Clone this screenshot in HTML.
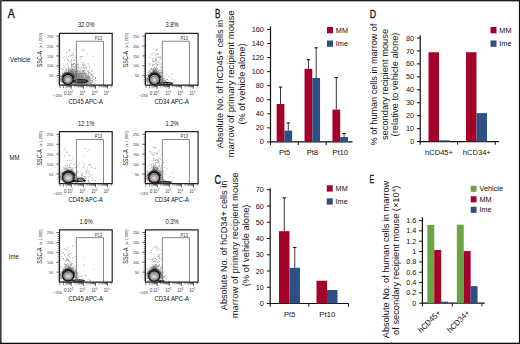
<!DOCTYPE html>
<html><head><meta charset="utf-8"><style>
html,body{margin:0;padding:0;background:#fff;width:520px;height:344px;overflow:hidden;}
svg{display:block;font-family:"Liberation Sans", sans-serif;}
</style></head><body>
<svg width="520" height="344" viewBox="0 0 520 344" font-family='"Liberation Sans", sans-serif'><text x="7.80" y="18.00" font-size="12.2" text-anchor="start" fill="#111" textLength="7.0" lengthAdjust="spacingAndGlyphs" stroke="#111" stroke-width="0.3">A</text>
<text x="214.90" y="18.00" font-size="12.2" text-anchor="start" fill="#111" textLength="5.4" lengthAdjust="spacingAndGlyphs" stroke="#111" stroke-width="0.3">B</text>
<text x="214.40" y="183.60" font-size="12.2" text-anchor="start" fill="#111" textLength="6.6" lengthAdjust="spacingAndGlyphs" stroke="#111" stroke-width="0.3">C</text>
<text x="369.80" y="17.60" font-size="11.4" text-anchor="start" fill="#111" textLength="6.4" lengthAdjust="spacingAndGlyphs" stroke="#111" stroke-width="0.3">D</text>
<text x="369.60" y="182.90" font-size="11.6" text-anchor="start" fill="#111" textLength="4.7" lengthAdjust="spacingAndGlyphs" stroke="#111" stroke-width="0.3">E</text>
<text x="10.10" y="61.50" font-size="7.2" text-anchor="start" fill="#111" textLength="20.299999999999997" lengthAdjust="spacingAndGlyphs" >Vehicle</text>
<text x="9.50" y="160.00" font-size="7.2" text-anchor="start" fill="#111" textLength="10.0" lengthAdjust="spacingAndGlyphs" >MM</text>
<text x="8.75" y="258.50" font-size="7.2" text-anchor="start" fill="#111" textLength="10.0" lengthAdjust="spacingAndGlyphs" >Ime</text>
<defs><radialGradient id="hz"><stop offset="0" stop-color="#000" stop-opacity="1"/><stop offset="1" stop-color="#000" stop-opacity="0"/></radialGradient></defs>
<ellipse cx="73.50" cy="74.20" rx="11" ry="9" fill="url(#hz)" opacity="0.35"/>
<ellipse cx="67.90" cy="75.20" rx="4.5" ry="4" fill="url(#hz)" opacity="0.5"/>
<path d="M68.5 75.2h.8v.8h-.8zM71.4 84.0h.8v.8h-.8zM66.0 84.2h.8v.8h-.8zM68.7 78.3h.8v.8h-.8zM73.4 84.0h.8v.8h-.8zM70.4 83.8h.8v.8h-.8zM63.2 83.5h.8v.8h-.8zM72.7 82.4h.8v.8h-.8zM63.1 77.0h.8v.8h-.8zM62.9 80.2h.8v.8h-.8zM70.7 67.1h.8v.8h-.8zM69.3 81.6h.8v.8h-.8zM70.7 81.4h.8v.8h-.8zM71.0 69.5h.8v.8h-.8zM71.6 75.5h.8v.8h-.8zM74.0 80.5h.8v.8h-.8zM68.2 84.1h.8v.8h-.8zM69.1 82.6h.8v.8h-.8zM67.8 81.3h.8v.8h-.8zM65.9 76.8h.8v.8h-.8zM66.4 70.5h.8v.8h-.8zM70.4 73.9h.8v.8h-.8zM69.7 78.0h.8v.8h-.8zM74.5 66.0h.8v.8h-.8zM69.1 49.4h.8v.8h-.8zM66.4 83.6h.8v.8h-.8zM63.9 83.2h.8v.8h-.8zM72.6 78.7h.8v.8h-.8zM75.0 71.7h.8v.8h-.8zM70.9 77.0h.8v.8h-.8zM71.8 74.0h.8v.8h-.8zM67.2 76.6h.8v.8h-.8zM65.8 68.2h.8v.8h-.8zM67.5 58.6h.8v.8h-.8zM64.0 84.1h.8v.8h-.8zM70.4 73.8h.8v.8h-.8zM62.3 69.2h.8v.8h-.8zM73.2 79.1h.8v.8h-.8zM70.4 84.2h.8v.8h-.8zM71.2 71.5h.8v.8h-.8zM71.5 80.2h.8v.8h-.8zM71.6 66.2h.8v.8h-.8zM73.1 77.5h.8v.8h-.8zM71.5 65.4h.8v.8h-.8zM72.7 81.8h.8v.8h-.8zM62.6 79.9h.8v.8h-.8zM64.5 56.2h.8v.8h-.8zM75.6 83.2h.8v.8h-.8zM70.7 82.3h.8v.8h-.8zM72.0 78.7h.8v.8h-.8zM67.9 79.8h.8v.8h-.8zM66.2 57.2h.8v.8h-.8zM73.1 74.1h.8v.8h-.8zM64.3 74.6h.8v.8h-.8zM69.0 84.2h.8v.8h-.8zM74.8 66.0h.8v.8h-.8zM65.6 70.3h.8v.8h-.8zM66.5 83.7h.8v.8h-.8zM71.9 75.6h.8v.8h-.8zM70.8 82.6h.8v.8h-.8zM70.0 83.1h.8v.8h-.8zM70.6 83.2h.8v.8h-.8zM71.7 66.0h.8v.8h-.8zM67.9 82.1h.8v.8h-.8zM68.1 80.9h.8v.8h-.8zM68.2 67.7h.8v.8h-.8zM65.2 83.9h.8v.8h-.8zM70.4 83.7h.8v.8h-.8zM67.9 68.8h.8v.8h-.8zM72.0 83.1h.8v.8h-.8zM78.7 77.9h.8v.8h-.8zM70.8 83.3h.8v.8h-.8zM68.6 77.9h.8v.8h-.8zM69.3 50.1h.8v.8h-.8zM73.3 82.0h.8v.8h-.8zM65.1 80.6h.8v.8h-.8zM72.8 77.9h.8v.8h-.8zM75.2 71.1h.8v.8h-.8zM68.2 69.7h.8v.8h-.8zM73.6 69.3h.8v.8h-.8zM64.0 72.6h.8v.8h-.8zM70.2 80.7h.8v.8h-.8zM72.5 82.0h.8v.8h-.8zM70.0 74.1h.8v.8h-.8zM73.5 59.8h.8v.8h-.8zM73.0 82.5h.8v.8h-.8zM68.5 82.4h.8v.8h-.8zM70.3 75.9h.8v.8h-.8zM71.9 63.9h.8v.8h-.8zM71.8 75.2h.8v.8h-.8zM65.8 70.2h.8v.8h-.8zM74.3 63.1h.8v.8h-.8zM72.3 71.0h.8v.8h-.8zM69.5 82.9h.8v.8h-.8zM65.2 70.7h.8v.8h-.8zM66.1 52.6h.8v.8h-.8zM75.4 80.2h.8v.8h-.8zM62.0 73.1h.8v.8h-.8zM74.8 83.0h.8v.8h-.8zM71.0 63.5h.8v.8h-.8zM71.1 69.9h.8v.8h-.8zM73.8 49.4h.8v.8h-.8zM75.2 75.1h.8v.8h-.8zM66.7 83.4h.8v.8h-.8zM74.9 78.0h.8v.8h-.8zM68.5 60.3h.8v.8h-.8zM62.5 69.0h.8v.8h-.8zM72.6 82.6h.8v.8h-.8zM69.5 82.2h.8v.8h-.8zM72.7 76.8h.8v.8h-.8zM69.3 83.4h.8v.8h-.8zM73.5 63.0h.8v.8h-.8zM66.9 76.8h.8v.8h-.8zM72.8 63.6h.8v.8h-.8zM62.0 78.4h.8v.8h-.8zM73.6 77.9h.8v.8h-.8zM68.8 79.5h.8v.8h-.8zM69.4 82.9h.8v.8h-.8zM76.3 83.0h.8v.8h-.8zM69.7 78.9h.8v.8h-.8zM68.7 81.1h.8v.8h-.8zM64.7 78.1h.8v.8h-.8zM63.2 83.7h.8v.8h-.8zM67.2 77.3h.8v.8h-.8zM69.5 71.4h.8v.8h-.8zM72.6 78.3h.8v.8h-.8zM63.6 62.8h.8v.8h-.8zM67.1 79.4h.8v.8h-.8zM66.1 78.2h.8v.8h-.8zM66.6 74.1h.8v.8h-.8zM65.0 78.8h.8v.8h-.8zM70.9 59.2h.8v.8h-.8zM67.1 59.0h.8v.8h-.8zM62.1 82.0h.8v.8h-.8zM61.0 68.2h.8v.8h-.8zM66.2 83.4h.8v.8h-.8zM72.5 84.0h.8v.8h-.8zM72.3 82.2h.8v.8h-.8zM74.6 70.9h.8v.8h-.8zM72.0 64.2h.8v.8h-.8zM72.9 75.0h.8v.8h-.8zM74.5 83.3h.8v.8h-.8zM76.9 82.5h.8v.8h-.8zM62.8 57.3h.8v.8h-.8zM72.1 68.6h.8v.8h-.8zM71.6 78.2h.8v.8h-.8zM72.9 81.0h.8v.8h-.8zM70.6 73.2h.8v.8h-.8zM68.1 81.1h.8v.8h-.8zM66.3 84.1h.8v.8h-.8zM71.9 83.7h.8v.8h-.8zM75.9 81.9h.8v.8h-.8zM71.1 83.5h.8v.8h-.8zM62.1 69.3h.8v.8h-.8zM73.4 82.0h.8v.8h-.8zM74.5 77.1h.8v.8h-.8zM76.4 73.9h.8v.8h-.8zM70.6 74.2h.8v.8h-.8zM70.2 79.7h.8v.8h-.8zM77.6 75.6h.8v.8h-.8zM73.4 70.1h.8v.8h-.8zM76.0 84.1h.8v.8h-.8zM73.3 66.8h.8v.8h-.8zM66.2 77.5h.8v.8h-.8zM70.5 61.2h.8v.8h-.8zM69.3 78.0h.8v.8h-.8zM71.5 82.2h.8v.8h-.8zM71.2 84.2h.8v.8h-.8zM70.9 82.7h.8v.8h-.8zM68.3 71.9h.8v.8h-.8zM72.5 81.6h.8v.8h-.8zM67.1 80.9h.8v.8h-.8zM69.5 72.8h.8v.8h-.8zM70.2 77.5h.8v.8h-.8zM71.1 60.1h.8v.8h-.8zM73.5 83.7h.8v.8h-.8zM71.2 78.6h.8v.8h-.8zM65.8 68.5h.8v.8h-.8zM66.0 74.2h.8v.8h-.8zM65.5 73.7h.8v.8h-.8zM75.5 75.6h.8v.8h-.8zM66.6 84.2h.8v.8h-.8zM71.5 83.4h.8v.8h-.8zM75.1 82.0h.8v.8h-.8zM72.2 83.1h.8v.8h-.8zM75.8 66.3h.8v.8h-.8zM73.2 74.7h.8v.8h-.8zM68.9 81.6h.8v.8h-.8zM72.3 79.2h.8v.8h-.8zM71.8 82.0h.8v.8h-.8zM73.0 55.3h.8v.8h-.8zM74.2 82.2h.8v.8h-.8zM68.7 54.4h.8v.8h-.8zM72.8 80.4h.8v.8h-.8zM65.1 82.7h.8v.8h-.8zM70.2 78.4h.8v.8h-.8zM72.5 83.9h.8v.8h-.8zM69.6 80.1h.8v.8h-.8zM70.3 81.4h.8v.8h-.8zM69.7 82.3h.8v.8h-.8zM65.5 72.2h.8v.8h-.8zM67.1 75.1h.8v.8h-.8zM67.8 80.3h.8v.8h-.8zM61.9 81.1h.8v.8h-.8zM71.7 73.1h.8v.8h-.8zM69.3 75.4h.8v.8h-.8zM76.4 64.7h.8v.8h-.8zM71.5 75.8h.8v.8h-.8zM68.8 83.3h.8v.8h-.8zM62.6 78.0h.8v.8h-.8zM62.3 70.0h.8v.8h-.8zM69.3 68.9h.8v.8h-.8zM62.6 74.4h.8v.8h-.8zM65.5 74.1h.8v.8h-.8zM69.6 83.4h.8v.8h-.8zM70.4 80.7h.8v.8h-.8zM75.2 77.3h.8v.8h-.8zM73.9 75.8h.8v.8h-.8zM65.5 78.7h.8v.8h-.8zM71.4 78.4h.8v.8h-.8zM63.5 77.8h.8v.8h-.8zM68.7 72.7h.8v.8h-.8zM68.3 82.1h.8v.8h-.8zM72.2 72.9h.8v.8h-.8zM70.8 82.6h.8v.8h-.8zM68.8 78.6h.8v.8h-.8zM63.8 71.6h.8v.8h-.8zM70.3 76.1h.8v.8h-.8zM68.5 83.3h.8v.8h-.8zM68.3 82.1h.8v.8h-.8zM69.4 77.2h.8v.8h-.8zM72.3 74.7h.8v.8h-.8zM70.6 74.1h.8v.8h-.8zM68.1 78.2h.8v.8h-.8zM66.7 79.1h.8v.8h-.8zM67.6 64.5h.8v.8h-.8zM69.9 82.7h.8v.8h-.8zM68.3 79.2h.8v.8h-.8zM73.7 79.3h.8v.8h-.8zM71.8 82.6h.8v.8h-.8zM78.4 76.9h.8v.8h-.8zM72.4 57.2h.8v.8h-.8zM73.1 83.4h.8v.8h-.8zM71.4 65.1h.8v.8h-.8zM65.4 73.8h.8v.8h-.8zM70.4 78.7h.8v.8h-.8zM73.9 79.3h.8v.8h-.8zM69.6 81.5h.8v.8h-.8zM71.7 81.3h.8v.8h-.8zM72.2 68.2h.8v.8h-.8zM75.8 68.3h.8v.8h-.8zM69.6 83.5h.8v.8h-.8zM74.9 63.8h.8v.8h-.8zM66.8 81.6h.8v.8h-.8zM72.2 76.7h.8v.8h-.8zM66.9 81.8h.8v.8h-.8zM72.6 84.3h.8v.8h-.8zM75.3 81.7h.8v.8h-.8zM73.8 60.0h.8v.8h-.8zM69.5 78.3h.8v.8h-.8zM72.5 82.8h.8v.8h-.8zM62.9 65.3h.8v.8h-.8zM76.3 69.7h.8v.8h-.8zM63.8 59.3h.8v.8h-.8zM63.3 77.5h.8v.8h-.8zM69.3 72.8h.8v.8h-.8zM68.3 79.3h.8v.8h-.8zM69.6 81.7h.8v.8h-.8zM64.0 84.2h.8v.8h-.8zM71.3 78.9h.8v.8h-.8zM68.6 80.9h.8v.8h-.8zM67.7 51.0h.8v.8h-.8zM75.5 82.0h.8v.8h-.8zM67.7 77.4h.8v.8h-.8zM66.8 80.2h.8v.8h-.8zM70.6 82.6h.8v.8h-.8zM71.5 63.4h.8v.8h-.8zM66.8 63.4h.8v.8h-.8zM67.5 82.8h.8v.8h-.8zM70.1 83.8h.8v.8h-.8zM68.6 82.2h.8v.8h-.8zM70.9 82.0h.8v.8h-.8zM62.3 72.2h.8v.8h-.8zM66.1 79.9h.8v.8h-.8zM65.5 80.4h.8v.8h-.8zM71.9 81.0h.8v.8h-.8zM72.3 53.8h.8v.8h-.8zM70.7 83.5h.8v.8h-.8zM64.1 66.8h.8v.8h-.8zM69.4 82.5h.8v.8h-.8zM69.1 80.1h.8v.8h-.8zM72.3 79.4h.8v.8h-.8zM76.6 66.1h.8v.8h-.8zM75.4 64.4h.8v.8h-.8zM70.7 78.9h.8v.8h-.8zM69.4 80.2h.8v.8h-.8zM69.5 61.2h.8v.8h-.8zM72.9 52.4h.8v.8h-.8zM62.9 82.1h.8v.8h-.8zM71.2 78.0h.8v.8h-.8zM70.9 74.4h.8v.8h-.8zM75.2 75.3h.8v.8h-.8zM67.3 71.7h.8v.8h-.8zM64.9 84.3h.8v.8h-.8zM70.8 71.0h.8v.8h-.8zM70.4 75.4h.8v.8h-.8zM78.0 81.4h.8v.8h-.8zM71.5 75.6h.8v.8h-.8zM71.6 73.9h.8v.8h-.8zM70.6 78.0h.8v.8h-.8zM70.4 76.8h.8v.8h-.8zM67.4 76.4h.8v.8h-.8zM68.2 56.0h.8v.8h-.8zM73.5 75.4h.8v.8h-.8zM72.7 82.3h.8v.8h-.8zM66.6 82.1h.8v.8h-.8zM75.3 81.4h.8v.8h-.8zM63.8 79.8h.8v.8h-.8zM69.6 82.0h.8v.8h-.8zM65.2 82.4h.8v.8h-.8zM62.0 84.4h.8v.8h-.8zM67.4 74.4h.8v.8h-.8zM72.9 82.7h.8v.8h-.8zM71.3 78.4h.8v.8h-.8zM63.5 82.6h.8v.8h-.8zM72.7 69.3h.8v.8h-.8zM68.9 82.3h.8v.8h-.8zM70.6 81.6h.8v.8h-.8zM75.8 57.4h.8v.8h-.8zM67.1 82.4h.8v.8h-.8zM69.6 79.8h.8v.8h-.8zM64.8 83.3h.8v.8h-.8zM61.5 80.2h.8v.8h-.8zM71.9 83.3h.8v.8h-.8zM79.5 84.2h.8v.8h-.8zM73.0 64.1h.8v.8h-.8zM70.9 65.3h.8v.8h-.8zM68.1 60.6h.8v.8h-.8zM73.0 72.4h.8v.8h-.8zM67.6 80.5h.8v.8h-.8zM66.3 81.1h.8v.8h-.8zM69.6 81.7h.8v.8h-.8zM69.8 80.8h.8v.8h-.8zM71.4 54.7h.8v.8h-.8zM69.0 82.6h.8v.8h-.8zM65.1 69.2h.8v.8h-.8zM75.0 79.6h.8v.8h-.8zM73.6 80.5h.8v.8h-.8zM70.8 62.0h.8v.8h-.8zM70.8 64.2h.8v.8h-.8zM63.6 71.6h.8v.8h-.8zM73.2 84.3h.8v.8h-.8zM70.8 62.0h.8v.8h-.8zM69.8 82.0h.8v.8h-.8zM69.4 81.0h.8v.8h-.8zM61.4 81.8h.8v.8h-.8zM74.6 82.0h.8v.8h-.8zM68.1 73.4h.8v.8h-.8zM72.3 72.0h.8v.8h-.8zM74.2 58.9h.8v.8h-.8zM69.9 56.4h.8v.8h-.8zM73.8 57.0h.8v.8h-.8zM67.3 79.6h.8v.8h-.8zM71.4 78.6h.8v.8h-.8zM71.7 70.1h.8v.8h-.8zM68.4 72.6h.8v.8h-.8zM72.4 76.3h.8v.8h-.8zM63.6 81.1h.8v.8h-.8zM68.0 71.0h.8v.8h-.8zM72.8 84.0h.8v.8h-.8zM71.6 82.1h.8v.8h-.8zM75.5 84.1h.8v.8h-.8zM74.2 81.2h.8v.8h-.8zM70.5 49.4h.8v.8h-.8zM77.9 81.9h.8v.8h-.8zM62.0 83.9h.8v.8h-.8zM73.2 73.6h.8v.8h-.8zM72.0 79.4h.8v.8h-.8zM69.9 76.0h.8v.8h-.8zM73.4 74.6h.8v.8h-.8zM81.4 76.5h.8v.8h-.8zM70.8 83.7h.8v.8h-.8zM84.0 78.4h.8v.8h-.8zM77.6 81.2h.8v.8h-.8zM81.2 82.6h.8v.8h-.8zM77.8 82.6h.8v.8h-.8zM88.0 78.2h.8v.8h-.8zM90.9 81.7h.8v.8h-.8zM67.8 79.4h.8v.8h-.8zM91.9 82.7h.8v.8h-.8zM84.4 49.4h.8v.8h-.8zM74.0 83.9h.8v.8h-.8zM71.5 70.9h.8v.8h-.8zM83.1 66.3h.8v.8h-.8zM85.9 83.7h.8v.8h-.8zM82.7 83.1h.8v.8h-.8zM88.7 64.7h.8v.8h-.8zM80.3 81.2h.8v.8h-.8zM85.5 82.4h.8v.8h-.8zM77.0 73.4h.8v.8h-.8zM84.0 77.9h.8v.8h-.8zM80.6 77.4h.8v.8h-.8zM82.6 83.6h.8v.8h-.8zM86.7 83.0h.8v.8h-.8zM81.3 76.8h.8v.8h-.8zM88.9 83.0h.8v.8h-.8zM86.4 76.2h.8v.8h-.8zM81.8 83.2h.8v.8h-.8zM80.1 72.8h.8v.8h-.8zM84.9 78.7h.8v.8h-.8zM83.8 80.9h.8v.8h-.8zM82.5 78.7h.8v.8h-.8zM80.0 83.4h.8v.8h-.8zM79.7 75.8h.8v.8h-.8zM77.7 81.9h.8v.8h-.8zM83.9 61.7h.8v.8h-.8zM78.8 81.4h.8v.8h-.8zM88.1 80.7h.8v.8h-.8zM93.7 81.3h.8v.8h-.8zM67.5 83.1h.8v.8h-.8zM77.8 67.3h.8v.8h-.8zM72.5 80.8h.8v.8h-.8zM86.2 68.6h.8v.8h-.8zM82.3 78.7h.8v.8h-.8zM73.8 84.0h.8v.8h-.8zM72.2 77.4h.8v.8h-.8zM77.0 83.5h.8v.8h-.8zM86.2 82.2h.8v.8h-.8zM69.1 83.8h.8v.8h-.8zM79.8 79.6h.8v.8h-.8zM86.3 83.1h.8v.8h-.8zM68.0 83.7h.8v.8h-.8zM95.5 79.8h.8v.8h-.8zM76.3 84.3h.8v.8h-.8zM86.4 67.1h.8v.8h-.8zM79.1 77.4h.8v.8h-.8zM83.0 73.1h.8v.8h-.8zM78.6 82.8h.8v.8h-.8zM72.7 71.4h.8v.8h-.8zM87.5 83.2h.8v.8h-.8zM82.6 79.2h.8v.8h-.8zM86.9 81.1h.8v.8h-.8zM84.5 75.0h.8v.8h-.8zM84.4 67.6h.8v.8h-.8zM88.3 74.1h.8v.8h-.8zM82.9 77.8h.8v.8h-.8zM79.2 78.7h.8v.8h-.8zM78.2 80.6h.8v.8h-.8zM78.1 78.1h.8v.8h-.8zM74.3 80.3h.8v.8h-.8zM85.1 80.4h.8v.8h-.8zM89.1 79.7h.8v.8h-.8zM82.6 82.7h.8v.8h-.8zM82.3 80.1h.8v.8h-.8zM72.0 83.2h.8v.8h-.8zM78.9 83.7h.8v.8h-.8zM81.9 80.5h.8v.8h-.8zM86.5 79.3h.8v.8h-.8zM84.7 84.4h.8v.8h-.8zM80.0 74.8h.8v.8h-.8zM79.8 73.4h.8v.8h-.8zM79.7 79.4h.8v.8h-.8zM81.4 81.1h.8v.8h-.8zM84.3 70.1h.8v.8h-.8zM80.4 83.1h.8v.8h-.8zM71.5 54.7h.8v.8h-.8zM67.7 66.1h.8v.8h-.8zM82.2 83.3h.8v.8h-.8zM84.5 84.2h.8v.8h-.8zM69.2 81.5h.8v.8h-.8zM81.6 67.7h.8v.8h-.8zM78.3 82.3h.8v.8h-.8zM82.7 79.5h.8v.8h-.8zM78.7 65.8h.8v.8h-.8zM82.6 79.4h.8v.8h-.8zM85.6 81.8h.8v.8h-.8zM84.9 83.4h.8v.8h-.8zM82.3 64.0h.8v.8h-.8zM76.5 83.3h.8v.8h-.8zM70.9 73.2h.8v.8h-.8zM86.6 77.1h.8v.8h-.8zM86.0 81.4h.8v.8h-.8zM86.4 78.2h.8v.8h-.8zM76.5 68.6h.8v.8h-.8zM95.2 77.2h.8v.8h-.8zM92.1 80.9h.8v.8h-.8zM82.8 49.8h.8v.8h-.8zM77.4 78.2h.8v.8h-.8zM75.5 80.3h.8v.8h-.8zM88.7 83.2h.8v.8h-.8zM81.4 71.8h.8v.8h-.8zM79.8 82.5h.8v.8h-.8zM71.4 78.1h.8v.8h-.8zM69.4 76.5h.8v.8h-.8zM81.8 83.5h.8v.8h-.8zM77.1 79.3h.8v.8h-.8zM77.6 67.8h.8v.8h-.8zM84.2 76.8h.8v.8h-.8zM86.6 83.9h.8v.8h-.8zM81.6 81.4h.8v.8h-.8zM82.7 78.0h.8v.8h-.8zM88.7 83.0h.8v.8h-.8zM77.1 83.6h.8v.8h-.8zM77.1 64.0h.8v.8h-.8zM81.6 83.9h.8v.8h-.8zM84.6 77.1h.8v.8h-.8zM88.1 80.8h.8v.8h-.8zM74.6 82.4h.8v.8h-.8zM89.4 78.5h.8v.8h-.8zM82.1 81.5h.8v.8h-.8zM77.9 63.9h.8v.8h-.8zM76.8 74.8h.8v.8h-.8zM81.6 84.4h.8v.8h-.8zM93.4 79.0h.8v.8h-.8zM78.1 84.2h.8v.8h-.8zM83.8 73.4h.8v.8h-.8zM88.4 63.5h.8v.8h-.8zM82.0 83.5h.8v.8h-.8zM83.8 79.4h.8v.8h-.8zM88.7 77.0h.8v.8h-.8zM82.8 81.9h.8v.8h-.8zM78.4 82.0h.8v.8h-.8zM92.5 73.2h.8v.8h-.8zM85.0 75.3h.8v.8h-.8zM92.1 74.4h.8v.8h-.8zM81.9 80.0h.8v.8h-.8zM81.2 82.8h.8v.8h-.8zM75.5 83.9h.8v.8h-.8zM81.7 81.6h.8v.8h-.8zM83.0 74.3h.8v.8h-.8zM77.9 75.4h.8v.8h-.8zM71.5 82.4h.8v.8h-.8zM75.9 73.1h.8v.8h-.8zM79.5 79.1h.8v.8h-.8zM80.7 59.5h.8v.8h-.8zM89.3 82.9h.8v.8h-.8zM82.2 82.4h.8v.8h-.8zM80.8 82.7h.8v.8h-.8zM81.0 74.4h.8v.8h-.8zM68.3 81.7h.8v.8h-.8zM85.1 82.6h.8v.8h-.8zM78.1 66.8h.8v.8h-.8zM75.7 76.5h.8v.8h-.8zM75.3 55.7h.8v.8h-.8zM71.2 75.7h.8v.8h-.8zM83.5 70.1h.8v.8h-.8zM73.3 78.4h.8v.8h-.8zM84.9 81.9h.8v.8h-.8zM83.3 84.1h.8v.8h-.8zM89.0 66.6h.8v.8h-.8zM82.3 83.9h.8v.8h-.8zM82.5 64.9h.8v.8h-.8zM84.0 84.4h.8v.8h-.8zM78.7 75.7h.8v.8h-.8zM74.2 74.7h.8v.8h-.8zM88.2 81.3h.8v.8h-.8zM84.5 71.9h.8v.8h-.8zM86.4 84.2h.8v.8h-.8zM71.0 69.5h.8v.8h-.8zM92.9 83.9h.8v.8h-.8zM74.7 83.0h.8v.8h-.8zM82.6 70.6h.8v.8h-.8zM82.4 72.2h.8v.8h-.8zM74.7 77.2h.8v.8h-.8zM73.8 82.2h.8v.8h-.8zM83.5 74.1h.8v.8h-.8zM83.0 83.0h.8v.8h-.8zM86.7 82.5h.8v.8h-.8zM79.7 81.3h.8v.8h-.8zM90.0 81.8h.8v.8h-.8zM87.8 70.4h.8v.8h-.8zM80.0 77.5h.8v.8h-.8zM87.1 80.4h.8v.8h-.8zM82.6 73.6h.8v.8h-.8zM76.6 78.9h.8v.8h-.8zM88.6 82.9h.8v.8h-.8zM83.1 71.8h.8v.8h-.8zM79.7 83.3h.8v.8h-.8zM85.2 73.9h.8v.8h-.8zM81.5 56.1h.8v.8h-.8zM87.9 79.6h.8v.8h-.8zM81.7 72.7h.8v.8h-.8zM84.1 81.5h.8v.8h-.8zM87.4 71.3h.8v.8h-.8zM80.6 82.2h.8v.8h-.8zM94.7 82.9h.8v.8h-.8zM79.5 83.8h.8v.8h-.8zM75.4 77.1h.8v.8h-.8zM90.0 75.7h.8v.8h-.8zM86.2 73.1h.8v.8h-.8zM77.9 80.9h.8v.8h-.8zM77.8 80.9h.8v.8h-.8zM83.3 68.3h.8v.8h-.8zM82.7 67.3h.8v.8h-.8zM85.6 79.5h.8v.8h-.8zM73.2 82.7h.8v.8h-.8zM89.4 80.1h.8v.8h-.8zM72.5 74.2h.8v.8h-.8zM79.7 76.9h.8v.8h-.8zM78.7 83.4h.8v.8h-.8zM85.5 70.8h.8v.8h-.8zM76.8 83.3h.8v.8h-.8zM73.8 80.4h.8v.8h-.8zM82.6 83.7h.8v.8h-.8zM74.3 80.1h.8v.8h-.8zM84.5 83.1h.8v.8h-.8zM78.8 82.0h.8v.8h-.8zM78.4 83.4h.8v.8h-.8zM71.4 83.4h.8v.8h-.8zM81.6 79.2h.8v.8h-.8zM86.4 83.4h.8v.8h-.8zM79.8 57.0h.8v.8h-.8zM84.6 74.9h.8v.8h-.8zM92.8 83.9h.8v.8h-.8zM89.9 81.1h.8v.8h-.8zM91.2 74.8h.8v.8h-.8zM80.5 80.4h.8v.8h-.8zM84.1 83.9h.8v.8h-.8zM88.9 83.0h.8v.8h-.8zM80.4 80.9h.8v.8h-.8zM82.4 73.0h.8v.8h-.8zM79.2 77.2h.8v.8h-.8zM75.4 80.0h.8v.8h-.8zM86.2 80.8h.8v.8h-.8zM87.3 74.6h.8v.8h-.8zM86.4 78.3h.8v.8h-.8zM78.3 74.3h.8v.8h-.8zM78.0 75.1h.8v.8h-.8zM83.4 68.8h.8v.8h-.8zM82.8 70.3h.8v.8h-.8zM73.1 76.2h.8v.8h-.8zM77.7 81.9h.8v.8h-.8zM76.8 77.3h.8v.8h-.8zM86.2 73.3h.8v.8h-.8zM84.8 75.3h.8v.8h-.8zM78.6 80.6h.8v.8h-.8zM78.5 80.1h.8v.8h-.8zM77.4 76.3h.8v.8h-.8zM77.6 64.7h.8v.8h-.8zM84.8 73.4h.8v.8h-.8zM88.8 81.0h.8v.8h-.8zM82.5 78.8h.8v.8h-.8zM86.6 63.5h.8v.8h-.8zM89.6 79.2h.8v.8h-.8zM87.3 78.9h.8v.8h-.8zM85.8 75.2h.8v.8h-.8zM73.7 71.5h.8v.8h-.8zM80.9 79.2h.8v.8h-.8zM70.2 82.9h.8v.8h-.8zM88.6 76.1h.8v.8h-.8zM74.2 83.7h.8v.8h-.8zM87.3 53.5h.8v.8h-.8zM80.3 82.3h.8v.8h-.8zM83.0 80.9h.8v.8h-.8zM87.2 80.6h.8v.8h-.8zM82.0 75.7h.8v.8h-.8zM78.9 82.8h.8v.8h-.8zM85.0 74.6h.8v.8h-.8zM87.8 82.8h.8v.8h-.8zM79.0 72.6h.8v.8h-.8zM78.5 83.7h.8v.8h-.8zM83.9 73.5h.8v.8h-.8zM84.4 80.0h.8v.8h-.8zM74.2 78.5h.8v.8h-.8zM83.6 81.4h.8v.8h-.8zM95.5 77.1h.8v.8h-.8zM85.7 80.0h.8v.8h-.8zM72.3 82.1h.8v.8h-.8zM78.8 71.2h.8v.8h-.8zM80.7 81.4h.8v.8h-.8zM84.1 81.2h.8v.8h-.8zM78.0 82.5h.8v.8h-.8zM83.1 75.1h.8v.8h-.8zM80.7 82.0h.8v.8h-.8zM85.5 79.8h.8v.8h-.8zM74.4 76.6h.8v.8h-.8zM84.9 81.3h.8v.8h-.8zM91.2 84.3h.8v.8h-.8zM76.8 71.5h.8v.8h-.8zM89.5 83.6h.8v.8h-.8zM76.1 71.4h.8v.8h-.8zM80.8 62.0h.8v.8h-.8zM79.2 83.9h.8v.8h-.8zM78.0 83.5h.8v.8h-.8zM82.5 81.5h.8v.8h-.8zM91.0 83.5h.8v.8h-.8zM89.5 83.3h.8v.8h-.8zM76.0 68.1h.8v.8h-.8zM74.0 76.4h.8v.8h-.8zM75.5 67.9h.8v.8h-.8zM84.0 83.1h.8v.8h-.8zM71.3 75.8h.8v.8h-.8zM72.6 80.4h.8v.8h-.8zM79.8 68.6h.8v.8h-.8zM77.4 82.7h.8v.8h-.8zM80.0 83.6h.8v.8h-.8zM79.6 80.0h.8v.8h-.8zM81.6 83.5h.8v.8h-.8zM75.1 78.9h.8v.8h-.8zM81.8 69.8h.8v.8h-.8zM92.0 80.0h.8v.8h-.8zM81.9 78.5h.8v.8h-.8zM76.2 81.2h.8v.8h-.8zM72.4 80.6h.8v.8h-.8zM83.6 77.1h.8v.8h-.8zM81.0 77.1h.8v.8h-.8zM88.9 76.1h.8v.8h-.8zM82.8 64.6h.8v.8h-.8zM74.0 79.3h.8v.8h-.8zM95.1 79.7h.8v.8h-.8zM82.7 75.2h.8v.8h-.8zM80.6 77.3h.8v.8h-.8zM75.7 81.3h.8v.8h-.8zM90.8 79.9h.8v.8h-.8zM72.2 82.9h.8v.8h-.8zM80.0 80.4h.8v.8h-.8zM75.3 71.6h.8v.8h-.8zM84.8 82.1h.8v.8h-.8zM84.1 79.4h.8v.8h-.8zM76.6 82.3h.8v.8h-.8zM66.6 76.7h.8v.8h-.8zM80.9 72.9h.8v.8h-.8zM79.2 82.0h.8v.8h-.8zM85.7 78.1h.8v.8h-.8zM75.1 84.4h.8v.8h-.8zM74.3 75.1h.8v.8h-.8zM86.7 84.3h.8v.8h-.8zM77.0 82.0h.8v.8h-.8zM85.1 65.6h.8v.8h-.8zM81.6 77.7h.8v.8h-.8zM76.2 66.7h.8v.8h-.8zM73.4 77.6h.8v.8h-.8zM75.8 75.8h.8v.8h-.8zM76.3 77.9h.8v.8h-.8zM79.9 76.5h.8v.8h-.8zM78.1 80.1h.8v.8h-.8zM81.7 83.2h.8v.8h-.8zM83.4 76.7h.8v.8h-.8zM69.5 81.2h.8v.8h-.8zM85.8 78.5h.8v.8h-.8zM72.8 82.5h.8v.8h-.8zM79.7 81.8h.8v.8h-.8zM87.0 80.5h.8v.8h-.8zM73.4 84.3h.8v.8h-.8zM71.5 78.4h.8v.8h-.8zM84.2 72.2h.8v.8h-.8zM82.2 78.3h.8v.8h-.8zM78.6 81.0h.8v.8h-.8zM70.6 55.1h.8v.8h-.8zM74.4 79.9h.8v.8h-.8zM79.3 76.9h.8v.8h-.8zM82.8 82.9h.8v.8h-.8zM82.3 76.1h.8v.8h-.8zM91.8 84.0h.8v.8h-.8zM91.4 69.4h.8v.8h-.8zM82.2 75.2h.8v.8h-.8zM82.3 82.6h.8v.8h-.8zM81.1 84.3h.8v.8h-.8zM78.0 73.5h.8v.8h-.8zM79.0 74.9h.8v.8h-.8zM71.0 84.0h.8v.8h-.8zM75.5 80.1h.8v.8h-.8zM75.2 64.5h.8v.8h-.8zM81.1 75.2h.8v.8h-.8zM89.4 71.9h.8v.8h-.8zM82.2 84.1h.8v.8h-.8zM78.2 83.3h.8v.8h-.8zM89.7 69.9h.8v.8h-.8zM79.6 81.3h.8v.8h-.8zM81.7 78.3h.8v.8h-.8zM73.8 83.5h.8v.8h-.8zM84.6 72.7h.8v.8h-.8zM76.3 77.2h.8v.8h-.8zM87.5 80.6h.8v.8h-.8zM74.2 63.0h.8v.8h-.8zM87.9 73.2h.8v.8h-.8zM77.3 84.2h.8v.8h-.8zM79.6 57.3h.8v.8h-.8zM78.5 81.7h.8v.8h-.8zM71.6 77.7h.8v.8h-.8zM91.8 77.8h.8v.8h-.8zM80.0 81.9h.8v.8h-.8zM71.1 81.2h.8v.8h-.8zM86.5 76.0h.8v.8h-.8zM72.1 72.3h.8v.8h-.8zM74.5 82.2h.8v.8h-.8zM85.8 80.6h.8v.8h-.8zM81.5 78.1h.8v.8h-.8zM86.1 84.4h.8v.8h-.8zM71.0 71.3h.8v.8h-.8zM85.7 78.3h.8v.8h-.8zM71.3 82.3h.8v.8h-.8zM87.4 76.0h.8v.8h-.8zM73.5 66.3h.8v.8h-.8zM80.2 78.6h.8v.8h-.8zM83.4 72.7h.8v.8h-.8zM84.3 64.6h.8v.8h-.8zM90.2 82.7h.8v.8h-.8zM75.0 80.0h.8v.8h-.8zM76.3 83.0h.8v.8h-.8zM81.2 72.9h.8v.8h-.8zM90.7 80.1h.8v.8h-.8zM90.0 73.6h.8v.8h-.8zM86.7 82.7h.8v.8h-.8zM71.2 68.5h.8v.8h-.8zM75.9 79.2h.8v.8h-.8zM74.2 83.1h.8v.8h-.8zM82.6 83.1h.8v.8h-.8zM85.1 81.3h.8v.8h-.8zM89.2 78.5h.8v.8h-.8zM76.1 83.5h.8v.8h-.8zM85.3 84.4h.8v.8h-.8zM86.8 83.9h.8v.8h-.8zM81.4 77.2h.8v.8h-.8zM82.2 77.9h.8v.8h-.8zM78.4 81.5h.8v.8h-.8zM81.4 49.9h.8v.8h-.8zM85.7 78.4h.8v.8h-.8zM76.8 82.4h.8v.8h-.8zM82.6 62.7h.8v.8h-.8zM75.8 73.8h.8v.8h-.8zM87.4 82.5h.8v.8h-.8zM82.6 84.0h.8v.8h-.8zM84.8 84.3h.8v.8h-.8zM71.1 80.1h.8v.8h-.8zM77.6 62.6h.8v.8h-.8zM83.2 77.9h.8v.8h-.8zM80.4 80.9h.8v.8h-.8zM91.7 82.5h.8v.8h-.8zM91.0 78.5h.8v.8h-.8zM72.8 76.4h.8v.8h-.8zM70.9 81.0h.8v.8h-.8zM78.4 59.4h.8v.8h-.8zM82.5 48.7h.8v.8h-.8zM81.8 82.5h.8v.8h-.8zM83.0 81.4h.8v.8h-.8zM91.3 71.1h.8v.8h-.8zM74.7 84.3h.8v.8h-.8zM83.5 76.9h.8v.8h-.8zM73.1 53.0h.8v.8h-.8zM84.4 74.2h.8v.8h-.8zM82.6 63.7h.8v.8h-.8zM79.4 78.0h.8v.8h-.8zM77.3 74.1h.8v.8h-.8zM85.3 82.5h.8v.8h-.8zM84.5 83.7h.8v.8h-.8zM78.2 82.7h.8v.8h-.8zM81.9 83.5h.8v.8h-.8zM81.1 75.2h.8v.8h-.8zM80.7 83.1h.8v.8h-.8zM93.8 82.8h.8v.8h-.8zM84.3 64.3h.8v.8h-.8zM89.2 83.6h.8v.8h-.8zM72.9 80.3h.8v.8h-.8zM91.9 70.8h.8v.8h-.8zM88.7 77.3h.8v.8h-.8zM76.7 71.7h.8v.8h-.8zM83.0 79.8h.8v.8h-.8zM79.4 82.8h.8v.8h-.8zM79.3 84.3h.8v.8h-.8zM79.9 83.5h.8v.8h-.8zM74.7 69.4h.8v.8h-.8zM80.9 83.4h.8v.8h-.8zM87.1 82.3h.8v.8h-.8zM84.1 83.3h.8v.8h-.8zM77.3 79.6h.8v.8h-.8zM76.6 83.8h.8v.8h-.8zM92.3 55.9h.8v.8h-.8zM92.4 76.4h.8v.8h-.8zM85.6 82.9h.8v.8h-.8zM77.0 82.5h.8v.8h-.8zM82.1 83.0h.8v.8h-.8zM94.2 65.3h.8v.8h-.8zM85.2 67.7h.8v.8h-.8zM84.1 84.3h.8v.8h-.8zM80.8 55.9h.8v.8h-.8zM83.3 83.6h.8v.8h-.8zM84.8 83.2h.8v.8h-.8zM75.7 80.4h.8v.8h-.8zM84.8 78.3h.8v.8h-.8zM79.5 83.6h.8v.8h-.8zM85.5 75.4h.8v.8h-.8zM90.0 83.1h.8v.8h-.8zM83.6 77.7h.8v.8h-.8zM82.6 79.6h.8v.8h-.8zM80.9 77.6h.8v.8h-.8zM85.2 75.5h.8v.8h-.8zM84.2 83.0h.8v.8h-.8zM74.8 84.2h.8v.8h-.8zM80.9 75.1h.8v.8h-.8zM75.9 84.3h.8v.8h-.8zM83.3 70.9h.8v.8h-.8zM76.9 69.7h.8v.8h-.8zM80.5 66.6h.8v.8h-.8zM81.5 79.8h.8v.8h-.8zM84.5 83.2h.8v.8h-.8zM78.4 71.3h.8v.8h-.8zM79.3 81.2h.8v.8h-.8zM83.9 77.9h.8v.8h-.8zM88.2 80.3h.8v.8h-.8zM81.7 76.7h.8v.8h-.8zM81.2 77.0h.8v.8h-.8zM71.6 80.0h.8v.8h-.8zM77.9 77.5h.8v.8h-.8zM76.3 78.2h.8v.8h-.8zM79.5 83.4h.8v.8h-.8zM71.7 74.6h.8v.8h-.8zM81.7 74.5h.8v.8h-.8zM83.4 78.5h.8v.8h-.8zM84.9 80.0h.8v.8h-.8zM84.0 78.5h.8v.8h-.8zM80.3 82.0h.8v.8h-.8zM86.4 78.4h.8v.8h-.8zM82.5 75.0h.8v.8h-.8zM77.3 73.6h.8v.8h-.8zM80.3 83.0h.8v.8h-.8zM88.2 78.0h.8v.8h-.8zM79.9 80.7h.8v.8h-.8zM86.0 75.8h.8v.8h-.8zM81.5 80.4h.8v.8h-.8zM85.4 80.8h.8v.8h-.8zM87.1 79.3h.8v.8h-.8zM79.1 73.7h.8v.8h-.8zM77.5 81.1h.8v.8h-.8zM90.3 81.0h.8v.8h-.8zM79.4 73.2h.8v.8h-.8zM86.5 75.2h.8v.8h-.8zM80.6 83.0h.8v.8h-.8zM78.1 77.0h.8v.8h-.8zM85.0 76.6h.8v.8h-.8zM86.6 83.6h.8v.8h-.8zM80.3 82.9h.8v.8h-.8zM76.2 78.8h.8v.8h-.8zM80.0 70.7h.8v.8h-.8zM80.0 80.3h.8v.8h-.8zM79.8 74.5h.8v.8h-.8zM85.2 75.8h.8v.8h-.8zM86.6 81.1h.8v.8h-.8zM84.0 77.6h.8v.8h-.8zM81.5 83.3h.8v.8h-.8zM92.7 79.4h.8v.8h-.8zM68.7 74.5h.8v.8h-.8zM74.1 82.9h.8v.8h-.8zM73.9 82.4h.8v.8h-.8zM83.2 77.8h.8v.8h-.8zM89.7 77.6h.8v.8h-.8zM88.3 81.9h.8v.8h-.8zM78.0 78.2h.8v.8h-.8zM88.2 71.5h.8v.8h-.8zM87.0 77.6h.8v.8h-.8zM86.1 77.3h.8v.8h-.8zM79.3 72.0h.8v.8h-.8zM73.8 75.8h.8v.8h-.8zM81.1 74.6h.8v.8h-.8zM82.9 79.1h.8v.8h-.8zM83.8 79.9h.8v.8h-.8zM84.9 76.1h.8v.8h-.8zM84.0 78.3h.8v.8h-.8zM83.9 72.7h.8v.8h-.8zM78.5 75.2h.8v.8h-.8zM76.9 77.0h.8v.8h-.8zM78.5 77.4h.8v.8h-.8zM75.6 74.3h.8v.8h-.8zM79.2 75.7h.8v.8h-.8zM82.4 78.3h.8v.8h-.8zM85.4 75.3h.8v.8h-.8zM81.1 77.8h.8v.8h-.8zM81.1 74.6h.8v.8h-.8zM90.2 78.5h.8v.8h-.8zM88.5 75.7h.8v.8h-.8zM81.7 80.7h.8v.8h-.8zM81.1 78.4h.8v.8h-.8zM78.3 83.7h.8v.8h-.8zM86.0 77.2h.8v.8h-.8zM82.2 75.7h.8v.8h-.8zM85.3 78.1h.8v.8h-.8zM78.9 79.4h.8v.8h-.8zM95.2 78.1h.8v.8h-.8zM78.3 76.7h.8v.8h-.8zM85.9 76.3h.8v.8h-.8zM74.7 81.5h.8v.8h-.8zM73.2 73.3h.8v.8h-.8zM80.5 78.0h.8v.8h-.8zM72.2 73.0h.8v.8h-.8zM83.0 76.5h.8v.8h-.8zM69.7 82.4h.8v.8h-.8zM89.5 83.3h.8v.8h-.8zM81.8 75.2h.8v.8h-.8zM78.2 82.0h.8v.8h-.8zM79.8 73.6h.8v.8h-.8zM86.2 81.1h.8v.8h-.8zM76.1 75.8h.8v.8h-.8zM85.6 73.6h.8v.8h-.8zM83.8 77.4h.8v.8h-.8zM86.8 75.4h.8v.8h-.8zM79.7 75.9h.8v.8h-.8zM90.2 80.3h.8v.8h-.8zM76.3 76.4h.8v.8h-.8zM82.7 77.6h.8v.8h-.8zM84.4 74.7h.8v.8h-.8zM78.2 83.9h.8v.8h-.8zM88.0 75.6h.8v.8h-.8zM91.0 82.2h.8v.8h-.8zM69.7 79.1h.8v.8h-.8zM87.1 78.6h.8v.8h-.8zM81.1 81.9h.8v.8h-.8zM83.6 71.5h.8v.8h-.8zM81.7 78.7h.8v.8h-.8zM74.7 81.8h.8v.8h-.8zM81.4 73.7h.8v.8h-.8zM80.6 76.0h.8v.8h-.8zM84.8 75.9h.8v.8h-.8zM78.6 82.5h.8v.8h-.8zM78.8 76.8h.8v.8h-.8zM81.1 76.1h.8v.8h-.8zM85.5 74.6h.8v.8h-.8zM78.8 83.8h.8v.8h-.8zM71.8 75.0h.8v.8h-.8zM82.0 71.1h.8v.8h-.8zM68.6 76.2h.8v.8h-.8zM87.1 78.9h.8v.8h-.8zM78.4 74.8h.8v.8h-.8zM95.4 79.9h.8v.8h-.8zM75.6 83.1h.8v.8h-.8zM89.0 76.1h.8v.8h-.8zM80.8 76.7h.8v.8h-.8zM83.0 77.3h.8v.8h-.8zM87.9 76.3h.8v.8h-.8zM81.4 79.9h.8v.8h-.8zM88.6 76.0h.8v.8h-.8zM78.4 82.5h.8v.8h-.8zM81.2 81.2h.8v.8h-.8zM83.0 78.8h.8v.8h-.8zM76.9 78.1h.8v.8h-.8zM81.0 76.3h.8v.8h-.8zM91.5 74.4h.8v.8h-.8zM77.3 79.4h.8v.8h-.8zM87.6 76.0h.8v.8h-.8zM80.1 76.0h.8v.8h-.8zM76.1 82.1h.8v.8h-.8zM81.4 76.9h.8v.8h-.8zM83.0 81.0h.8v.8h-.8zM89.2 79.3h.8v.8h-.8zM83.1 79.9h.8v.8h-.8zM87.4 80.0h.8v.8h-.8zM74.7 78.6h.8v.8h-.8zM79.7 83.3h.8v.8h-.8zM82.2 76.1h.8v.8h-.8zM89.3 77.1h.8v.8h-.8zM84.2 78.1h.8v.8h-.8zM84.0 81.5h.8v.8h-.8zM77.4 76.3h.8v.8h-.8zM86.4 77.4h.8v.8h-.8zM82.7 81.3h.8v.8h-.8zM76.9 81.3h.8v.8h-.8zM80.0 76.5h.8v.8h-.8zM85.0 79.8h.8v.8h-.8zM77.7 82.6h.8v.8h-.8zM75.5 76.9h.8v.8h-.8zM88.6 81.6h.8v.8h-.8zM79.9 80.3h.8v.8h-.8zM80.2 74.5h.8v.8h-.8zM87.1 78.7h.8v.8h-.8zM86.2 80.6h.8v.8h-.8zM77.0 78.8h.8v.8h-.8zM77.5 79.5h.8v.8h-.8zM86.1 81.3h.8v.8h-.8zM95.0 77.2h.8v.8h-.8zM88.3 81.0h.8v.8h-.8zM86.0 75.9h.8v.8h-.8zM85.2 79.6h.8v.8h-.8zM82.6 79.5h.8v.8h-.8zM77.0 78.3h.8v.8h-.8zM85.1 77.7h.8v.8h-.8zM85.5 82.5h.8v.8h-.8zM83.3 77.3h.8v.8h-.8zM84.2 77.8h.8v.8h-.8zM79.2 77.5h.8v.8h-.8zM91.9 80.5h.8v.8h-.8zM85.8 81.0h.8v.8h-.8zM73.0 79.7h.8v.8h-.8zM85.8 77.7h.8v.8h-.8zM76.2 80.2h.8v.8h-.8zM80.5 81.6h.8v.8h-.8zM79.5 78.7h.8v.8h-.8zM87.5 81.4h.8v.8h-.8zM87.8 77.8h.8v.8h-.8zM93.3 75.8h.8v.8h-.8zM78.7 78.3h.8v.8h-.8zM89.0 79.6h.8v.8h-.8zM92.4 80.8h.8v.8h-.8zM86.1 75.9h.8v.8h-.8zM80.3 78.6h.8v.8h-.8zM76.1 76.1h.8v.8h-.8zM75.5 77.1h.8v.8h-.8zM86.6 79.8h.8v.8h-.8zM83.3 79.8h.8v.8h-.8zM77.6 77.4h.8v.8h-.8zM79.2 75.6h.8v.8h-.8zM79.5 75.7h.8v.8h-.8zM81.5 80.6h.8v.8h-.8zM83.4 78.4h.8v.8h-.8zM84.3 77.7h.8v.8h-.8zM77.1 72.8h.8v.8h-.8zM88.4 79.2h.8v.8h-.8zM70.3 79.2h.8v.8h-.8zM79.3 78.1h.8v.8h-.8zM82.8 76.3h.8v.8h-.8zM74.2 76.4h.8v.8h-.8zM86.1 75.7h.8v.8h-.8zM74.3 78.3h.8v.8h-.8zM92.2 75.7h.8v.8h-.8zM87.7 78.8h.8v.8h-.8zM84.0 82.4h.8v.8h-.8zM76.8 78.0h.8v.8h-.8zM80.0 79.9h.8v.8h-.8zM82.3 79.0h.8v.8h-.8zM85.9 77.6h.8v.8h-.8zM82.6 76.6h.8v.8h-.8zM88.8 80.7h.8v.8h-.8zM91.0 73.9h.8v.8h-.8zM77.8 78.1h.8v.8h-.8zM87.4 77.1h.8v.8h-.8zM76.8 83.9h.8v.8h-.8zM81.6 78.6h.8v.8h-.8zM77.0 83.9h.8v.8h-.8zM84.4 77.5h.8v.8h-.8zM80.4 78.3h.8v.8h-.8zM84.2 78.7h.8v.8h-.8zM77.8 82.5h.8v.8h-.8zM76.8 82.2h.8v.8h-.8zM85.9 74.3h.8v.8h-.8zM87.2 79.4h.8v.8h-.8zM77.6 84.3h.8v.8h-.8zM88.6 72.1h.8v.8h-.8zM87.3 76.4h.8v.8h-.8zM73.1 80.2h.8v.8h-.8zM74.7 77.2h.8v.8h-.8zM82.0 77.2h.8v.8h-.8zM76.0 71.3h.8v.8h-.8zM80.6 81.7h.8v.8h-.8zM88.2 82.7h.8v.8h-.8zM83.8 79.0h.8v.8h-.8zM77.5 70.6h.8v.8h-.8zM77.3 75.8h.8v.8h-.8zM76.3 78.2h.8v.8h-.8zM83.4 76.3h.8v.8h-.8zM85.9 79.0h.8v.8h-.8zM86.0 81.3h.8v.8h-.8zM88.0 77.1h.8v.8h-.8zM77.9 78.4h.8v.8h-.8zM88.1 71.6h.8v.8h-.8zM85.9 76.7h.8v.8h-.8zM85.2 79.4h.8v.8h-.8zM79.5 75.7h.8v.8h-.8zM79.6 79.7h.8v.8h-.8zM75.1 78.3h.8v.8h-.8zM78.2 76.2h.8v.8h-.8zM75.1 73.2h.8v.8h-.8zM83.8 78.9h.8v.8h-.8zM63.8 75.6h.8v.8h-.8zM65.4 75.3h.8v.8h-.8zM63.8 75.8h.8v.8h-.8zM62.9 77.2h.8v.8h-.8zM60.9 78.7h.8v.8h-.8zM63.7 74.3h.8v.8h-.8zM62.9 77.8h.8v.8h-.8zM56.6 79.9h.8v.8h-.8zM72.2 76.5h.8v.8h-.8zM61.9 79.4h.8v.8h-.8zM70.4 69.6h.8v.8h-.8zM60.9 78.8h.8v.8h-.8zM63.3 77.5h.8v.8h-.8zM69.4 70.4h.8v.8h-.8zM70.5 75.3h.8v.8h-.8zM71.4 73.0h.8v.8h-.8zM63.0 76.0h.8v.8h-.8zM63.7 76.6h.8v.8h-.8zM72.4 76.9h.8v.8h-.8zM72.9 78.0h.8v.8h-.8zM70.9 74.3h.8v.8h-.8zM73.7 77.9h.8v.8h-.8zM72.6 76.9h.8v.8h-.8zM72.6 77.9h.8v.8h-.8zM61.7 77.0h.8v.8h-.8zM73.3 77.6h.8v.8h-.8zM69.2 73.2h.8v.8h-.8zM65.3 74.7h.8v.8h-.8zM61.8 80.3h.8v.8h-.8zM69.8 72.5h.8v.8h-.8zM73.2 74.2h.8v.8h-.8zM75.0 79.1h.8v.8h-.8zM67.9 74.0h.8v.8h-.8zM62.4 77.9h.8v.8h-.8zM60.4 79.5h.8v.8h-.8zM71.8 75.1h.8v.8h-.8zM74.5 80.7h.8v.8h-.8zM60.9 79.2h.8v.8h-.8zM62.9 77.4h.8v.8h-.8zM74.5 73.8h.8v.8h-.8zM72.7 78.3h.8v.8h-.8zM73.5 76.6h.8v.8h-.8zM71.1 75.0h.8v.8h-.8zM68.3 73.2h.8v.8h-.8zM66.6 74.1h.8v.8h-.8zM72.0 74.1h.8v.8h-.8zM59.4 76.9h.8v.8h-.8zM62.8 74.4h.8v.8h-.8zM64.8 74.8h.8v.8h-.8zM62.0 76.9h.8v.8h-.8zM67.0 74.0h.8v.8h-.8zM76.1 81.0h.8v.8h-.8zM74.8 80.9h.8v.8h-.8zM75.4 80.6h.8v.8h-.8zM60.5 80.0h.8v.8h-.8zM71.7 74.8h.8v.8h-.8zM69.5 73.9h.8v.8h-.8zM75.7 80.4h.8v.8h-.8zM64.3 75.8h.8v.8h-.8zM65.0 75.3h.8v.8h-.8zM63.1 77.5h.8v.8h-.8zM71.4 75.2h.8v.8h-.8zM70.8 75.4h.8v.8h-.8zM64.8 73.7h.8v.8h-.8zM68.6 73.8h.8v.8h-.8zM69.3 74.2h.8v.8h-.8zM62.8 77.5h.8v.8h-.8zM73.7 78.8h.8v.8h-.8zM72.9 78.4h.8v.8h-.8zM62.3 75.4h.8v.8h-.8zM62.8 75.9h.8v.8h-.8zM67.6 73.5h.8v.8h-.8zM69.3 74.5h.8v.8h-.8zM60.3 78.6h.8v.8h-.8zM62.8 79.5h.8v.8h-.8zM65.6 73.3h.8v.8h-.8zM73.6 78.3h.8v.8h-.8zM69.0 74.2h.8v.8h-.8zM59.7 78.5h.8v.8h-.8zM72.7 80.7h.8v.8h-.8zM73.4 77.6h.8v.8h-.8zM65.0 73.0h.8v.8h-.8zM70.1 70.6h.8v.8h-.8zM74.1 75.9h.8v.8h-.8zM60.4 80.1h.8v.8h-.8zM63.6 76.8h.8v.8h-.8zM69.7 74.9h.8v.8h-.8zM62.7 76.8h.8v.8h-.8zM65.7 72.1h.8v.8h-.8zM75.8 78.6h.8v.8h-.8zM69.7 72.2h.8v.8h-.8zM73.6 79.4h.8v.8h-.8zM72.5 76.1h.8v.8h-.8zM65.0 75.4h.8v.8h-.8zM75.4 76.8h.8v.8h-.8zM60.8 78.4h.8v.8h-.8zM75.1 80.2h.8v.8h-.8zM73.5 74.6h.8v.8h-.8zM62.3 79.1h.8v.8h-.8zM68.8 74.6h.8v.8h-.8zM73.7 79.6h.8v.8h-.8zM70.9 75.7h.8v.8h-.8zM66.7 73.6h.8v.8h-.8zM73.4 77.8h.8v.8h-.8zM62.7 80.6h.8v.8h-.8zM62.7 78.9h.8v.8h-.8zM69.1 73.7h.8v.8h-.8zM63.9 75.6h.8v.8h-.8zM61.3 77.9h.8v.8h-.8zM75.8 78.2h.8v.8h-.8zM73.0 77.3h.8v.8h-.8zM74.6 80.2h.8v.8h-.8zM63.1 78.2h.8v.8h-.8zM67.9 72.3h.8v.8h-.8zM60.5 80.7h.8v.8h-.8zM62.2 77.3h.8v.8h-.8zM64.9 72.7h.8v.8h-.8zM67.3 72.7h.8v.8h-.8zM64.7 72.2h.8v.8h-.8zM73.3 78.5h.8v.8h-.8zM64.7 75.3h.8v.8h-.8zM61.7 76.2h.8v.8h-.8zM61.4 80.3h.8v.8h-.8zM61.9 77.5h.8v.8h-.8zM69.8 73.3h.8v.8h-.8zM65.9 75.1h.8v.8h-.8zM69.4 74.8h.8v.8h-.8zM63.7 73.9h.8v.8h-.8zM72.9 80.7h.8v.8h-.8zM61.2 80.3h.8v.8h-.8zM62.4 74.8h.8v.8h-.8zM63.0 75.4h.8v.8h-.8zM69.1 75.0h.8v.8h-.8zM69.1 68.9h.8v.8h-.8zM61.4 80.6h.8v.8h-.8zM69.1 74.4h.8v.8h-.8zM75.7 75.0h.8v.8h-.8zM70.9 74.3h.8v.8h-.8zM63.3 75.3h.8v.8h-.8zM75.3 75.9h.8v.8h-.8zM73.2 73.2h.8v.8h-.8zM64.5 75.8h.8v.8h-.8zM68.2 71.5h.8v.8h-.8zM71.0 74.1h.8v.8h-.8zM65.5 73.2h.8v.8h-.8zM62.1 79.9h.8v.8h-.8zM74.1 81.0h.8v.8h-.8zM67.5 73.8h.8v.8h-.8zM62.9 76.3h.8v.8h-.8zM65.2 75.4h.8v.8h-.8zM72.8 78.6h.8v.8h-.8zM66.6 72.5h.8v.8h-.8zM64.0 75.4h.8v.8h-.8zM61.8 77.5h.8v.8h-.8zM64.2 75.4h.8v.8h-.8zM75.1 73.4h.8v.8h-.8zM64.3 74.4h.8v.8h-.8zM73.5 79.5h.8v.8h-.8zM63.0 77.6h.8v.8h-.8zM69.9 73.2h.8v.8h-.8zM72.2 77.0h.8v.8h-.8zM66.5 74.5h.8v.8h-.8zM67.6 74.3h.8v.8h-.8zM73.0 79.1h.8v.8h-.8zM61.6 80.8h.8v.8h-.8zM62.9 77.9h.8v.8h-.8zM60.8 75.6h.8v.8h-.8zM65.8 74.4h.8v.8h-.8zM75.3 78.0h.8v.8h-.8zM71.1 74.6h.8v.8h-.8zM75.8 80.7h.8v.8h-.8zM70.9 72.2h.8v.8h-.8zM74.5 78.4h.8v.8h-.8zM64.7 74.9h.8v.8h-.8zM68.7 73.9h.8v.8h-.8zM75.7 78.2h.8v.8h-.8zM60.4 75.6h.8v.8h-.8zM65.0 75.7h.8v.8h-.8zM65.2 72.4h.8v.8h-.8zM71.2 75.5h.8v.8h-.8zM66.2 74.5h.8v.8h-.8zM61.8 80.2h.8v.8h-.8zM67.8 73.5h.8v.8h-.8zM69.7 75.0h.8v.8h-.8zM61.0 81.2h.8v.8h-.8zM78.4 79.7h.8v.8h-.8zM60.7 80.1h.8v.8h-.8zM70.0 75.0h.8v.8h-.8zM61.2 79.2h.8v.8h-.8zM61.1 77.6h.8v.8h-.8zM60.3 79.2h.8v.8h-.8zM74.5 76.8h.8v.8h-.8zM69.9 74.0h.8v.8h-.8zM69.2 73.4h.8v.8h-.8zM63.6 73.9h.8v.8h-.8zM71.8 76.5h.8v.8h-.8zM74.7 75.2h.8v.8h-.8zM73.2 76.4h.8v.8h-.8zM75.9 81.2h.8v.8h-.8zM67.0 74.4h.8v.8h-.8zM75.2 80.0h.8v.8h-.8zM60.8 78.2h.8v.8h-.8zM70.6 75.5h.8v.8h-.8zM75.6 75.0h.8v.8h-.8zM59.7 74.6h.8v.8h-.8zM72.2 76.6h.8v.8h-.8zM62.9 78.5h.8v.8h-.8zM60.4 80.0h.8v.8h-.8zM63.4 77.7h.8v.8h-.8zM73.5 79.9h.8v.8h-.8zM62.5 77.5h.8v.8h-.8zM72.5 75.9h.8v.8h-.8zM62.6 80.4h.8v.8h-.8zM72.3 77.0h.8v.8h-.8zM67.9 69.1h.8v.8h-.8zM71.3 73.6h.8v.8h-.8zM66.7 71.9h.8v.8h-.8zM64.4 75.2h.8v.8h-.8zM72.1 76.1h.8v.8h-.8zM61.8 79.8h.8v.8h-.8zM74.3 78.2h.8v.8h-.8zM61.1 80.0h.8v.8h-.8zM73.6 79.5h.8v.8h-.8zM73.7 80.0h.8v.8h-.8zM63.2 76.1h.8v.8h-.8zM63.0 75.7h.8v.8h-.8zM63.0 77.1h.8v.8h-.8zM72.8 76.2h.8v.8h-.8zM73.8 81.1h.8v.8h-.8zM62.7 76.7h.8v.8h-.8zM73.1 78.4h.8v.8h-.8zM73.0 78.5h.8v.8h-.8zM75.7 76.7h.8v.8h-.8zM63.5 75.5h.8v.8h-.8zM74.8 78.8h.8v.8h-.8zM62.2 77.7h.8v.8h-.8zM66.6 72.4h.8v.8h-.8zM69.6 74.0h.8v.8h-.8zM73.7 78.7h.8v.8h-.8zM65.1 74.8h.8v.8h-.8zM59.6 76.3h.8v.8h-.8zM74.4 78.2h.8v.8h-.8zM63.1 80.4h.8v.8h-.8zM62.8 78.9h.8v.8h-.8zM72.8 79.3h.8v.8h-.8zM63.1 78.2h.8v.8h-.8zM62.4 77.7h.8v.8h-.8zM72.0 74.7h.8v.8h-.8zM73.8 79.4h.8v.8h-.8zM74.6 73.4h.8v.8h-.8zM59.3 81.0h.8v.8h-.8zM63.1 76.5h.8v.8h-.8zM60.1 80.7h.8v.8h-.8zM68.0 74.6h.8v.8h-.8zM60.9 78.9h.8v.8h-.8zM61.4 80.9h.8v.8h-.8zM72.8 78.7h.8v.8h-.8zM62.0 78.6h.8v.8h-.8zM66.6 74.9h.8v.8h-.8zM62.9 77.6h.8v.8h-.8zM72.5 75.9h.8v.8h-.8zM67.9 73.4h.8v.8h-.8zM67.8 73.6h.8v.8h-.8zM73.6 79.4h.8v.8h-.8zM73.8 80.5h.8v.8h-.8zM72.9 78.8h.8v.8h-.8zM61.8 77.3h.8v.8h-.8zM63.7 76.2h.8v.8h-.8zM68.1 74.6h.8v.8h-.8zM65.6 73.4h.8v.8h-.8zM62.6 80.8h.8v.8h-.8zM72.0 74.8h.8v.8h-.8zM69.2 72.9h.8v.8h-.8zM73.9 72.9h.8v.8h-.8zM71.8 76.0h.8v.8h-.8zM65.8 74.3h.8v.8h-.8zM74.6 80.8h.8v.8h-.8zM65.2 73.8h.8v.8h-.8zM61.8 78.1h.8v.8h-.8zM75.2 81.6h.8v.8h-.8zM72.8 79.6h.8v.8h-.8zM62.8 75.7h.8v.8h-.8zM62.8 76.1h.8v.8h-.8zM60.8 76.3h.8v.8h-.8zM74.5 76.0h.8v.8h-.8zM75.8 79.2h.8v.8h-.8zM64.3 75.0h.8v.8h-.8zM71.3 74.1h.8v.8h-.8zM73.2 80.5h.8v.8h-.8zM63.2 80.8h.8v.8h-.8zM68.2 70.9h.8v.8h-.8zM70.1 73.7h.8v.8h-.8zM70.2 75.3h.8v.8h-.8zM73.6 75.2h.8v.8h-.8zM65.1 73.2h.8v.8h-.8zM68.6 72.6h.8v.8h-.8zM63.6 74.3h.8v.8h-.8zM70.8 74.1h.8v.8h-.8zM70.1 74.9h.8v.8h-.8zM62.6 75.3h.8v.8h-.8zM72.4 75.5h.8v.8h-.8zM68.4 73.4h.8v.8h-.8zM63.0 78.3h.8v.8h-.8zM75.2 79.7h.8v.8h-.8zM68.4 74.4h.8v.8h-.8zM72.5 77.6h.8v.8h-.8zM73.6 77.4h.8v.8h-.8zM66.8 72.5h.8v.8h-.8zM75.7 78.8h.8v.8h-.8zM74.6 78.2h.8v.8h-.8zM73.0 77.8h.8v.8h-.8zM73.2 77.4h.8v.8h-.8zM63.3 76.2h.8v.8h-.8zM60.7 78.9h.8v.8h-.8zM68.5 72.0h.8v.8h-.8zM66.7 73.2h.8v.8h-.8zM73.6 81.1h.8v.8h-.8zM72.7 74.4h.8v.8h-.8zM72.9 77.1h.8v.8h-.8zM73.4 75.8h.8v.8h-.8zM64.3 73.2h.8v.8h-.8zM68.3 74.7h.8v.8h-.8zM64.0 74.0h.8v.8h-.8zM65.2 74.1h.8v.8h-.8zM69.2 74.8h.8v.8h-.8zM61.6 80.0h.8v.8h-.8zM62.0 74.5h.8v.8h-.8zM64.8 75.6h.8v.8h-.8zM59.1 79.1h.8v.8h-.8zM70.7 74.7h.8v.8h-.8zM66.2 74.0h.8v.8h-.8zM73.5 76.7h.8v.8h-.8zM61.8 80.3h.8v.8h-.8zM66.4 72.8h.8v.8h-.8zM62.8 74.4h.8v.8h-.8zM65.5 73.0h.8v.8h-.8zM63.7 73.0h.8v.8h-.8zM64.1 71.6h.8v.8h-.8zM61.4 76.7h.8v.8h-.8zM73.1 80.4h.8v.8h-.8zM71.9 74.1h.8v.8h-.8zM63.1 73.3h.8v.8h-.8zM65.1 74.0h.8v.8h-.8zM68.8 70.5h.8v.8h-.8zM72.0 76.7h.8v.8h-.8zM61.3 80.8h.8v.8h-.8zM67.0 73.6h.8v.8h-.8zM74.5 77.5h.8v.8h-.8zM73.9 78.8h.8v.8h-.8zM66.2 72.6h.8v.8h-.8zM72.6 77.8h.8v.8h-.8zM70.9 75.6h.8v.8h-.8zM61.0 80.5h.8v.8h-.8zM73.1 73.3h.8v.8h-.8zM73.0 76.4h.8v.8h-.8zM63.0 78.8h.8v.8h-.8zM73.2 77.4h.8v.8h-.8zM60.1 78.9h.8v.8h-.8zM69.5 73.2h.8v.8h-.8zM61.7 80.0h.8v.8h-.8zM67.4 72.0h.8v.8h-.8zM62.3 80.0h.8v.8h-.8zM70.0 73.2h.8v.8h-.8zM74.2 81.3h.8v.8h-.8zM59.4 77.5h.8v.8h-.8zM64.9 75.5h.8v.8h-.8zM72.6 80.6h.8v.8h-.8zM64.2 76.3h.8v.8h-.8zM62.6 75.6h.8v.8h-.8zM74.9 77.9h.8v.8h-.8zM66.2 74.2h.8v.8h-.8zM61.7 80.1h.8v.8h-.8zM75.9 75.9h.8v.8h-.8zM72.7 78.4h.8v.8h-.8zM61.7 80.1h.8v.8h-.8zM68.8 73.3h.8v.8h-.8zM67.6 73.2h.8v.8h-.8zM70.2 72.8h.8v.8h-.8zM61.0 76.3h.8v.8h-.8zM73.4 79.5h.8v.8h-.8zM64.6 75.7h.8v.8h-.8zM68.8 72.7h.8v.8h-.8zM64.0 74.7h.8v.8h-.8zM63.9 76.1h.8v.8h-.8zM72.5 75.1h.8v.8h-.8zM74.0 76.7h.8v.8h-.8zM74.0 79.8h.8v.8h-.8zM66.8 74.4h.8v.8h-.8zM66.6 74.5h.8v.8h-.8zM72.3 72.1h.8v.8h-.8zM61.8 79.6h.8v.8h-.8zM70.3 73.3h.8v.8h-.8zM70.0 70.9h.8v.8h-.8zM75.1 76.2h.8v.8h-.8zM70.9 75.7h.8v.8h-.8zM63.8 75.4h.8v.8h-.8zM59.4 77.5h.8v.8h-.8zM73.0 79.4h.8v.8h-.8zM62.1 79.2h.8v.8h-.8zM74.0 76.3h.8v.8h-.8zM71.0 75.1h.8v.8h-.8zM62.0 75.0h.8v.8h-.8zM61.5 77.7h.8v.8h-.8zM62.9 79.9h.8v.8h-.8zM73.1 77.9h.8v.8h-.8zM64.3 75.9h.8v.8h-.8zM63.1 73.8h.8v.8h-.8zM69.6 72.5h.8v.8h-.8zM62.6 72.9h.8v.8h-.8zM74.6 77.5h.8v.8h-.8zM75.6 81.2h.8v.8h-.8zM65.2 73.4h.8v.8h-.8zM70.6 75.1h.8v.8h-.8zM63.0 76.7h.8v.8h-.8zM67.2 74.6h.8v.8h-.8zM73.7 74.6h.8v.8h-.8zM61.8 78.7h.8v.8h-.8zM75.7 76.8h.8v.8h-.8zM75.7 81.7h.8v.8h-.8zM74.4 79.9h.8v.8h-.8z" fill="#000" fill-opacity="0.42"/>
<ellipse cx="80.50" cy="81.20" rx="7.50" ry="1.70" fill="#444" fill-opacity="0.9" stroke="#111" stroke-width="0.9"/>
<path d="M61.98 77.28A6.30 6.20 0 0 1 73.99 77.80" fill="none" stroke="#111" stroke-width="1.3" stroke-opacity="0.75"/>
<ellipse cx="67.90" cy="79.40" rx="5.2" ry="5.1" fill="#9e9e9e" stroke="#111" stroke-width="1.3"/>
<ellipse cx="67.90" cy="79.70" rx="3.70" ry="3.60" fill="#bdbdbd" stroke="#444" stroke-width="0.6"/>
<ellipse cx="67.90" cy="79.90" rx="2.20" ry="2.10" fill="#d6d6d6" stroke="#777" stroke-width="0.5"/>
<path d="M76.40 85.20V41.25H103.50V85.20" fill="none" stroke="#777" stroke-width="0.9"/>
<text x="102.10" y="40.05" font-size="4.5" text-anchor="end" fill="#333" textLength="7.4" lengthAdjust="spacingAndGlyphs" >P13</text>
<path d="M59.50 85.20V33.45H112.20V85.20Z" fill="none" stroke="#222" stroke-width="1.2"/>
<line x1="56.30" y1="36.10" x2="59.50" y2="36.10" stroke="#333" stroke-width="0.7"/>
<text x="53.20" y="37.70" font-size="4.4" text-anchor="end" fill="#333" textLength="6.1" lengthAdjust="spacingAndGlyphs" >250</text>
<line x1="56.30" y1="46.00" x2="59.50" y2="46.00" stroke="#333" stroke-width="0.7"/>
<text x="53.20" y="47.60" font-size="4.4" text-anchor="end" fill="#333" textLength="6.1" lengthAdjust="spacingAndGlyphs" >200</text>
<line x1="56.30" y1="55.90" x2="59.50" y2="55.90" stroke="#333" stroke-width="0.7"/>
<text x="53.20" y="57.50" font-size="4.4" text-anchor="end" fill="#333" textLength="6.1" lengthAdjust="spacingAndGlyphs" >150</text>
<line x1="56.30" y1="65.80" x2="59.50" y2="65.80" stroke="#333" stroke-width="0.7"/>
<text x="53.20" y="67.40" font-size="4.4" text-anchor="end" fill="#333" textLength="6.1" lengthAdjust="spacingAndGlyphs" >100</text>
<line x1="56.30" y1="75.70" x2="59.50" y2="75.70" stroke="#333" stroke-width="0.7"/>
<text x="53.20" y="77.30" font-size="4.4" text-anchor="end" fill="#333" textLength="4.1" lengthAdjust="spacingAndGlyphs" >50</text>
<line x1="57.80" y1="36.10" x2="59.50" y2="36.10" stroke="#333" stroke-width="0.6"/>
<line x1="57.80" y1="38.08" x2="59.50" y2="38.08" stroke="#333" stroke-width="0.6"/>
<line x1="57.80" y1="40.06" x2="59.50" y2="40.06" stroke="#333" stroke-width="0.6"/>
<line x1="57.80" y1="42.04" x2="59.50" y2="42.04" stroke="#333" stroke-width="0.6"/>
<line x1="57.80" y1="44.02" x2="59.50" y2="44.02" stroke="#333" stroke-width="0.6"/>
<line x1="57.80" y1="46.00" x2="59.50" y2="46.00" stroke="#333" stroke-width="0.6"/>
<line x1="57.80" y1="47.98" x2="59.50" y2="47.98" stroke="#333" stroke-width="0.6"/>
<line x1="57.80" y1="49.96" x2="59.50" y2="49.96" stroke="#333" stroke-width="0.6"/>
<line x1="57.80" y1="51.94" x2="59.50" y2="51.94" stroke="#333" stroke-width="0.6"/>
<line x1="57.80" y1="53.92" x2="59.50" y2="53.92" stroke="#333" stroke-width="0.6"/>
<line x1="57.80" y1="55.90" x2="59.50" y2="55.90" stroke="#333" stroke-width="0.6"/>
<line x1="57.80" y1="57.88" x2="59.50" y2="57.88" stroke="#333" stroke-width="0.6"/>
<line x1="57.80" y1="59.86" x2="59.50" y2="59.86" stroke="#333" stroke-width="0.6"/>
<line x1="57.80" y1="61.84" x2="59.50" y2="61.84" stroke="#333" stroke-width="0.6"/>
<line x1="57.80" y1="63.82" x2="59.50" y2="63.82" stroke="#333" stroke-width="0.6"/>
<line x1="57.80" y1="65.80" x2="59.50" y2="65.80" stroke="#333" stroke-width="0.6"/>
<line x1="57.80" y1="67.78" x2="59.50" y2="67.78" stroke="#333" stroke-width="0.6"/>
<line x1="57.80" y1="69.76" x2="59.50" y2="69.76" stroke="#333" stroke-width="0.6"/>
<line x1="57.80" y1="71.74" x2="59.50" y2="71.74" stroke="#333" stroke-width="0.6"/>
<line x1="57.80" y1="73.72" x2="59.50" y2="73.72" stroke="#333" stroke-width="0.6"/>
<line x1="57.80" y1="75.70" x2="59.50" y2="75.70" stroke="#333" stroke-width="0.6"/>
<line x1="57.80" y1="77.68" x2="59.50" y2="77.68" stroke="#333" stroke-width="0.6"/>
<line x1="57.80" y1="79.66" x2="59.50" y2="79.66" stroke="#333" stroke-width="0.6"/>
<line x1="57.80" y1="81.64" x2="59.50" y2="81.64" stroke="#333" stroke-width="0.6"/>
<line x1="57.80" y1="83.62" x2="59.50" y2="83.62" stroke="#333" stroke-width="0.6"/>
<line x1="60.00" y1="85.20" x2="60.00" y2="88.20" stroke="#333" stroke-width="0.6"/>
<line x1="63.50" y1="85.20" x2="63.50" y2="88.20" stroke="#333" stroke-width="0.6"/>
<line x1="66.10" y1="85.20" x2="66.10" y2="88.20" stroke="#333" stroke-width="0.6"/>
<line x1="67.66" y1="85.20" x2="67.66" y2="87.30" stroke="#333" stroke-width="0.65"/>
<line x1="68.62" y1="85.20" x2="68.62" y2="87.30" stroke="#333" stroke-width="0.65"/>
<line x1="69.43" y1="85.20" x2="69.43" y2="87.30" stroke="#333" stroke-width="0.65"/>
<line x1="70.13" y1="85.20" x2="70.13" y2="87.30" stroke="#333" stroke-width="0.65"/>
<line x1="70.75" y1="85.20" x2="70.75" y2="87.30" stroke="#333" stroke-width="0.65"/>
<line x1="71.30" y1="85.20" x2="71.30" y2="88.80" stroke="#222" stroke-width="0.7"/>
<line x1="74.94" y1="85.20" x2="74.94" y2="87.30" stroke="#333" stroke-width="0.65"/>
<line x1="77.07" y1="85.20" x2="77.07" y2="87.30" stroke="#333" stroke-width="0.65"/>
<line x1="78.58" y1="85.20" x2="78.58" y2="87.30" stroke="#333" stroke-width="0.65"/>
<line x1="79.76" y1="85.20" x2="79.76" y2="87.30" stroke="#333" stroke-width="0.65"/>
<line x1="80.72" y1="85.20" x2="80.72" y2="87.30" stroke="#333" stroke-width="0.65"/>
<line x1="81.53" y1="85.20" x2="81.53" y2="87.30" stroke="#333" stroke-width="0.65"/>
<line x1="82.23" y1="85.20" x2="82.23" y2="87.30" stroke="#333" stroke-width="0.65"/>
<line x1="82.85" y1="85.20" x2="82.85" y2="87.30" stroke="#333" stroke-width="0.65"/>
<line x1="83.40" y1="85.20" x2="83.40" y2="88.80" stroke="#222" stroke-width="0.7"/>
<line x1="87.04" y1="85.20" x2="87.04" y2="87.30" stroke="#333" stroke-width="0.65"/>
<line x1="89.17" y1="85.20" x2="89.17" y2="87.30" stroke="#333" stroke-width="0.65"/>
<line x1="90.68" y1="85.20" x2="90.68" y2="87.30" stroke="#333" stroke-width="0.65"/>
<line x1="91.86" y1="85.20" x2="91.86" y2="87.30" stroke="#333" stroke-width="0.65"/>
<line x1="92.82" y1="85.20" x2="92.82" y2="87.30" stroke="#333" stroke-width="0.65"/>
<line x1="93.63" y1="85.20" x2="93.63" y2="87.30" stroke="#333" stroke-width="0.65"/>
<line x1="94.33" y1="85.20" x2="94.33" y2="87.30" stroke="#333" stroke-width="0.65"/>
<line x1="94.95" y1="85.20" x2="94.95" y2="87.30" stroke="#333" stroke-width="0.65"/>
<line x1="95.50" y1="85.20" x2="95.50" y2="88.80" stroke="#222" stroke-width="0.7"/>
<line x1="99.14" y1="85.20" x2="99.14" y2="87.30" stroke="#333" stroke-width="0.65"/>
<line x1="101.27" y1="85.20" x2="101.27" y2="87.30" stroke="#333" stroke-width="0.65"/>
<line x1="102.78" y1="85.20" x2="102.78" y2="87.30" stroke="#333" stroke-width="0.65"/>
<line x1="103.96" y1="85.20" x2="103.96" y2="87.30" stroke="#333" stroke-width="0.65"/>
<line x1="104.92" y1="85.20" x2="104.92" y2="87.30" stroke="#333" stroke-width="0.65"/>
<line x1="105.73" y1="85.20" x2="105.73" y2="87.30" stroke="#333" stroke-width="0.65"/>
<line x1="106.43" y1="85.20" x2="106.43" y2="87.30" stroke="#333" stroke-width="0.65"/>
<line x1="107.05" y1="85.20" x2="107.05" y2="87.30" stroke="#333" stroke-width="0.65"/>
<line x1="107.60" y1="85.20" x2="107.60" y2="88.80" stroke="#222" stroke-width="0.7"/>
<line x1="111.24" y1="85.20" x2="111.24" y2="87.30" stroke="#333" stroke-width="0.65"/>
<text x="57.50" y="96.90" font-size="4.4" text-anchor="middle" fill="#333" textLength="8.8" lengthAdjust="spacingAndGlyphs" >−250</text>
<text x="65.20" y="94.60" font-size="4.6" text-anchor="middle" fill="#333" >0</text>
<text x="67.40" y="95.00" font-size="4.6" fill="#333"><tspan textLength="4.0" lengthAdjust="spacingAndGlyphs">10</tspan><tspan font-size="2.6" dy="-2.4" dx="0.3">2</tspan></text>
<text x="79.50" y="95.00" font-size="4.6" fill="#333"><tspan textLength="4.0" lengthAdjust="spacingAndGlyphs">10</tspan><tspan font-size="2.6" dy="-2.4" dx="0.3">3</tspan></text>
<text x="91.60" y="95.00" font-size="4.6" fill="#333"><tspan textLength="4.0" lengthAdjust="spacingAndGlyphs">10</tspan><tspan font-size="2.6" dy="-2.4" dx="0.3">4</tspan></text>
<text x="103.70" y="95.00" font-size="4.6" fill="#333"><tspan textLength="4.0" lengthAdjust="spacingAndGlyphs">10</tspan><tspan font-size="2.6" dy="-2.4" dx="0.3">5</tspan></text>
<text x="68.60" y="103.70" font-size="7.2" text-anchor="start" fill="#111" textLength="34.4" lengthAdjust="spacingAndGlyphs" >CD45 APC-A</text>
<text transform="translate(42.10,59.05) rotate(-90)" font-size="6.4" text-anchor="middle" fill="#111" textLength="16.3" lengthAdjust="spacingAndGlyphs" >SSC-A</text>
<text transform="translate(42.00,40.75) rotate(-90)" font-size="4.2" text-anchor="middle" fill="#333" textLength="15.7" lengthAdjust="spacingAndGlyphs" >(x 1,000)</text>
<text x="86.10" y="27.45" font-size="7.2" text-anchor="middle" fill="#111" textLength="16.4" lengthAdjust="spacingAndGlyphs" >32.0%</text>
<ellipse cx="154.90" cy="73.20" rx="5" ry="7" fill="url(#hz)" opacity="0.4"/>
<ellipse cx="154.50" cy="74.70" rx="4.5" ry="4" fill="url(#hz)" opacity="0.55"/>
<path d="M154.5 80.6h.8v.8h-.8zM154.9 59.5h.8v.8h-.8zM151.2 83.8h.8v.8h-.8zM148.5 76.0h.8v.8h-.8zM155.5 77.3h.8v.8h-.8zM156.4 81.7h.8v.8h-.8zM155.8 63.5h.8v.8h-.8zM156.2 60.1h.8v.8h-.8zM153.0 84.4h.8v.8h-.8zM148.1 80.7h.8v.8h-.8zM150.0 57.2h.8v.8h-.8zM154.3 80.9h.8v.8h-.8zM154.0 79.0h.8v.8h-.8zM155.0 82.8h.8v.8h-.8zM160.2 70.0h.8v.8h-.8zM154.5 76.9h.8v.8h-.8zM156.1 83.7h.8v.8h-.8zM149.6 76.1h.8v.8h-.8zM153.1 78.8h.8v.8h-.8zM158.7 83.7h.8v.8h-.8zM155.7 74.8h.8v.8h-.8zM157.7 80.6h.8v.8h-.8zM158.0 80.2h.8v.8h-.8zM153.9 82.9h.8v.8h-.8zM153.3 57.7h.8v.8h-.8zM151.9 65.1h.8v.8h-.8zM160.3 78.5h.8v.8h-.8zM155.7 64.6h.8v.8h-.8zM156.0 83.5h.8v.8h-.8zM150.9 83.5h.8v.8h-.8zM155.0 78.7h.8v.8h-.8zM156.9 78.0h.8v.8h-.8zM158.3 80.4h.8v.8h-.8zM155.9 82.5h.8v.8h-.8zM158.0 83.4h.8v.8h-.8zM155.3 78.1h.8v.8h-.8zM161.4 63.7h.8v.8h-.8zM162.5 78.3h.8v.8h-.8zM155.6 69.8h.8v.8h-.8zM150.5 82.2h.8v.8h-.8zM152.8 71.5h.8v.8h-.8zM157.0 80.0h.8v.8h-.8zM152.3 63.7h.8v.8h-.8zM154.6 83.9h.8v.8h-.8zM152.8 76.1h.8v.8h-.8zM153.8 70.1h.8v.8h-.8zM154.6 82.0h.8v.8h-.8zM153.8 76.0h.8v.8h-.8zM155.8 75.6h.8v.8h-.8zM154.8 73.5h.8v.8h-.8zM156.1 68.9h.8v.8h-.8zM152.2 78.8h.8v.8h-.8zM155.3 57.9h.8v.8h-.8zM154.7 79.7h.8v.8h-.8zM153.8 82.0h.8v.8h-.8zM155.7 72.1h.8v.8h-.8zM154.1 80.7h.8v.8h-.8zM153.2 83.3h.8v.8h-.8zM155.6 80.9h.8v.8h-.8zM157.0 49.3h.8v.8h-.8zM160.6 78.5h.8v.8h-.8zM154.8 78.2h.8v.8h-.8zM156.2 71.5h.8v.8h-.8zM148.0 75.1h.8v.8h-.8zM156.3 66.9h.8v.8h-.8zM159.2 70.0h.8v.8h-.8zM159.2 80.6h.8v.8h-.8zM157.7 83.0h.8v.8h-.8zM159.6 71.7h.8v.8h-.8zM153.9 83.3h.8v.8h-.8zM158.5 62.4h.8v.8h-.8zM148.3 71.7h.8v.8h-.8zM157.8 76.2h.8v.8h-.8zM149.9 79.3h.8v.8h-.8zM157.5 65.3h.8v.8h-.8zM149.9 81.3h.8v.8h-.8zM158.7 57.0h.8v.8h-.8zM153.9 83.5h.8v.8h-.8zM160.4 81.9h.8v.8h-.8zM153.8 67.4h.8v.8h-.8zM155.1 78.9h.8v.8h-.8zM157.0 82.1h.8v.8h-.8zM147.9 73.7h.8v.8h-.8zM155.2 72.9h.8v.8h-.8zM150.5 69.7h.8v.8h-.8zM158.4 73.8h.8v.8h-.8zM160.5 79.7h.8v.8h-.8zM152.8 83.8h.8v.8h-.8zM151.4 80.8h.8v.8h-.8zM149.9 76.1h.8v.8h-.8zM150.0 78.3h.8v.8h-.8zM156.4 68.8h.8v.8h-.8zM155.1 79.5h.8v.8h-.8zM152.1 80.8h.8v.8h-.8zM152.7 82.4h.8v.8h-.8zM151.2 75.5h.8v.8h-.8zM159.8 81.4h.8v.8h-.8zM157.1 73.2h.8v.8h-.8zM156.2 79.2h.8v.8h-.8zM151.8 83.5h.8v.8h-.8zM150.0 73.8h.8v.8h-.8zM160.7 82.8h.8v.8h-.8zM156.4 81.7h.8v.8h-.8zM157.8 82.3h.8v.8h-.8zM154.1 63.7h.8v.8h-.8zM149.7 79.9h.8v.8h-.8zM150.6 78.1h.8v.8h-.8zM153.9 82.7h.8v.8h-.8zM155.8 77.6h.8v.8h-.8zM158.4 78.9h.8v.8h-.8zM161.8 69.0h.8v.8h-.8zM154.9 83.7h.8v.8h-.8zM157.9 77.1h.8v.8h-.8zM157.4 80.2h.8v.8h-.8zM152.0 59.6h.8v.8h-.8zM158.6 84.0h.8v.8h-.8zM152.0 75.4h.8v.8h-.8zM147.3 80.4h.8v.8h-.8zM157.7 74.4h.8v.8h-.8zM152.8 77.7h.8v.8h-.8zM152.6 74.0h.8v.8h-.8zM158.0 80.4h.8v.8h-.8zM152.8 49.2h.8v.8h-.8zM160.6 73.8h.8v.8h-.8zM157.0 77.0h.8v.8h-.8zM149.8 63.6h.8v.8h-.8zM156.6 72.3h.8v.8h-.8zM154.9 81.0h.8v.8h-.8zM154.0 83.3h.8v.8h-.8zM161.4 83.2h.8v.8h-.8zM152.9 76.3h.8v.8h-.8zM154.0 80.0h.8v.8h-.8zM154.4 71.6h.8v.8h-.8zM153.3 71.0h.8v.8h-.8zM152.9 81.4h.8v.8h-.8zM154.0 74.8h.8v.8h-.8zM156.5 80.2h.8v.8h-.8zM150.4 53.4h.8v.8h-.8zM153.7 81.6h.8v.8h-.8zM150.2 83.0h.8v.8h-.8zM149.6 69.7h.8v.8h-.8zM152.2 80.6h.8v.8h-.8zM157.4 64.8h.8v.8h-.8zM157.9 83.0h.8v.8h-.8zM154.8 81.1h.8v.8h-.8zM152.9 84.2h.8v.8h-.8zM154.0 52.3h.8v.8h-.8zM157.9 53.6h.8v.8h-.8zM156.0 57.4h.8v.8h-.8zM157.4 82.6h.8v.8h-.8zM153.4 83.6h.8v.8h-.8zM158.0 81.8h.8v.8h-.8zM152.4 53.2h.8v.8h-.8zM156.9 81.8h.8v.8h-.8zM156.9 79.0h.8v.8h-.8zM161.6 67.5h.8v.8h-.8zM151.3 81.1h.8v.8h-.8zM150.7 83.1h.8v.8h-.8zM155.1 76.9h.8v.8h-.8zM151.3 74.2h.8v.8h-.8zM154.9 80.4h.8v.8h-.8zM152.3 61.0h.8v.8h-.8zM152.3 75.2h.8v.8h-.8zM154.4 81.8h.8v.8h-.8zM155.0 68.1h.8v.8h-.8zM154.0 76.8h.8v.8h-.8zM150.3 81.8h.8v.8h-.8zM160.9 82.1h.8v.8h-.8zM158.6 71.4h.8v.8h-.8zM156.6 73.9h.8v.8h-.8zM149.9 83.6h.8v.8h-.8zM157.9 81.2h.8v.8h-.8zM149.8 75.2h.8v.8h-.8zM148.3 73.5h.8v.8h-.8zM155.4 57.9h.8v.8h-.8zM151.7 71.8h.8v.8h-.8zM153.2 69.1h.8v.8h-.8zM157.6 80.6h.8v.8h-.8zM157.4 77.5h.8v.8h-.8zM160.9 77.7h.8v.8h-.8zM151.6 83.3h.8v.8h-.8zM148.9 80.8h.8v.8h-.8zM157.9 78.1h.8v.8h-.8zM156.2 66.6h.8v.8h-.8zM152.8 79.8h.8v.8h-.8zM151.2 76.6h.8v.8h-.8zM154.0 69.9h.8v.8h-.8zM161.0 67.4h.8v.8h-.8zM157.7 71.4h.8v.8h-.8zM158.8 78.1h.8v.8h-.8zM160.4 71.8h.8v.8h-.8zM150.8 68.4h.8v.8h-.8zM151.0 83.4h.8v.8h-.8zM149.6 73.1h.8v.8h-.8zM153.6 81.6h.8v.8h-.8zM150.7 84.0h.8v.8h-.8zM150.1 81.7h.8v.8h-.8zM151.3 82.4h.8v.8h-.8zM155.1 74.0h.8v.8h-.8zM156.3 49.7h.8v.8h-.8zM155.9 73.3h.8v.8h-.8zM152.0 84.0h.8v.8h-.8zM152.5 75.3h.8v.8h-.8zM156.6 84.1h.8v.8h-.8zM156.9 79.1h.8v.8h-.8zM149.4 84.3h.8v.8h-.8zM152.9 68.0h.8v.8h-.8zM156.7 75.3h.8v.8h-.8zM156.4 80.8h.8v.8h-.8zM152.9 82.4h.8v.8h-.8zM158.5 69.7h.8v.8h-.8zM156.5 69.0h.8v.8h-.8zM160.8 77.4h.8v.8h-.8zM156.0 78.0h.8v.8h-.8zM153.9 75.3h.8v.8h-.8zM155.4 72.5h.8v.8h-.8zM152.1 77.9h.8v.8h-.8zM153.3 76.3h.8v.8h-.8zM161.3 69.2h.8v.8h-.8zM154.2 84.0h.8v.8h-.8zM153.2 79.0h.8v.8h-.8zM155.1 73.8h.8v.8h-.8zM154.0 80.7h.8v.8h-.8zM151.5 82.7h.8v.8h-.8zM152.8 82.6h.8v.8h-.8zM156.4 72.0h.8v.8h-.8zM151.5 82.6h.8v.8h-.8zM154.6 73.1h.8v.8h-.8zM155.7 76.9h.8v.8h-.8zM157.3 73.2h.8v.8h-.8zM160.1 56.6h.8v.8h-.8zM154.0 60.7h.8v.8h-.8zM154.0 84.1h.8v.8h-.8zM149.9 82.5h.8v.8h-.8zM161.3 72.5h.8v.8h-.8zM155.4 75.2h.8v.8h-.8zM154.6 83.0h.8v.8h-.8zM157.9 75.2h.8v.8h-.8zM157.6 84.3h.8v.8h-.8zM154.8 82.9h.8v.8h-.8zM150.7 69.2h.8v.8h-.8zM160.3 78.9h.8v.8h-.8zM156.1 83.1h.8v.8h-.8zM155.8 70.4h.8v.8h-.8zM156.7 69.7h.8v.8h-.8zM149.0 83.4h.8v.8h-.8zM155.8 83.6h.8v.8h-.8zM151.4 82.5h.8v.8h-.8zM153.4 81.9h.8v.8h-.8zM161.8 72.9h.8v.8h-.8zM155.8 57.1h.8v.8h-.8zM158.3 72.2h.8v.8h-.8zM154.5 80.1h.8v.8h-.8zM157.2 83.3h.8v.8h-.8zM155.9 80.2h.8v.8h-.8zM157.6 78.8h.8v.8h-.8zM150.0 84.3h.8v.8h-.8zM157.9 84.0h.8v.8h-.8zM152.4 81.0h.8v.8h-.8zM150.2 78.4h.8v.8h-.8zM150.2 75.0h.8v.8h-.8zM155.6 62.3h.8v.8h-.8zM157.2 80.1h.8v.8h-.8zM158.3 83.4h.8v.8h-.8zM157.5 82.6h.8v.8h-.8zM150.8 75.1h.8v.8h-.8zM156.0 73.0h.8v.8h-.8zM153.8 72.5h.8v.8h-.8zM155.3 84.2h.8v.8h-.8zM151.7 74.1h.8v.8h-.8zM155.5 72.8h.8v.8h-.8zM155.2 73.5h.8v.8h-.8zM159.5 78.6h.8v.8h-.8zM159.3 76.0h.8v.8h-.8zM160.3 84.1h.8v.8h-.8zM155.6 82.2h.8v.8h-.8zM164.3 80.0h.8v.8h-.8zM156.3 75.2h.8v.8h-.8zM149.1 71.8h.8v.8h-.8zM156.3 49.2h.8v.8h-.8zM155.2 69.3h.8v.8h-.8zM155.9 82.1h.8v.8h-.8zM155.1 59.3h.8v.8h-.8zM155.8 59.4h.8v.8h-.8zM159.6 75.0h.8v.8h-.8zM157.1 83.1h.8v.8h-.8zM155.0 50.3h.8v.8h-.8zM153.4 72.9h.8v.8h-.8zM157.1 83.0h.8v.8h-.8zM160.3 77.9h.8v.8h-.8zM159.3 63.8h.8v.8h-.8zM158.4 61.1h.8v.8h-.8zM161.1 77.0h.8v.8h-.8zM155.0 68.3h.8v.8h-.8zM150.4 76.1h.8v.8h-.8zM154.8 69.4h.8v.8h-.8zM155.8 77.2h.8v.8h-.8zM155.4 81.4h.8v.8h-.8zM154.6 71.7h.8v.8h-.8zM157.7 78.9h.8v.8h-.8zM149.8 83.5h.8v.8h-.8zM153.6 79.4h.8v.8h-.8zM153.1 83.6h.8v.8h-.8zM158.9 80.6h.8v.8h-.8zM154.3 83.8h.8v.8h-.8zM154.1 66.8h.8v.8h-.8zM148.7 83.7h.8v.8h-.8zM153.1 71.0h.8v.8h-.8zM156.9 83.2h.8v.8h-.8zM147.9 70.8h.8v.8h-.8zM156.3 73.5h.8v.8h-.8zM155.6 76.0h.8v.8h-.8zM151.4 79.7h.8v.8h-.8zM154.5 75.7h.8v.8h-.8zM150.7 72.2h.8v.8h-.8zM149.2 69.6h.8v.8h-.8zM160.1 72.7h.8v.8h-.8zM152.3 79.3h.8v.8h-.8zM149.2 64.7h.8v.8h-.8zM158.2 79.2h.8v.8h-.8zM161.8 73.1h.8v.8h-.8zM154.9 80.6h.8v.8h-.8zM157.6 81.0h.8v.8h-.8zM156.8 74.6h.8v.8h-.8zM159.8 67.5h.8v.8h-.8zM154.9 82.0h.8v.8h-.8zM152.3 79.6h.8v.8h-.8zM157.2 64.0h.8v.8h-.8zM155.2 60.6h.8v.8h-.8zM152.3 70.5h.8v.8h-.8zM159.7 63.7h.8v.8h-.8zM156.0 83.6h.8v.8h-.8zM151.1 68.1h.8v.8h-.8zM153.1 80.4h.8v.8h-.8zM159.0 77.4h.8v.8h-.8zM156.8 77.5h.8v.8h-.8zM154.5 74.7h.8v.8h-.8zM147.6 79.7h.8v.8h-.8zM153.1 61.4h.8v.8h-.8zM151.8 83.8h.8v.8h-.8zM147.1 82.4h.8v.8h-.8zM161.7 81.8h.8v.8h-.8zM152.8 82.9h.8v.8h-.8zM153.0 71.7h.8v.8h-.8zM150.4 71.4h.8v.8h-.8zM157.4 73.5h.8v.8h-.8zM155.5 53.0h.8v.8h-.8zM157.3 74.9h.8v.8h-.8zM151.0 76.0h.8v.8h-.8zM152.4 73.4h.8v.8h-.8zM154.5 84.0h.8v.8h-.8zM153.8 83.6h.8v.8h-.8zM156.3 78.2h.8v.8h-.8zM159.7 81.7h.8v.8h-.8zM154.0 70.8h.8v.8h-.8zM155.5 81.3h.8v.8h-.8zM156.2 79.7h.8v.8h-.8zM153.6 72.3h.8v.8h-.8zM151.7 83.8h.8v.8h-.8zM157.6 67.7h.8v.8h-.8zM156.0 66.4h.8v.8h-.8zM152.9 69.3h.8v.8h-.8zM152.6 82.7h.8v.8h-.8zM156.5 74.5h.8v.8h-.8zM153.8 76.3h.8v.8h-.8zM153.8 83.2h.8v.8h-.8zM153.2 83.7h.8v.8h-.8zM158.0 74.7h.8v.8h-.8zM154.6 76.7h.8v.8h-.8zM156.1 66.5h.8v.8h-.8zM160.5 80.4h.8v.8h-.8zM160.9 72.5h.8v.8h-.8zM158.5 81.9h.8v.8h-.8zM159.2 80.4h.8v.8h-.8zM153.4 82.0h.8v.8h-.8zM154.7 69.6h.8v.8h-.8zM154.2 71.0h.8v.8h-.8zM158.0 82.3h.8v.8h-.8zM155.7 80.1h.8v.8h-.8zM157.0 80.4h.8v.8h-.8zM152.6 65.3h.8v.8h-.8zM152.1 84.2h.8v.8h-.8zM151.8 82.2h.8v.8h-.8zM153.4 78.8h.8v.8h-.8zM155.5 72.9h.8v.8h-.8zM156.2 78.5h.8v.8h-.8zM155.8 82.9h.8v.8h-.8zM155.3 83.5h.8v.8h-.8zM158.3 84.0h.8v.8h-.8zM152.6 58.5h.8v.8h-.8zM157.7 77.0h.8v.8h-.8zM156.9 71.7h.8v.8h-.8zM155.9 76.8h.8v.8h-.8zM160.5 66.2h.8v.8h-.8zM148.9 83.6h.8v.8h-.8zM158.6 82.1h.8v.8h-.8zM153.5 82.9h.8v.8h-.8zM156.4 83.9h.8v.8h-.8zM153.2 81.8h.8v.8h-.8zM158.1 72.2h.8v.8h-.8zM153.3 84.0h.8v.8h-.8zM152.2 82.5h.8v.8h-.8zM155.7 74.4h.8v.8h-.8zM156.1 78.5h.8v.8h-.8zM155.1 74.6h.8v.8h-.8zM155.3 77.8h.8v.8h-.8zM158.5 71.9h.8v.8h-.8zM155.5 77.4h.8v.8h-.8zM155.3 75.9h.8v.8h-.8zM158.6 74.7h.8v.8h-.8zM158.4 57.0h.8v.8h-.8zM159.5 71.9h.8v.8h-.8zM156.8 62.6h.8v.8h-.8zM152.5 82.8h.8v.8h-.8zM155.5 62.7h.8v.8h-.8zM159.2 83.9h.8v.8h-.8zM155.1 79.2h.8v.8h-.8zM155.7 83.3h.8v.8h-.8zM156.8 76.4h.8v.8h-.8zM159.9 58.1h.8v.8h-.8zM157.7 56.5h.8v.8h-.8zM155.3 77.9h.8v.8h-.8zM158.5 56.6h.8v.8h-.8zM155.4 82.4h.8v.8h-.8zM153.0 78.9h.8v.8h-.8zM156.1 81.0h.8v.8h-.8zM163.0 79.7h.8v.8h-.8zM158.9 80.3h.8v.8h-.8zM160.0 75.8h.8v.8h-.8zM154.7 76.9h.8v.8h-.8zM158.4 72.9h.8v.8h-.8zM156.4 83.5h.8v.8h-.8zM156.7 54.1h.8v.8h-.8zM155.9 77.7h.8v.8h-.8zM156.3 76.4h.8v.8h-.8zM155.7 82.2h.8v.8h-.8zM154.2 83.0h.8v.8h-.8zM151.9 79.7h.8v.8h-.8zM153.1 63.9h.8v.8h-.8zM151.6 54.8h.8v.8h-.8zM149.5 81.7h.8v.8h-.8zM158.0 84.2h.8v.8h-.8zM153.7 61.3h.8v.8h-.8zM155.4 81.5h.8v.8h-.8zM155.3 81.5h.8v.8h-.8zM161.2 79.5h.8v.8h-.8zM153.6 77.5h.8v.8h-.8zM158.3 74.6h.8v.8h-.8zM150.2 77.9h.8v.8h-.8zM156.7 74.5h.8v.8h-.8zM156.5 76.3h.8v.8h-.8zM157.1 53.5h.8v.8h-.8zM148.4 82.7h.8v.8h-.8zM161.0 76.7h.8v.8h-.8zM158.0 82.8h.8v.8h-.8zM154.0 82.1h.8v.8h-.8zM152.6 80.4h.8v.8h-.8zM150.1 84.0h.8v.8h-.8zM154.2 71.9h.8v.8h-.8zM152.3 74.1h.8v.8h-.8zM152.4 69.4h.8v.8h-.8zM158.5 73.9h.8v.8h-.8zM155.1 73.0h.8v.8h-.8zM153.7 54.5h.8v.8h-.8zM153.3 70.1h.8v.8h-.8zM155.3 54.6h.8v.8h-.8zM158.3 82.5h.8v.8h-.8zM148.0 62.8h.8v.8h-.8zM159.3 82.2h.8v.8h-.8zM154.6 74.4h.8v.8h-.8zM159.2 80.3h.8v.8h-.8zM165.6 84.0h.8v.8h-.8zM165.7 83.8h.8v.8h-.8zM165.8 83.1h.8v.8h-.8zM163.9 83.1h.8v.8h-.8zM168.7 76.1h.8v.8h-.8zM166.2 82.1h.8v.8h-.8zM159.1 83.0h.8v.8h-.8zM168.9 84.1h.8v.8h-.8zM162.6 81.3h.8v.8h-.8zM163.5 84.2h.8v.8h-.8zM155.5 80.3h.8v.8h-.8zM171.8 79.3h.8v.8h-.8zM159.4 81.0h.8v.8h-.8zM158.4 74.5h.8v.8h-.8zM165.9 83.6h.8v.8h-.8zM170.6 83.8h.8v.8h-.8zM166.1 79.0h.8v.8h-.8zM157.9 78.5h.8v.8h-.8zM161.8 82.4h.8v.8h-.8zM169.6 83.9h.8v.8h-.8zM162.7 71.6h.8v.8h-.8zM171.3 74.2h.8v.8h-.8zM170.3 84.2h.8v.8h-.8zM160.6 83.5h.8v.8h-.8zM168.1 83.1h.8v.8h-.8zM164.4 81.8h.8v.8h-.8zM165.1 81.1h.8v.8h-.8zM162.8 80.8h.8v.8h-.8zM171.3 83.4h.8v.8h-.8zM160.5 76.8h.8v.8h-.8zM163.5 82.2h.8v.8h-.8zM165.9 81.2h.8v.8h-.8zM164.2 83.2h.8v.8h-.8zM162.7 79.9h.8v.8h-.8zM160.2 79.8h.8v.8h-.8zM168.4 84.1h.8v.8h-.8zM166.7 81.0h.8v.8h-.8zM166.1 83.9h.8v.8h-.8zM160.4 84.3h.8v.8h-.8zM158.4 84.1h.8v.8h-.8zM161.5 81.7h.8v.8h-.8zM162.3 83.9h.8v.8h-.8zM163.1 82.4h.8v.8h-.8zM168.1 80.8h.8v.8h-.8zM170.5 84.0h.8v.8h-.8zM164.8 83.7h.8v.8h-.8zM159.0 81.8h.8v.8h-.8zM158.1 77.7h.8v.8h-.8zM164.5 81.4h.8v.8h-.8zM167.1 83.8h.8v.8h-.8zM165.2 80.3h.8v.8h-.8zM166.1 79.4h.8v.8h-.8zM161.0 80.0h.8v.8h-.8zM152.3 83.6h.8v.8h-.8zM170.0 81.9h.8v.8h-.8zM164.6 82.5h.8v.8h-.8zM164.2 84.2h.8v.8h-.8zM171.8 82.8h.8v.8h-.8zM159.6 84.0h.8v.8h-.8zM167.3 82.5h.8v.8h-.8zM167.1 83.3h.8v.8h-.8zM162.2 80.2h.8v.8h-.8zM158.0 84.4h.8v.8h-.8zM167.4 82.7h.8v.8h-.8zM165.3 83.8h.8v.8h-.8zM161.8 83.6h.8v.8h-.8zM160.6 82.8h.8v.8h-.8zM161.6 83.3h.8v.8h-.8zM155.9 82.9h.8v.8h-.8zM172.8 81.8h.8v.8h-.8zM158.8 84.4h.8v.8h-.8zM157.2 83.7h.8v.8h-.8zM173.2 84.3h.8v.8h-.8zM162.2 82.8h.8v.8h-.8zM160.8 80.5h.8v.8h-.8zM158.6 83.2h.8v.8h-.8zM169.9 83.7h.8v.8h-.8zM163.7 84.4h.8v.8h-.8zM166.3 79.3h.8v.8h-.8zM168.2 84.1h.8v.8h-.8zM166.9 83.0h.8v.8h-.8zM170.2 83.5h.8v.8h-.8zM165.8 74.0h.8v.8h-.8zM165.7 84.3h.8v.8h-.8zM163.0 78.0h.8v.8h-.8zM170.8 77.7h.8v.8h-.8zM152.3 81.9h.8v.8h-.8zM165.3 83.7h.8v.8h-.8zM156.4 80.7h.8v.8h-.8zM164.9 84.3h.8v.8h-.8zM167.3 84.4h.8v.8h-.8zM174.0 79.7h.8v.8h-.8zM161.6 83.8h.8v.8h-.8zM166.3 82.8h.8v.8h-.8zM165.9 78.9h.8v.8h-.8zM163.2 83.5h.8v.8h-.8zM166.9 83.4h.8v.8h-.8zM170.0 84.1h.8v.8h-.8zM156.1 78.7h.8v.8h-.8zM167.5 82.1h.8v.8h-.8zM171.0 81.9h.8v.8h-.8zM163.9 77.8h.8v.8h-.8zM167.2 79.0h.8v.8h-.8zM162.2 79.6h.8v.8h-.8zM163.0 83.3h.8v.8h-.8zM167.7 83.4h.8v.8h-.8zM161.8 83.9h.8v.8h-.8zM164.9 77.5h.8v.8h-.8zM158.0 78.2h.8v.8h-.8zM159.8 75.9h.8v.8h-.8zM147.8 75.0h.8v.8h-.8zM160.9 81.1h.8v.8h-.8zM158.2 76.3h.8v.8h-.8zM147.5 74.5h.8v.8h-.8zM158.8 73.2h.8v.8h-.8zM147.1 78.0h.8v.8h-.8zM155.5 73.0h.8v.8h-.8zM150.0 72.9h.8v.8h-.8zM161.5 77.5h.8v.8h-.8zM146.3 77.7h.8v.8h-.8zM159.4 79.8h.8v.8h-.8zM158.8 73.0h.8v.8h-.8zM147.9 80.2h.8v.8h-.8zM153.4 73.1h.8v.8h-.8zM151.3 75.0h.8v.8h-.8zM162.8 78.0h.8v.8h-.8zM149.5 76.8h.8v.8h-.8zM148.3 79.0h.8v.8h-.8zM149.3 72.9h.8v.8h-.8zM149.8 76.7h.8v.8h-.8zM146.5 79.8h.8v.8h-.8zM148.8 76.9h.8v.8h-.8zM153.4 71.9h.8v.8h-.8zM161.4 80.3h.8v.8h-.8zM149.4 73.8h.8v.8h-.8zM153.6 71.7h.8v.8h-.8zM159.5 79.1h.8v.8h-.8zM161.0 78.4h.8v.8h-.8zM156.4 73.0h.8v.8h-.8zM160.7 77.4h.8v.8h-.8zM155.0 72.8h.8v.8h-.8zM159.5 78.7h.8v.8h-.8zM157.6 75.3h.8v.8h-.8zM151.2 73.8h.8v.8h-.8zM159.6 80.2h.8v.8h-.8zM160.4 79.4h.8v.8h-.8zM147.9 80.6h.8v.8h-.8zM158.9 75.5h.8v.8h-.8zM152.7 73.0h.8v.8h-.8zM160.3 77.3h.8v.8h-.8zM159.6 76.9h.8v.8h-.8zM159.3 76.0h.8v.8h-.8zM159.6 77.1h.8v.8h-.8zM163.2 81.8h.8v.8h-.8zM152.7 72.7h.8v.8h-.8zM161.6 79.7h.8v.8h-.8zM149.6 77.2h.8v.8h-.8zM159.6 75.4h.8v.8h-.8zM147.8 76.8h.8v.8h-.8zM157.8 75.1h.8v.8h-.8zM140.9 76.4h.8v.8h-.8zM156.2 72.6h.8v.8h-.8zM160.5 76.6h.8v.8h-.8zM156.2 70.9h.8v.8h-.8zM159.6 76.1h.8v.8h-.8zM160.8 79.6h.8v.8h-.8zM148.0 76.3h.8v.8h-.8zM159.7 79.1h.8v.8h-.8zM161.7 79.0h.8v.8h-.8zM160.0 79.7h.8v.8h-.8zM156.0 73.2h.8v.8h-.8zM161.0 76.6h.8v.8h-.8zM152.8 73.8h.8v.8h-.8zM150.2 75.7h.8v.8h-.8zM152.4 72.9h.8v.8h-.8zM149.5 79.2h.8v.8h-.8zM148.2 81.2h.8v.8h-.8zM160.7 75.1h.8v.8h-.8zM150.4 76.8h.8v.8h-.8zM147.6 77.0h.8v.8h-.8zM156.8 74.1h.8v.8h-.8zM156.3 74.3h.8v.8h-.8zM158.1 76.3h.8v.8h-.8zM160.3 74.0h.8v.8h-.8zM148.9 74.8h.8v.8h-.8zM145.7 80.4h.8v.8h-.8zM160.1 80.0h.8v.8h-.8zM149.4 79.7h.8v.8h-.8zM159.3 77.2h.8v.8h-.8zM153.6 73.9h.8v.8h-.8zM157.9 73.8h.8v.8h-.8zM158.6 76.9h.8v.8h-.8zM150.2 76.6h.8v.8h-.8zM152.5 74.0h.8v.8h-.8zM156.8 74.9h.8v.8h-.8zM149.3 76.6h.8v.8h-.8zM149.0 79.4h.8v.8h-.8zM154.6 73.2h.8v.8h-.8zM147.9 76.9h.8v.8h-.8zM159.5 80.4h.8v.8h-.8zM154.1 72.7h.8v.8h-.8zM149.4 77.2h.8v.8h-.8zM156.4 74.4h.8v.8h-.8zM148.7 79.6h.8v.8h-.8zM159.3 74.6h.8v.8h-.8zM151.7 75.1h.8v.8h-.8zM152.6 73.2h.8v.8h-.8zM151.6 72.9h.8v.8h-.8zM148.1 77.8h.8v.8h-.8zM147.9 81.3h.8v.8h-.8zM159.4 78.2h.8v.8h-.8zM157.7 73.7h.8v.8h-.8zM161.2 79.5h.8v.8h-.8zM150.3 75.2h.8v.8h-.8zM155.8 73.2h.8v.8h-.8zM162.2 80.3h.8v.8h-.8zM147.1 77.7h.8v.8h-.8zM161.5 76.0h.8v.8h-.8zM156.4 74.3h.8v.8h-.8zM161.0 80.1h.8v.8h-.8zM155.6 73.9h.8v.8h-.8zM148.9 78.8h.8v.8h-.8zM159.5 79.1h.8v.8h-.8zM151.2 75.4h.8v.8h-.8zM154.0 72.9h.8v.8h-.8zM159.4 79.0h.8v.8h-.8zM149.4 71.7h.8v.8h-.8zM157.4 74.6h.8v.8h-.8zM154.0 73.8h.8v.8h-.8zM157.2 73.6h.8v.8h-.8zM158.9 77.2h.8v.8h-.8zM151.7 73.5h.8v.8h-.8zM151.0 73.6h.8v.8h-.8zM149.9 75.5h.8v.8h-.8zM151.3 75.3h.8v.8h-.8zM158.4 75.1h.8v.8h-.8zM149.5 80.5h.8v.8h-.8zM159.5 77.3h.8v.8h-.8zM149.7 78.3h.8v.8h-.8zM150.2 76.1h.8v.8h-.8zM158.9 75.9h.8v.8h-.8zM163.8 80.4h.8v.8h-.8zM155.6 74.1h.8v.8h-.8zM159.8 79.6h.8v.8h-.8zM153.0 73.8h.8v.8h-.8zM162.4 77.7h.8v.8h-.8zM151.0 72.1h.8v.8h-.8zM160.4 75.5h.8v.8h-.8zM156.4 74.6h.8v.8h-.8zM149.6 79.9h.8v.8h-.8zM146.5 78.2h.8v.8h-.8zM157.0 75.0h.8v.8h-.8zM149.0 78.8h.8v.8h-.8zM156.9 74.2h.8v.8h-.8zM158.6 74.3h.8v.8h-.8zM159.6 80.6h.8v.8h-.8zM153.0 73.8h.8v.8h-.8zM149.6 76.4h.8v.8h-.8zM162.4 81.1h.8v.8h-.8zM149.9 77.8h.8v.8h-.8zM148.9 77.4h.8v.8h-.8zM159.5 75.6h.8v.8h-.8zM146.6 80.1h.8v.8h-.8zM149.2 80.4h.8v.8h-.8zM153.3 74.3h.8v.8h-.8zM153.1 72.4h.8v.8h-.8zM160.8 78.6h.8v.8h-.8zM152.2 74.2h.8v.8h-.8zM162.2 80.1h.8v.8h-.8zM156.4 71.6h.8v.8h-.8zM148.9 78.2h.8v.8h-.8zM158.9 74.6h.8v.8h-.8zM148.7 81.1h.8v.8h-.8zM155.0 71.5h.8v.8h-.8zM149.3 80.9h.8v.8h-.8zM158.6 74.1h.8v.8h-.8zM155.8 74.7h.8v.8h-.8zM161.4 80.5h.8v.8h-.8zM161.9 80.4h.8v.8h-.8zM150.6 74.9h.8v.8h-.8zM152.1 74.8h.8v.8h-.8zM162.8 75.4h.8v.8h-.8zM161.2 76.0h.8v.8h-.8zM161.4 71.7h.8v.8h-.8zM151.4 75.8h.8v.8h-.8zM157.1 73.8h.8v.8h-.8zM148.4 77.7h.8v.8h-.8zM149.5 75.2h.8v.8h-.8zM163.5 79.6h.8v.8h-.8zM160.5 75.5h.8v.8h-.8zM149.6 78.2h.8v.8h-.8zM162.1 79.1h.8v.8h-.8zM157.5 71.1h.8v.8h-.8zM147.5 79.3h.8v.8h-.8zM159.8 76.4h.8v.8h-.8zM148.7 78.8h.8v.8h-.8zM162.4 78.1h.8v.8h-.8zM149.7 75.9h.8v.8h-.8zM158.6 76.1h.8v.8h-.8zM154.4 74.1h.8v.8h-.8zM158.6 75.9h.8v.8h-.8zM148.7 74.4h.8v.8h-.8zM150.2 71.6h.8v.8h-.8zM161.4 81.5h.8v.8h-.8zM152.2 71.8h.8v.8h-.8zM159.9 75.9h.8v.8h-.8zM153.5 73.6h.8v.8h-.8zM160.9 80.2h.8v.8h-.8zM153.7 72.4h.8v.8h-.8zM147.5 77.8h.8v.8h-.8zM161.2 71.4h.8v.8h-.8zM155.6 72.9h.8v.8h-.8zM159.9 75.4h.8v.8h-.8zM151.3 73.4h.8v.8h-.8zM150.4 76.6h.8v.8h-.8zM154.1 74.3h.8v.8h-.8zM147.0 79.3h.8v.8h-.8zM146.2 80.9h.8v.8h-.8zM153.4 71.7h.8v.8h-.8zM158.7 76.0h.8v.8h-.8zM151.1 74.6h.8v.8h-.8zM149.2 78.4h.8v.8h-.8zM159.9 77.3h.8v.8h-.8zM154.5 73.9h.8v.8h-.8zM150.3 73.7h.8v.8h-.8zM153.6 70.9h.8v.8h-.8zM158.8 77.2h.8v.8h-.8zM146.3 74.9h.8v.8h-.8zM163.6 79.1h.8v.8h-.8zM161.7 75.2h.8v.8h-.8zM158.7 72.0h.8v.8h-.8zM153.3 74.1h.8v.8h-.8zM146.4 79.0h.8v.8h-.8zM158.8 74.4h.8v.8h-.8zM158.6 76.5h.8v.8h-.8zM161.2 77.0h.8v.8h-.8zM160.3 80.4h.8v.8h-.8zM158.0 75.4h.8v.8h-.8zM155.7 73.9h.8v.8h-.8zM149.1 78.3h.8v.8h-.8zM153.8 73.3h.8v.8h-.8zM152.2 75.3h.8v.8h-.8zM155.5 74.7h.8v.8h-.8zM147.2 77.3h.8v.8h-.8zM162.9 78.5h.8v.8h-.8zM163.0 81.4h.8v.8h-.8zM145.1 77.5h.8v.8h-.8zM151.3 72.9h.8v.8h-.8zM155.4 74.7h.8v.8h-.8zM149.7 77.2h.8v.8h-.8zM149.1 78.6h.8v.8h-.8zM156.3 72.3h.8v.8h-.8zM160.1 80.0h.8v.8h-.8zM161.1 80.2h.8v.8h-.8zM158.8 72.0h.8v.8h-.8zM158.1 74.9h.8v.8h-.8zM151.4 74.3h.8v.8h-.8zM160.3 80.5h.8v.8h-.8zM149.9 76.4h.8v.8h-.8zM149.7 80.7h.8v.8h-.8zM155.6 74.3h.8v.8h-.8zM147.3 78.5h.8v.8h-.8zM160.6 77.6h.8v.8h-.8zM162.1 79.7h.8v.8h-.8zM160.5 81.1h.8v.8h-.8zM147.0 81.7h.8v.8h-.8zM144.8 80.6h.8v.8h-.8zM149.8 74.1h.8v.8h-.8zM156.3 73.0h.8v.8h-.8zM159.4 79.1h.8v.8h-.8zM156.1 74.9h.8v.8h-.8zM149.9 77.3h.8v.8h-.8zM149.5 77.6h.8v.8h-.8zM160.2 79.7h.8v.8h-.8zM149.4 75.3h.8v.8h-.8zM150.5 74.5h.8v.8h-.8zM161.9 80.7h.8v.8h-.8zM147.9 79.8h.8v.8h-.8zM160.0 77.6h.8v.8h-.8zM158.5 76.6h.8v.8h-.8zM149.9 75.7h.8v.8h-.8zM158.2 74.4h.8v.8h-.8zM165.9 80.9h.8v.8h-.8zM156.8 75.1h.8v.8h-.8zM158.1 74.1h.8v.8h-.8zM156.0 72.2h.8v.8h-.8zM151.4 74.4h.8v.8h-.8zM148.9 78.2h.8v.8h-.8zM148.3 77.7h.8v.8h-.8zM160.9 76.5h.8v.8h-.8zM147.2 77.3h.8v.8h-.8zM155.6 74.9h.8v.8h-.8zM152.8 74.7h.8v.8h-.8zM149.6 79.8h.8v.8h-.8zM153.0 74.7h.8v.8h-.8zM147.6 74.9h.8v.8h-.8zM159.1 77.8h.8v.8h-.8zM154.0 73.9h.8v.8h-.8zM151.8 73.6h.8v.8h-.8zM147.7 75.6h.8v.8h-.8zM158.1 74.8h.8v.8h-.8zM154.6 72.9h.8v.8h-.8zM160.4 79.5h.8v.8h-.8zM148.9 79.7h.8v.8h-.8zM149.2 79.4h.8v.8h-.8zM157.5 74.9h.8v.8h-.8zM152.9 74.2h.8v.8h-.8zM161.7 79.9h.8v.8h-.8zM149.7 76.2h.8v.8h-.8zM150.6 74.7h.8v.8h-.8zM159.9 79.3h.8v.8h-.8zM147.9 77.4h.8v.8h-.8zM146.8 80.5h.8v.8h-.8zM158.6 73.2h.8v.8h-.8zM149.4 78.0h.8v.8h-.8zM154.6 74.3h.8v.8h-.8zM150.1 73.5h.8v.8h-.8zM159.5 74.9h.8v.8h-.8zM154.8 73.3h.8v.8h-.8zM152.6 72.4h.8v.8h-.8zM159.4 72.6h.8v.8h-.8zM147.5 81.5h.8v.8h-.8zM149.4 76.6h.8v.8h-.8zM148.8 79.3h.8v.8h-.8zM158.9 74.5h.8v.8h-.8zM150.7 76.4h.8v.8h-.8zM157.6 75.4h.8v.8h-.8zM159.0 74.4h.8v.8h-.8zM153.1 74.5h.8v.8h-.8zM155.4 74.2h.8v.8h-.8zM160.0 80.9h.8v.8h-.8zM154.5 74.4h.8v.8h-.8zM154.2 73.8h.8v.8h-.8zM154.4 72.0h.8v.8h-.8zM160.1 77.1h.8v.8h-.8zM163.4 76.0h.8v.8h-.8zM153.9 73.4h.8v.8h-.8zM147.9 78.4h.8v.8h-.8zM158.2 75.2h.8v.8h-.8zM161.8 81.0h.8v.8h-.8zM148.9 80.2h.8v.8h-.8zM146.0 78.5h.8v.8h-.8zM149.9 73.8h.8v.8h-.8zM158.8 75.7h.8v.8h-.8zM151.5 75.0h.8v.8h-.8zM159.3 74.9h.8v.8h-.8zM149.2 74.9h.8v.8h-.8zM149.6 80.8h.8v.8h-.8zM149.0 79.2h.8v.8h-.8zM158.9 72.0h.8v.8h-.8zM147.6 77.6h.8v.8h-.8zM147.3 78.6h.8v.8h-.8zM152.4 75.2h.8v.8h-.8zM149.6 80.1h.8v.8h-.8zM149.4 71.5h.8v.8h-.8zM148.3 72.2h.8v.8h-.8zM160.3 79.2h.8v.8h-.8zM157.4 71.4h.8v.8h-.8zM162.3 80.9h.8v.8h-.8zM156.7 71.2h.8v.8h-.8zM147.9 76.6h.8v.8h-.8zM151.6 75.4h.8v.8h-.8zM151.0 72.9h.8v.8h-.8zM150.2 77.0h.8v.8h-.8zM149.1 74.7h.8v.8h-.8zM153.0 75.0h.8v.8h-.8zM157.9 74.9h.8v.8h-.8zM149.1 74.8h.8v.8h-.8zM159.5 76.5h.8v.8h-.8zM155.0 71.5h.8v.8h-.8zM148.8 75.5h.8v.8h-.8zM151.8 74.3h.8v.8h-.8zM149.2 74.4h.8v.8h-.8zM160.8 77.1h.8v.8h-.8zM154.2 74.6h.8v.8h-.8zM153.4 73.5h.8v.8h-.8zM151.7 74.9h.8v.8h-.8zM160.0 75.7h.8v.8h-.8zM158.5 76.2h.8v.8h-.8zM160.0 76.5h.8v.8h-.8zM157.9 74.5h.8v.8h-.8zM159.5 74.1h.8v.8h-.8zM149.5 75.2h.8v.8h-.8zM149.0 80.4h.8v.8h-.8zM162.3 80.7h.8v.8h-.8zM159.7 80.3h.8v.8h-.8zM159.1 77.4h.8v.8h-.8zM147.8 78.8h.8v.8h-.8zM159.0 77.3h.8v.8h-.8zM151.1 73.3h.8v.8h-.8zM148.3 74.4h.8v.8h-.8zM159.6 79.0h.8v.8h-.8zM160.6 77.9h.8v.8h-.8zM152.6 73.5h.8v.8h-.8zM150.5 74.9h.8v.8h-.8zM149.7 78.1h.8v.8h-.8zM148.3 73.9h.8v.8h-.8zM150.5 74.2h.8v.8h-.8zM160.8 77.9h.8v.8h-.8zM148.8 77.0h.8v.8h-.8zM159.3 76.7h.8v.8h-.8zM160.1 79.1h.8v.8h-.8zM152.9 72.8h.8v.8h-.8zM149.3 75.6h.8v.8h-.8zM148.3 80.8h.8v.8h-.8zM148.6 81.0h.8v.8h-.8zM152.2 75.2h.8v.8h-.8zM158.7 74.4h.8v.8h-.8zM156.8 75.2h.8v.8h-.8zM157.7 75.5h.8v.8h-.8zM156.6 74.9h.8v.8h-.8zM160.5 78.1h.8v.8h-.8zM159.6 79.3h.8v.8h-.8zM156.6 72.4h.8v.8h-.8zM150.4 74.4h.8v.8h-.8zM157.2 75.1h.8v.8h-.8zM156.7 74.2h.8v.8h-.8zM150.2 77.2h.8v.8h-.8zM150.2 74.7h.8v.8h-.8zM160.3 79.1h.8v.8h-.8zM148.2 78.7h.8v.8h-.8zM159.3 78.3h.8v.8h-.8zM149.1 75.8h.8v.8h-.8zM148.7 80.4h.8v.8h-.8zM159.4 77.1h.8v.8h-.8zM160.0 76.3h.8v.8h-.8zM154.1 74.1h.8v.8h-.8zM152.4 75.2h.8v.8h-.8zM148.2 75.7h.8v.8h-.8z" fill="#000" fill-opacity="0.42"/>
<ellipse cx="165.65" cy="83.60" rx="7.25" ry="1.10" fill="#444" fill-opacity="0.6" stroke="#111" stroke-width="0.9"/>
<path d="M148.49 77.25A6.40 6.30 0 0 1 160.68 77.77" fill="none" stroke="#111" stroke-width="1.3" stroke-opacity="0.75"/>
<ellipse cx="154.50" cy="79.40" rx="5.3" ry="5.2" fill="#9e9e9e" stroke="#111" stroke-width="1.3"/>
<ellipse cx="154.50" cy="79.70" rx="3.80" ry="3.70" fill="#bdbdbd" stroke="#444" stroke-width="0.6"/>
<ellipse cx="154.50" cy="79.90" rx="2.30" ry="2.20" fill="#d6d6d6" stroke="#777" stroke-width="0.5"/>
<path d="M162.30 85.20V41.25H189.40V85.20" fill="none" stroke="#777" stroke-width="0.9"/>
<text x="188.00" y="40.05" font-size="4.5" text-anchor="end" fill="#333" textLength="7.4" lengthAdjust="spacingAndGlyphs" >P13</text>
<path d="M145.40 85.20V33.45H198.10V85.20Z" fill="none" stroke="#222" stroke-width="1.2"/>
<line x1="142.20" y1="36.10" x2="145.40" y2="36.10" stroke="#333" stroke-width="0.7"/>
<text x="139.10" y="37.70" font-size="4.4" text-anchor="end" fill="#333" textLength="6.1" lengthAdjust="spacingAndGlyphs" >250</text>
<line x1="142.20" y1="46.00" x2="145.40" y2="46.00" stroke="#333" stroke-width="0.7"/>
<text x="139.10" y="47.60" font-size="4.4" text-anchor="end" fill="#333" textLength="6.1" lengthAdjust="spacingAndGlyphs" >200</text>
<line x1="142.20" y1="55.90" x2="145.40" y2="55.90" stroke="#333" stroke-width="0.7"/>
<text x="139.10" y="57.50" font-size="4.4" text-anchor="end" fill="#333" textLength="6.1" lengthAdjust="spacingAndGlyphs" >150</text>
<line x1="142.20" y1="65.80" x2="145.40" y2="65.80" stroke="#333" stroke-width="0.7"/>
<text x="139.10" y="67.40" font-size="4.4" text-anchor="end" fill="#333" textLength="6.1" lengthAdjust="spacingAndGlyphs" >100</text>
<line x1="142.20" y1="75.70" x2="145.40" y2="75.70" stroke="#333" stroke-width="0.7"/>
<text x="139.10" y="77.30" font-size="4.4" text-anchor="end" fill="#333" textLength="4.1" lengthAdjust="spacingAndGlyphs" >50</text>
<line x1="143.70" y1="36.10" x2="145.40" y2="36.10" stroke="#333" stroke-width="0.6"/>
<line x1="143.70" y1="38.08" x2="145.40" y2="38.08" stroke="#333" stroke-width="0.6"/>
<line x1="143.70" y1="40.06" x2="145.40" y2="40.06" stroke="#333" stroke-width="0.6"/>
<line x1="143.70" y1="42.04" x2="145.40" y2="42.04" stroke="#333" stroke-width="0.6"/>
<line x1="143.70" y1="44.02" x2="145.40" y2="44.02" stroke="#333" stroke-width="0.6"/>
<line x1="143.70" y1="46.00" x2="145.40" y2="46.00" stroke="#333" stroke-width="0.6"/>
<line x1="143.70" y1="47.98" x2="145.40" y2="47.98" stroke="#333" stroke-width="0.6"/>
<line x1="143.70" y1="49.96" x2="145.40" y2="49.96" stroke="#333" stroke-width="0.6"/>
<line x1="143.70" y1="51.94" x2="145.40" y2="51.94" stroke="#333" stroke-width="0.6"/>
<line x1="143.70" y1="53.92" x2="145.40" y2="53.92" stroke="#333" stroke-width="0.6"/>
<line x1="143.70" y1="55.90" x2="145.40" y2="55.90" stroke="#333" stroke-width="0.6"/>
<line x1="143.70" y1="57.88" x2="145.40" y2="57.88" stroke="#333" stroke-width="0.6"/>
<line x1="143.70" y1="59.86" x2="145.40" y2="59.86" stroke="#333" stroke-width="0.6"/>
<line x1="143.70" y1="61.84" x2="145.40" y2="61.84" stroke="#333" stroke-width="0.6"/>
<line x1="143.70" y1="63.82" x2="145.40" y2="63.82" stroke="#333" stroke-width="0.6"/>
<line x1="143.70" y1="65.80" x2="145.40" y2="65.80" stroke="#333" stroke-width="0.6"/>
<line x1="143.70" y1="67.78" x2="145.40" y2="67.78" stroke="#333" stroke-width="0.6"/>
<line x1="143.70" y1="69.76" x2="145.40" y2="69.76" stroke="#333" stroke-width="0.6"/>
<line x1="143.70" y1="71.74" x2="145.40" y2="71.74" stroke="#333" stroke-width="0.6"/>
<line x1="143.70" y1="73.72" x2="145.40" y2="73.72" stroke="#333" stroke-width="0.6"/>
<line x1="143.70" y1="75.70" x2="145.40" y2="75.70" stroke="#333" stroke-width="0.6"/>
<line x1="143.70" y1="77.68" x2="145.40" y2="77.68" stroke="#333" stroke-width="0.6"/>
<line x1="143.70" y1="79.66" x2="145.40" y2="79.66" stroke="#333" stroke-width="0.6"/>
<line x1="143.70" y1="81.64" x2="145.40" y2="81.64" stroke="#333" stroke-width="0.6"/>
<line x1="143.70" y1="83.62" x2="145.40" y2="83.62" stroke="#333" stroke-width="0.6"/>
<line x1="145.90" y1="85.20" x2="145.90" y2="88.20" stroke="#333" stroke-width="0.6"/>
<line x1="149.40" y1="85.20" x2="149.40" y2="88.20" stroke="#333" stroke-width="0.6"/>
<line x1="152.00" y1="85.20" x2="152.00" y2="88.20" stroke="#333" stroke-width="0.6"/>
<line x1="153.56" y1="85.20" x2="153.56" y2="87.30" stroke="#333" stroke-width="0.65"/>
<line x1="154.52" y1="85.20" x2="154.52" y2="87.30" stroke="#333" stroke-width="0.65"/>
<line x1="155.33" y1="85.20" x2="155.33" y2="87.30" stroke="#333" stroke-width="0.65"/>
<line x1="156.03" y1="85.20" x2="156.03" y2="87.30" stroke="#333" stroke-width="0.65"/>
<line x1="156.65" y1="85.20" x2="156.65" y2="87.30" stroke="#333" stroke-width="0.65"/>
<line x1="157.20" y1="85.20" x2="157.20" y2="88.80" stroke="#222" stroke-width="0.7"/>
<line x1="160.84" y1="85.20" x2="160.84" y2="87.30" stroke="#333" stroke-width="0.65"/>
<line x1="162.97" y1="85.20" x2="162.97" y2="87.30" stroke="#333" stroke-width="0.65"/>
<line x1="164.48" y1="85.20" x2="164.48" y2="87.30" stroke="#333" stroke-width="0.65"/>
<line x1="165.66" y1="85.20" x2="165.66" y2="87.30" stroke="#333" stroke-width="0.65"/>
<line x1="166.62" y1="85.20" x2="166.62" y2="87.30" stroke="#333" stroke-width="0.65"/>
<line x1="167.43" y1="85.20" x2="167.43" y2="87.30" stroke="#333" stroke-width="0.65"/>
<line x1="168.13" y1="85.20" x2="168.13" y2="87.30" stroke="#333" stroke-width="0.65"/>
<line x1="168.75" y1="85.20" x2="168.75" y2="87.30" stroke="#333" stroke-width="0.65"/>
<line x1="169.30" y1="85.20" x2="169.30" y2="88.80" stroke="#222" stroke-width="0.7"/>
<line x1="172.94" y1="85.20" x2="172.94" y2="87.30" stroke="#333" stroke-width="0.65"/>
<line x1="175.07" y1="85.20" x2="175.07" y2="87.30" stroke="#333" stroke-width="0.65"/>
<line x1="176.58" y1="85.20" x2="176.58" y2="87.30" stroke="#333" stroke-width="0.65"/>
<line x1="177.76" y1="85.20" x2="177.76" y2="87.30" stroke="#333" stroke-width="0.65"/>
<line x1="178.72" y1="85.20" x2="178.72" y2="87.30" stroke="#333" stroke-width="0.65"/>
<line x1="179.53" y1="85.20" x2="179.53" y2="87.30" stroke="#333" stroke-width="0.65"/>
<line x1="180.23" y1="85.20" x2="180.23" y2="87.30" stroke="#333" stroke-width="0.65"/>
<line x1="180.85" y1="85.20" x2="180.85" y2="87.30" stroke="#333" stroke-width="0.65"/>
<line x1="181.40" y1="85.20" x2="181.40" y2="88.80" stroke="#222" stroke-width="0.7"/>
<line x1="185.04" y1="85.20" x2="185.04" y2="87.30" stroke="#333" stroke-width="0.65"/>
<line x1="187.17" y1="85.20" x2="187.17" y2="87.30" stroke="#333" stroke-width="0.65"/>
<line x1="188.68" y1="85.20" x2="188.68" y2="87.30" stroke="#333" stroke-width="0.65"/>
<line x1="189.86" y1="85.20" x2="189.86" y2="87.30" stroke="#333" stroke-width="0.65"/>
<line x1="190.82" y1="85.20" x2="190.82" y2="87.30" stroke="#333" stroke-width="0.65"/>
<line x1="191.63" y1="85.20" x2="191.63" y2="87.30" stroke="#333" stroke-width="0.65"/>
<line x1="192.33" y1="85.20" x2="192.33" y2="87.30" stroke="#333" stroke-width="0.65"/>
<line x1="192.95" y1="85.20" x2="192.95" y2="87.30" stroke="#333" stroke-width="0.65"/>
<line x1="193.50" y1="85.20" x2="193.50" y2="88.80" stroke="#222" stroke-width="0.7"/>
<line x1="197.14" y1="85.20" x2="197.14" y2="87.30" stroke="#333" stroke-width="0.65"/>
<text x="143.40" y="96.90" font-size="4.4" text-anchor="middle" fill="#333" textLength="8.8" lengthAdjust="spacingAndGlyphs" >−255</text>
<text x="151.10" y="94.60" font-size="4.6" text-anchor="middle" fill="#333" >0</text>
<text x="153.30" y="95.00" font-size="4.6" fill="#333"><tspan textLength="4.0" lengthAdjust="spacingAndGlyphs">10</tspan><tspan font-size="2.6" dy="-2.4" dx="0.3">2</tspan></text>
<text x="165.40" y="95.00" font-size="4.6" fill="#333"><tspan textLength="4.0" lengthAdjust="spacingAndGlyphs">10</tspan><tspan font-size="2.6" dy="-2.4" dx="0.3">3</tspan></text>
<text x="177.50" y="95.00" font-size="4.6" fill="#333"><tspan textLength="4.0" lengthAdjust="spacingAndGlyphs">10</tspan><tspan font-size="2.6" dy="-2.4" dx="0.3">4</tspan></text>
<text x="189.60" y="95.00" font-size="4.6" fill="#333"><tspan textLength="4.0" lengthAdjust="spacingAndGlyphs">10</tspan><tspan font-size="2.6" dy="-2.4" dx="0.3">5</tspan></text>
<text x="154.50" y="103.70" font-size="7.2" text-anchor="start" fill="#111" textLength="34.4" lengthAdjust="spacingAndGlyphs" >CD34 APC-A</text>
<text transform="translate(128.00,59.05) rotate(-90)" font-size="6.4" text-anchor="middle" fill="#111" textLength="16.3" lengthAdjust="spacingAndGlyphs" >SSC-A</text>
<text transform="translate(127.90,40.75) rotate(-90)" font-size="4.2" text-anchor="middle" fill="#333" textLength="15.7" lengthAdjust="spacingAndGlyphs" >(x 1,000)</text>
<text x="172.00" y="27.45" font-size="7.2" text-anchor="middle" fill="#111" textLength="13.12" lengthAdjust="spacingAndGlyphs" >3.8%</text>
<ellipse cx="68.50" cy="172.60" rx="6" ry="6" fill="url(#hz)" opacity="0.3"/>
<ellipse cx="68.30" cy="172.60" rx="4.5" ry="4" fill="url(#hz)" opacity="0.45"/>
<path d="M64.8 166.5h.8v.8h-.8zM65.8 168.6h.8v.8h-.8zM68.0 182.1h.8v.8h-.8zM68.6 177.9h.8v.8h-.8zM72.2 180.9h.8v.8h-.8zM70.2 179.0h.8v.8h-.8zM69.8 178.0h.8v.8h-.8zM66.2 172.2h.8v.8h-.8zM68.9 176.6h.8v.8h-.8zM71.1 176.7h.8v.8h-.8zM68.8 177.0h.8v.8h-.8zM64.3 181.0h.8v.8h-.8zM73.9 164.2h.8v.8h-.8zM67.1 174.5h.8v.8h-.8zM71.4 175.6h.8v.8h-.8zM68.7 155.1h.8v.8h-.8zM70.4 179.0h.8v.8h-.8zM72.7 176.3h.8v.8h-.8zM72.3 179.5h.8v.8h-.8zM65.9 179.4h.8v.8h-.8zM74.8 178.2h.8v.8h-.8zM72.1 178.5h.8v.8h-.8zM68.1 181.5h.8v.8h-.8zM66.4 177.8h.8v.8h-.8zM64.7 178.4h.8v.8h-.8zM69.7 177.6h.8v.8h-.8zM75.0 167.1h.8v.8h-.8zM72.9 180.9h.8v.8h-.8zM74.0 173.0h.8v.8h-.8zM67.7 176.9h.8v.8h-.8zM66.8 181.4h.8v.8h-.8zM69.4 173.8h.8v.8h-.8zM68.1 173.8h.8v.8h-.8zM66.5 181.8h.8v.8h-.8zM67.4 176.7h.8v.8h-.8zM67.6 179.7h.8v.8h-.8zM67.3 177.2h.8v.8h-.8zM68.4 174.5h.8v.8h-.8zM70.9 172.9h.8v.8h-.8zM71.2 176.0h.8v.8h-.8zM64.6 175.5h.8v.8h-.8zM65.0 180.8h.8v.8h-.8zM63.0 175.6h.8v.8h-.8zM71.3 170.5h.8v.8h-.8zM66.6 151.6h.8v.8h-.8zM71.8 167.6h.8v.8h-.8zM68.1 174.6h.8v.8h-.8zM67.7 182.8h.8v.8h-.8zM77.3 171.4h.8v.8h-.8zM65.3 180.3h.8v.8h-.8zM70.2 167.3h.8v.8h-.8zM67.2 176.5h.8v.8h-.8zM76.1 177.9h.8v.8h-.8zM69.7 167.1h.8v.8h-.8zM67.4 165.2h.8v.8h-.8zM65.1 181.1h.8v.8h-.8zM67.2 179.4h.8v.8h-.8zM70.2 174.3h.8v.8h-.8zM69.5 181.9h.8v.8h-.8zM70.5 180.2h.8v.8h-.8zM71.4 160.4h.8v.8h-.8zM65.2 177.9h.8v.8h-.8zM69.8 159.6h.8v.8h-.8zM66.4 168.1h.8v.8h-.8zM68.7 182.2h.8v.8h-.8zM66.6 159.8h.8v.8h-.8zM64.6 165.3h.8v.8h-.8zM67.5 181.7h.8v.8h-.8zM67.8 169.2h.8v.8h-.8zM65.4 177.6h.8v.8h-.8zM71.8 180.1h.8v.8h-.8zM77.0 170.8h.8v.8h-.8zM70.3 172.4h.8v.8h-.8zM66.8 178.6h.8v.8h-.8zM69.4 155.4h.8v.8h-.8zM71.3 179.0h.8v.8h-.8zM68.8 170.5h.8v.8h-.8zM68.8 179.1h.8v.8h-.8zM62.1 181.0h.8v.8h-.8zM65.8 173.4h.8v.8h-.8zM73.5 178.4h.8v.8h-.8zM67.1 160.5h.8v.8h-.8zM68.7 177.4h.8v.8h-.8zM63.0 181.1h.8v.8h-.8zM68.7 171.6h.8v.8h-.8zM65.2 182.2h.8v.8h-.8zM74.0 180.2h.8v.8h-.8zM66.4 178.8h.8v.8h-.8zM66.1 175.3h.8v.8h-.8zM72.6 168.7h.8v.8h-.8zM68.8 175.9h.8v.8h-.8zM75.4 174.8h.8v.8h-.8zM67.8 169.6h.8v.8h-.8zM67.7 180.0h.8v.8h-.8zM72.9 172.9h.8v.8h-.8zM64.5 167.9h.8v.8h-.8zM64.3 155.6h.8v.8h-.8zM71.0 181.2h.8v.8h-.8zM71.8 176.7h.8v.8h-.8zM71.1 181.6h.8v.8h-.8zM70.2 178.7h.8v.8h-.8zM75.7 181.6h.8v.8h-.8zM70.8 181.2h.8v.8h-.8zM73.1 177.3h.8v.8h-.8zM65.4 176.8h.8v.8h-.8zM68.1 166.8h.8v.8h-.8zM76.8 181.1h.8v.8h-.8zM69.8 182.7h.8v.8h-.8zM69.5 176.2h.8v.8h-.8zM64.6 180.9h.8v.8h-.8zM69.6 171.4h.8v.8h-.8zM66.1 180.8h.8v.8h-.8zM64.6 178.9h.8v.8h-.8zM66.8 177.2h.8v.8h-.8zM73.5 172.5h.8v.8h-.8zM70.9 181.6h.8v.8h-.8zM63.8 182.1h.8v.8h-.8zM67.3 166.7h.8v.8h-.8zM69.8 180.5h.8v.8h-.8zM68.2 182.3h.8v.8h-.8zM69.0 177.1h.8v.8h-.8zM70.4 180.5h.8v.8h-.8zM67.8 178.9h.8v.8h-.8zM72.6 169.1h.8v.8h-.8zM68.7 180.8h.8v.8h-.8zM68.2 172.3h.8v.8h-.8zM70.4 169.5h.8v.8h-.8zM71.3 182.8h.8v.8h-.8zM68.9 170.4h.8v.8h-.8zM62.3 178.6h.8v.8h-.8zM73.1 179.7h.8v.8h-.8zM76.4 176.6h.8v.8h-.8zM72.6 177.9h.8v.8h-.8zM63.6 167.1h.8v.8h-.8zM71.2 177.3h.8v.8h-.8zM70.5 163.1h.8v.8h-.8zM72.1 178.4h.8v.8h-.8zM66.7 177.5h.8v.8h-.8zM65.3 175.4h.8v.8h-.8zM69.1 165.1h.8v.8h-.8zM73.3 182.4h.8v.8h-.8zM64.2 148.6h.8v.8h-.8zM65.6 166.4h.8v.8h-.8zM65.6 177.4h.8v.8h-.8zM71.0 171.9h.8v.8h-.8zM71.1 171.4h.8v.8h-.8zM70.4 173.5h.8v.8h-.8zM73.7 173.4h.8v.8h-.8zM72.6 179.6h.8v.8h-.8zM69.5 174.9h.8v.8h-.8zM68.1 173.1h.8v.8h-.8zM70.5 180.1h.8v.8h-.8zM69.7 176.0h.8v.8h-.8zM66.2 168.2h.8v.8h-.8zM73.1 182.5h.8v.8h-.8zM72.7 158.3h.8v.8h-.8zM74.4 179.0h.8v.8h-.8zM69.9 181.3h.8v.8h-.8zM65.8 178.3h.8v.8h-.8zM71.5 181.9h.8v.8h-.8zM66.2 152.3h.8v.8h-.8zM68.6 178.8h.8v.8h-.8zM66.8 151.9h.8v.8h-.8zM70.0 179.6h.8v.8h-.8zM65.1 178.6h.8v.8h-.8zM63.9 170.4h.8v.8h-.8zM68.7 182.7h.8v.8h-.8zM70.6 177.7h.8v.8h-.8zM70.6 177.9h.8v.8h-.8zM67.4 170.1h.8v.8h-.8zM68.7 176.5h.8v.8h-.8zM70.9 178.1h.8v.8h-.8zM75.7 180.7h.8v.8h-.8zM66.3 175.7h.8v.8h-.8zM68.2 177.8h.8v.8h-.8zM69.4 160.8h.8v.8h-.8zM67.5 171.9h.8v.8h-.8zM73.3 182.5h.8v.8h-.8zM70.5 179.9h.8v.8h-.8zM68.2 171.8h.8v.8h-.8zM72.3 181.9h.8v.8h-.8zM69.4 177.3h.8v.8h-.8zM70.9 180.8h.8v.8h-.8zM69.2 182.3h.8v.8h-.8zM70.9 176.5h.8v.8h-.8zM70.2 181.8h.8v.8h-.8zM70.5 180.5h.8v.8h-.8zM65.8 180.6h.8v.8h-.8zM69.6 170.9h.8v.8h-.8zM68.1 182.2h.8v.8h-.8zM88.8 174.0h.8v.8h-.8zM82.9 163.2h.8v.8h-.8zM85.8 171.3h.8v.8h-.8zM85.5 174.2h.8v.8h-.8zM83.8 176.2h.8v.8h-.8zM80.9 181.0h.8v.8h-.8zM81.1 174.3h.8v.8h-.8zM85.9 179.5h.8v.8h-.8zM83.5 182.2h.8v.8h-.8zM90.9 166.9h.8v.8h-.8zM81.3 181.9h.8v.8h-.8zM84.6 176.0h.8v.8h-.8zM77.3 178.4h.8v.8h-.8zM84.3 177.8h.8v.8h-.8zM82.3 160.8h.8v.8h-.8zM95.3 180.1h.8v.8h-.8zM83.8 166.3h.8v.8h-.8zM82.5 172.7h.8v.8h-.8zM86.6 182.3h.8v.8h-.8zM79.1 163.2h.8v.8h-.8zM86.1 173.5h.8v.8h-.8zM87.6 180.9h.8v.8h-.8zM77.6 182.1h.8v.8h-.8zM86.2 172.3h.8v.8h-.8zM88.6 172.6h.8v.8h-.8zM87.6 171.5h.8v.8h-.8zM87.3 150.9h.8v.8h-.8zM85.3 178.1h.8v.8h-.8zM80.6 171.2h.8v.8h-.8zM86.5 169.6h.8v.8h-.8zM81.8 174.7h.8v.8h-.8zM80.8 175.9h.8v.8h-.8zM88.7 149.6h.8v.8h-.8zM94.7 168.1h.8v.8h-.8zM89.5 164.8h.8v.8h-.8zM84.3 180.3h.8v.8h-.8zM84.2 155.2h.8v.8h-.8zM77.4 165.2h.8v.8h-.8zM87.1 167.6h.8v.8h-.8zM82.1 176.7h.8v.8h-.8zM82.8 167.1h.8v.8h-.8zM88.5 164.6h.8v.8h-.8zM88.3 181.2h.8v.8h-.8zM79.0 181.4h.8v.8h-.8zM81.7 179.0h.8v.8h-.8zM83.2 182.0h.8v.8h-.8zM88.5 180.6h.8v.8h-.8zM90.4 164.3h.8v.8h-.8zM80.3 179.5h.8v.8h-.8zM92.2 180.0h.8v.8h-.8zM83.9 177.4h.8v.8h-.8zM84.9 178.3h.8v.8h-.8zM93.4 178.4h.8v.8h-.8zM87.6 180.2h.8v.8h-.8zM90.2 174.4h.8v.8h-.8zM88.6 176.1h.8v.8h-.8zM84.6 148.0h.8v.8h-.8zM88.2 178.4h.8v.8h-.8zM93.9 181.8h.8v.8h-.8zM83.9 164.3h.8v.8h-.8zM91.5 166.5h.8v.8h-.8zM85.4 171.2h.8v.8h-.8zM76.7 181.4h.8v.8h-.8zM82.0 175.3h.8v.8h-.8zM84.0 181.0h.8v.8h-.8zM89.0 170.8h.8v.8h-.8zM77.5 173.2h.8v.8h-.8zM81.0 174.0h.8v.8h-.8zM91.8 174.7h.8v.8h-.8zM80.6 179.2h.8v.8h-.8zM88.4 182.0h.8v.8h-.8zM82.6 179.0h.8v.8h-.8zM81.7 172.7h.8v.8h-.8zM74.5 172.2h.8v.8h-.8zM91.7 177.2h.8v.8h-.8zM67.4 171.6h.8v.8h-.8zM72.7 174.7h.8v.8h-.8zM70.8 172.6h.8v.8h-.8zM72.8 175.7h.8v.8h-.8zM76.3 176.8h.8v.8h-.8zM61.9 176.5h.8v.8h-.8zM64.4 172.3h.8v.8h-.8zM75.4 178.3h.8v.8h-.8zM72.7 175.4h.8v.8h-.8zM71.8 171.3h.8v.8h-.8zM59.1 174.4h.8v.8h-.8zM63.1 177.6h.8v.8h-.8zM67.9 172.8h.8v.8h-.8zM66.1 171.3h.8v.8h-.8zM73.6 176.2h.8v.8h-.8zM73.7 174.6h.8v.8h-.8zM64.5 173.5h.8v.8h-.8zM68.1 170.6h.8v.8h-.8zM68.4 171.1h.8v.8h-.8zM61.9 169.7h.8v.8h-.8zM60.0 173.7h.8v.8h-.8zM65.0 173.0h.8v.8h-.8zM63.4 178.0h.8v.8h-.8zM66.4 171.6h.8v.8h-.8zM75.8 178.8h.8v.8h-.8zM75.2 175.5h.8v.8h-.8zM62.3 179.1h.8v.8h-.8zM66.2 173.2h.8v.8h-.8zM60.6 178.0h.8v.8h-.8zM69.3 171.3h.8v.8h-.8zM66.0 171.7h.8v.8h-.8zM63.0 177.1h.8v.8h-.8zM71.4 169.9h.8v.8h-.8zM60.1 176.5h.8v.8h-.8zM75.4 179.3h.8v.8h-.8zM75.7 172.7h.8v.8h-.8zM71.8 172.8h.8v.8h-.8zM62.1 172.3h.8v.8h-.8zM75.0 177.0h.8v.8h-.8zM62.9 173.8h.8v.8h-.8zM64.3 173.5h.8v.8h-.8zM73.5 174.2h.8v.8h-.8zM69.3 171.8h.8v.8h-.8zM77.4 177.9h.8v.8h-.8zM70.0 171.3h.8v.8h-.8zM75.1 179.4h.8v.8h-.8zM69.3 172.6h.8v.8h-.8zM74.1 172.7h.8v.8h-.8zM67.9 172.4h.8v.8h-.8zM72.2 170.8h.8v.8h-.8zM73.8 178.1h.8v.8h-.8zM61.9 179.1h.8v.8h-.8zM59.6 178.2h.8v.8h-.8zM75.2 174.1h.8v.8h-.8zM73.2 175.3h.8v.8h-.8zM63.3 174.4h.8v.8h-.8zM72.4 173.5h.8v.8h-.8zM69.0 171.5h.8v.8h-.8zM70.2 172.1h.8v.8h-.8zM74.0 178.3h.8v.8h-.8zM60.2 172.0h.8v.8h-.8zM68.7 171.5h.8v.8h-.8zM73.9 175.1h.8v.8h-.8zM60.6 174.9h.8v.8h-.8zM74.4 177.9h.8v.8h-.8zM63.3 178.7h.8v.8h-.8zM75.5 178.0h.8v.8h-.8zM62.6 175.8h.8v.8h-.8zM69.5 171.3h.8v.8h-.8zM74.9 177.8h.8v.8h-.8zM62.9 176.1h.8v.8h-.8zM62.5 176.4h.8v.8h-.8zM70.7 170.3h.8v.8h-.8zM62.7 176.7h.8v.8h-.8zM61.3 176.0h.8v.8h-.8zM73.4 175.7h.8v.8h-.8zM74.4 178.0h.8v.8h-.8zM72.8 175.7h.8v.8h-.8zM73.1 176.6h.8v.8h-.8zM75.6 175.0h.8v.8h-.8zM74.2 174.1h.8v.8h-.8zM72.1 171.0h.8v.8h-.8zM62.2 169.8h.8v.8h-.8zM74.4 175.6h.8v.8h-.8zM71.9 173.3h.8v.8h-.8zM72.4 172.8h.8v.8h-.8zM63.0 173.1h.8v.8h-.8zM63.5 174.2h.8v.8h-.8zM73.3 176.5h.8v.8h-.8zM73.3 177.0h.8v.8h-.8zM73.2 171.4h.8v.8h-.8zM62.9 176.7h.8v.8h-.8zM62.7 171.6h.8v.8h-.8zM62.8 177.2h.8v.8h-.8zM67.3 169.6h.8v.8h-.8zM73.3 175.6h.8v.8h-.8zM65.2 173.0h.8v.8h-.8zM73.5 176.8h.8v.8h-.8zM72.8 174.5h.8v.8h-.8zM63.0 177.3h.8v.8h-.8zM63.7 174.4h.8v.8h-.8zM72.0 172.6h.8v.8h-.8zM67.1 171.5h.8v.8h-.8zM62.7 178.6h.8v.8h-.8zM73.7 174.8h.8v.8h-.8zM72.2 174.0h.8v.8h-.8zM73.3 172.4h.8v.8h-.8zM62.2 176.5h.8v.8h-.8zM63.9 173.6h.8v.8h-.8zM72.4 174.4h.8v.8h-.8zM63.4 173.2h.8v.8h-.8zM74.6 176.3h.8v.8h-.8zM65.4 171.8h.8v.8h-.8zM75.3 177.6h.8v.8h-.8zM69.7 172.3h.8v.8h-.8zM73.1 176.6h.8v.8h-.8zM61.9 177.0h.8v.8h-.8zM68.3 172.8h.8v.8h-.8zM66.8 171.9h.8v.8h-.8zM74.9 179.3h.8v.8h-.8zM73.2 176.1h.8v.8h-.8zM73.9 177.0h.8v.8h-.8zM71.1 172.9h.8v.8h-.8zM74.3 173.1h.8v.8h-.8zM64.1 173.0h.8v.8h-.8zM68.6 172.4h.8v.8h-.8zM67.5 170.8h.8v.8h-.8zM77.1 177.4h.8v.8h-.8zM67.7 170.4h.8v.8h-.8zM76.0 178.8h.8v.8h-.8zM72.6 170.5h.8v.8h-.8zM78.5 175.9h.8v.8h-.8zM60.3 179.2h.8v.8h-.8zM73.8 176.1h.8v.8h-.8zM74.6 175.4h.8v.8h-.8zM64.0 175.3h.8v.8h-.8zM65.9 171.0h.8v.8h-.8zM62.9 175.2h.8v.8h-.8zM60.2 177.3h.8v.8h-.8zM73.4 178.6h.8v.8h-.8zM66.1 171.3h.8v.8h-.8zM70.8 169.5h.8v.8h-.8zM72.2 170.8h.8v.8h-.8zM65.7 173.0h.8v.8h-.8zM68.7 172.4h.8v.8h-.8zM71.5 168.0h.8v.8h-.8zM66.1 171.4h.8v.8h-.8zM65.1 172.7h.8v.8h-.8zM73.7 177.9h.8v.8h-.8zM70.6 171.3h.8v.8h-.8zM63.9 174.5h.8v.8h-.8zM63.7 172.3h.8v.8h-.8zM73.1 178.6h.8v.8h-.8zM69.5 172.9h.8v.8h-.8zM63.0 176.0h.8v.8h-.8zM65.2 172.9h.8v.8h-.8zM60.6 172.7h.8v.8h-.8zM74.6 174.1h.8v.8h-.8zM69.0 172.1h.8v.8h-.8zM60.7 178.6h.8v.8h-.8zM72.3 173.1h.8v.8h-.8zM64.7 170.4h.8v.8h-.8zM63.7 172.8h.8v.8h-.8zM60.6 178.0h.8v.8h-.8zM63.3 174.7h.8v.8h-.8zM63.0 178.3h.8v.8h-.8zM72.1 174.6h.8v.8h-.8zM70.7 173.1h.8v.8h-.8zM62.3 173.9h.8v.8h-.8zM62.3 175.2h.8v.8h-.8zM66.8 169.7h.8v.8h-.8zM73.4 172.9h.8v.8h-.8zM71.1 170.4h.8v.8h-.8zM72.1 172.0h.8v.8h-.8zM62.3 175.1h.8v.8h-.8zM74.2 178.7h.8v.8h-.8zM71.9 171.6h.8v.8h-.8zM62.7 177.2h.8v.8h-.8zM74.2 175.9h.8v.8h-.8zM59.8 179.7h.8v.8h-.8zM73.8 174.6h.8v.8h-.8zM72.2 174.1h.8v.8h-.8zM72.7 173.2h.8v.8h-.8zM64.8 173.9h.8v.8h-.8zM73.9 173.9h.8v.8h-.8zM70.3 170.8h.8v.8h-.8zM63.7 168.6h.8v.8h-.8zM77.1 179.8h.8v.8h-.8zM63.3 178.5h.8v.8h-.8zM69.6 170.4h.8v.8h-.8zM63.7 172.3h.8v.8h-.8zM63.5 175.2h.8v.8h-.8zM74.4 173.5h.8v.8h-.8zM68.0 169.6h.8v.8h-.8zM63.4 174.9h.8v.8h-.8zM67.6 171.4h.8v.8h-.8zM71.1 173.8h.8v.8h-.8zM73.6 174.2h.8v.8h-.8zM73.3 173.5h.8v.8h-.8zM71.6 173.3h.8v.8h-.8zM70.9 171.0h.8v.8h-.8zM72.4 174.1h.8v.8h-.8zM64.6 172.3h.8v.8h-.8zM61.5 177.2h.8v.8h-.8zM70.5 170.6h.8v.8h-.8zM63.6 175.9h.8v.8h-.8zM73.1 174.2h.8v.8h-.8zM62.3 176.1h.8v.8h-.8zM68.6 172.0h.8v.8h-.8zM61.8 172.2h.8v.8h-.8zM62.4 172.2h.8v.8h-.8zM72.9 174.3h.8v.8h-.8zM62.4 173.3h.8v.8h-.8zM73.4 178.1h.8v.8h-.8zM65.4 173.7h.8v.8h-.8zM64.8 173.4h.8v.8h-.8zM75.2 177.0h.8v.8h-.8zM62.7 178.7h.8v.8h-.8zM62.1 179.1h.8v.8h-.8zM73.3 177.2h.8v.8h-.8zM62.1 176.8h.8v.8h-.8zM65.5 172.7h.8v.8h-.8zM63.7 174.3h.8v.8h-.8zM70.2 171.6h.8v.8h-.8zM68.8 172.4h.8v.8h-.8zM72.7 175.0h.8v.8h-.8zM75.0 177.5h.8v.8h-.8zM74.6 174.4h.8v.8h-.8zM64.9 173.1h.8v.8h-.8zM61.4 176.2h.8v.8h-.8zM61.6 177.1h.8v.8h-.8zM73.5 177.7h.8v.8h-.8zM71.9 173.9h.8v.8h-.8zM61.0 172.9h.8v.8h-.8zM65.2 172.9h.8v.8h-.8zM68.3 172.2h.8v.8h-.8zM71.1 172.4h.8v.8h-.8zM66.6 171.9h.8v.8h-.8zM71.9 174.2h.8v.8h-.8zM63.4 178.3h.8v.8h-.8zM62.6 176.1h.8v.8h-.8zM69.0 171.3h.8v.8h-.8zM60.2 177.1h.8v.8h-.8zM70.8 172.8h.8v.8h-.8zM63.3 174.9h.8v.8h-.8zM76.4 172.5h.8v.8h-.8zM65.0 173.0h.8v.8h-.8zM65.8 171.6h.8v.8h-.8zM73.5 178.4h.8v.8h-.8zM73.9 177.0h.8v.8h-.8zM75.6 178.1h.8v.8h-.8zM61.4 176.7h.8v.8h-.8zM74.6 173.1h.8v.8h-.8zM71.7 169.4h.8v.8h-.8zM60.4 177.0h.8v.8h-.8zM72.8 175.1h.8v.8h-.8zM72.6 172.6h.8v.8h-.8zM66.7 173.2h.8v.8h-.8zM73.7 177.8h.8v.8h-.8zM65.9 172.7h.8v.8h-.8zM74.8 174.9h.8v.8h-.8zM64.7 173.8h.8v.8h-.8zM68.1 172.8h.8v.8h-.8zM61.5 177.6h.8v.8h-.8zM66.3 170.8h.8v.8h-.8zM77.9 179.5h.8v.8h-.8zM61.7 177.5h.8v.8h-.8zM71.9 173.9h.8v.8h-.8zM60.9 179.3h.8v.8h-.8zM75.7 177.7h.8v.8h-.8zM73.8 175.4h.8v.8h-.8zM61.2 171.5h.8v.8h-.8zM64.0 174.0h.8v.8h-.8zM59.1 178.9h.8v.8h-.8zM76.1 171.6h.8v.8h-.8zM61.6 174.2h.8v.8h-.8zM73.2 171.0h.8v.8h-.8zM70.2 171.8h.8v.8h-.8zM74.7 178.2h.8v.8h-.8zM63.1 179.0h.8v.8h-.8zM73.2 179.0h.8v.8h-.8zM59.6 176.8h.8v.8h-.8zM72.9 173.8h.8v.8h-.8zM62.7 178.3h.8v.8h-.8zM68.1 170.7h.8v.8h-.8zM59.9 175.6h.8v.8h-.8zM63.3 176.6h.8v.8h-.8zM74.5 176.6h.8v.8h-.8zM63.6 174.5h.8v.8h-.8zM67.3 171.4h.8v.8h-.8zM75.3 176.8h.8v.8h-.8zM68.8 166.9h.8v.8h-.8zM63.6 175.1h.8v.8h-.8zM62.8 178.8h.8v.8h-.8zM61.9 176.6h.8v.8h-.8zM65.4 168.9h.8v.8h-.8zM68.0 171.9h.8v.8h-.8zM74.2 176.7h.8v.8h-.8zM75.0 173.2h.8v.8h-.8zM64.9 174.0h.8v.8h-.8zM69.6 171.7h.8v.8h-.8zM70.1 173.0h.8v.8h-.8zM64.9 172.7h.8v.8h-.8zM74.7 175.3h.8v.8h-.8zM58.1 176.2h.8v.8h-.8zM61.7 174.2h.8v.8h-.8zM73.8 173.5h.8v.8h-.8zM71.1 173.2h.8v.8h-.8zM70.0 170.7h.8v.8h-.8zM75.0 177.6h.8v.8h-.8zM70.7 170.9h.8v.8h-.8zM68.2 172.8h.8v.8h-.8zM60.8 176.3h.8v.8h-.8zM66.4 171.3h.8v.8h-.8zM69.6 172.0h.8v.8h-.8zM65.0 172.1h.8v.8h-.8zM65.4 172.2h.8v.8h-.8zM73.3 178.5h.8v.8h-.8zM72.0 174.3h.8v.8h-.8zM65.4 170.9h.8v.8h-.8zM65.6 172.7h.8v.8h-.8zM60.7 172.7h.8v.8h-.8zM73.5 177.9h.8v.8h-.8zM63.5 173.1h.8v.8h-.8zM63.1 178.0h.8v.8h-.8zM73.9 177.0h.8v.8h-.8zM63.4 174.0h.8v.8h-.8zM72.0 173.6h.8v.8h-.8zM65.4 171.3h.8v.8h-.8zM63.2 174.4h.8v.8h-.8zM76.9 175.7h.8v.8h-.8zM58.5 176.4h.8v.8h-.8zM74.3 172.1h.8v.8h-.8zM67.5 172.5h.8v.8h-.8zM72.5 174.2h.8v.8h-.8zM62.4 177.8h.8v.8h-.8zM67.5 170.2h.8v.8h-.8zM75.7 176.8h.8v.8h-.8zM62.3 177.1h.8v.8h-.8zM70.3 171.9h.8v.8h-.8zM73.9 177.7h.8v.8h-.8zM72.8 173.9h.8v.8h-.8zM65.0 172.9h.8v.8h-.8zM69.9 172.1h.8v.8h-.8zM74.6 175.0h.8v.8h-.8zM63.5 175.7h.8v.8h-.8zM74.9 178.2h.8v.8h-.8zM74.4 178.3h.8v.8h-.8zM61.0 176.8h.8v.8h-.8zM66.0 171.2h.8v.8h-.8zM64.4 172.0h.8v.8h-.8zM61.7 178.7h.8v.8h-.8zM61.9 175.4h.8v.8h-.8zM62.9 171.7h.8v.8h-.8zM68.8 170.0h.8v.8h-.8zM63.3 173.9h.8v.8h-.8zM73.3 174.9h.8v.8h-.8zM63.5 176.2h.8v.8h-.8zM75.4 177.3h.8v.8h-.8zM63.3 176.0h.8v.8h-.8zM63.1 174.9h.8v.8h-.8zM63.8 171.6h.8v.8h-.8zM65.8 171.3h.8v.8h-.8zM67.6 170.2h.8v.8h-.8zM75.3 177.2h.8v.8h-.8zM66.6 171.8h.8v.8h-.8zM73.7 178.7h.8v.8h-.8zM68.8 172.1h.8v.8h-.8zM63.2 173.3h.8v.8h-.8zM62.1 176.3h.8v.8h-.8zM72.5 173.2h.8v.8h-.8zM67.4 171.6h.8v.8h-.8zM63.5 175.8h.8v.8h-.8zM64.9 172.9h.8v.8h-.8zM61.4 179.6h.8v.8h-.8zM72.3 173.8h.8v.8h-.8zM64.2 174.5h.8v.8h-.8zM63.0 174.8h.8v.8h-.8zM63.9 172.0h.8v.8h-.8zM64.0 174.6h.8v.8h-.8z" fill="#000" fill-opacity="0.42"/>
<path d="M71.50 180.00H78.50V182.00H71.50Z" fill="#111"/>
<ellipse cx="80.40" cy="179.80" rx="3.60" ry="1.80" fill="#444" fill-opacity="0.55" stroke="#111" stroke-width="0.9"/>
<ellipse cx="84.50" cy="180.80" rx="1.3" ry="1.1" fill="#111"/>
<path d="M61.82 175.31A6.90 6.40 0 0 1 74.96 175.84" fill="none" stroke="#111" stroke-width="1.3" stroke-opacity="0.75"/>
<ellipse cx="68.30" cy="177.50" rx="5.8" ry="5.3" fill="#9e9e9e" stroke="#111" stroke-width="1.3"/>
<ellipse cx="68.30" cy="177.80" rx="4.30" ry="3.80" fill="#bdbdbd" stroke="#444" stroke-width="0.6"/>
<ellipse cx="68.30" cy="178.00" rx="2.80" ry="2.30" fill="#d6d6d6" stroke="#777" stroke-width="0.5"/>
<path d="M76.40 183.60V139.50H103.50V183.60" fill="none" stroke="#777" stroke-width="0.9"/>
<text x="102.10" y="138.30" font-size="4.5" text-anchor="end" fill="#333" textLength="7.4" lengthAdjust="spacingAndGlyphs" >P13</text>
<path d="M59.50 183.60V131.70H112.20V183.60Z" fill="none" stroke="#222" stroke-width="1.2"/>
<line x1="56.30" y1="134.35" x2="59.50" y2="134.35" stroke="#333" stroke-width="0.7"/>
<text x="53.20" y="135.95" font-size="4.4" text-anchor="end" fill="#333" textLength="6.1" lengthAdjust="spacingAndGlyphs" >250</text>
<line x1="56.30" y1="144.25" x2="59.50" y2="144.25" stroke="#333" stroke-width="0.7"/>
<text x="53.20" y="145.85" font-size="4.4" text-anchor="end" fill="#333" textLength="6.1" lengthAdjust="spacingAndGlyphs" >200</text>
<line x1="56.30" y1="154.15" x2="59.50" y2="154.15" stroke="#333" stroke-width="0.7"/>
<text x="53.20" y="155.75" font-size="4.4" text-anchor="end" fill="#333" textLength="6.1" lengthAdjust="spacingAndGlyphs" >150</text>
<line x1="56.30" y1="164.05" x2="59.50" y2="164.05" stroke="#333" stroke-width="0.7"/>
<text x="53.20" y="165.65" font-size="4.4" text-anchor="end" fill="#333" textLength="6.1" lengthAdjust="spacingAndGlyphs" >100</text>
<line x1="56.30" y1="173.95" x2="59.50" y2="173.95" stroke="#333" stroke-width="0.7"/>
<text x="53.20" y="175.55" font-size="4.4" text-anchor="end" fill="#333" textLength="4.1" lengthAdjust="spacingAndGlyphs" >50</text>
<line x1="57.80" y1="134.35" x2="59.50" y2="134.35" stroke="#333" stroke-width="0.6"/>
<line x1="57.80" y1="136.33" x2="59.50" y2="136.33" stroke="#333" stroke-width="0.6"/>
<line x1="57.80" y1="138.31" x2="59.50" y2="138.31" stroke="#333" stroke-width="0.6"/>
<line x1="57.80" y1="140.29" x2="59.50" y2="140.29" stroke="#333" stroke-width="0.6"/>
<line x1="57.80" y1="142.27" x2="59.50" y2="142.27" stroke="#333" stroke-width="0.6"/>
<line x1="57.80" y1="144.25" x2="59.50" y2="144.25" stroke="#333" stroke-width="0.6"/>
<line x1="57.80" y1="146.23" x2="59.50" y2="146.23" stroke="#333" stroke-width="0.6"/>
<line x1="57.80" y1="148.21" x2="59.50" y2="148.21" stroke="#333" stroke-width="0.6"/>
<line x1="57.80" y1="150.19" x2="59.50" y2="150.19" stroke="#333" stroke-width="0.6"/>
<line x1="57.80" y1="152.17" x2="59.50" y2="152.17" stroke="#333" stroke-width="0.6"/>
<line x1="57.80" y1="154.15" x2="59.50" y2="154.15" stroke="#333" stroke-width="0.6"/>
<line x1="57.80" y1="156.13" x2="59.50" y2="156.13" stroke="#333" stroke-width="0.6"/>
<line x1="57.80" y1="158.11" x2="59.50" y2="158.11" stroke="#333" stroke-width="0.6"/>
<line x1="57.80" y1="160.09" x2="59.50" y2="160.09" stroke="#333" stroke-width="0.6"/>
<line x1="57.80" y1="162.07" x2="59.50" y2="162.07" stroke="#333" stroke-width="0.6"/>
<line x1="57.80" y1="164.05" x2="59.50" y2="164.05" stroke="#333" stroke-width="0.6"/>
<line x1="57.80" y1="166.03" x2="59.50" y2="166.03" stroke="#333" stroke-width="0.6"/>
<line x1="57.80" y1="168.01" x2="59.50" y2="168.01" stroke="#333" stroke-width="0.6"/>
<line x1="57.80" y1="169.99" x2="59.50" y2="169.99" stroke="#333" stroke-width="0.6"/>
<line x1="57.80" y1="171.97" x2="59.50" y2="171.97" stroke="#333" stroke-width="0.6"/>
<line x1="57.80" y1="173.95" x2="59.50" y2="173.95" stroke="#333" stroke-width="0.6"/>
<line x1="57.80" y1="175.93" x2="59.50" y2="175.93" stroke="#333" stroke-width="0.6"/>
<line x1="57.80" y1="177.91" x2="59.50" y2="177.91" stroke="#333" stroke-width="0.6"/>
<line x1="57.80" y1="179.89" x2="59.50" y2="179.89" stroke="#333" stroke-width="0.6"/>
<line x1="57.80" y1="181.87" x2="59.50" y2="181.87" stroke="#333" stroke-width="0.6"/>
<line x1="60.00" y1="183.60" x2="60.00" y2="186.60" stroke="#333" stroke-width="0.6"/>
<line x1="63.50" y1="183.60" x2="63.50" y2="186.60" stroke="#333" stroke-width="0.6"/>
<line x1="66.10" y1="183.60" x2="66.10" y2="186.60" stroke="#333" stroke-width="0.6"/>
<line x1="67.66" y1="183.60" x2="67.66" y2="185.70" stroke="#333" stroke-width="0.65"/>
<line x1="68.62" y1="183.60" x2="68.62" y2="185.70" stroke="#333" stroke-width="0.65"/>
<line x1="69.43" y1="183.60" x2="69.43" y2="185.70" stroke="#333" stroke-width="0.65"/>
<line x1="70.13" y1="183.60" x2="70.13" y2="185.70" stroke="#333" stroke-width="0.65"/>
<line x1="70.75" y1="183.60" x2="70.75" y2="185.70" stroke="#333" stroke-width="0.65"/>
<line x1="71.30" y1="183.60" x2="71.30" y2="187.20" stroke="#222" stroke-width="0.7"/>
<line x1="74.94" y1="183.60" x2="74.94" y2="185.70" stroke="#333" stroke-width="0.65"/>
<line x1="77.07" y1="183.60" x2="77.07" y2="185.70" stroke="#333" stroke-width="0.65"/>
<line x1="78.58" y1="183.60" x2="78.58" y2="185.70" stroke="#333" stroke-width="0.65"/>
<line x1="79.76" y1="183.60" x2="79.76" y2="185.70" stroke="#333" stroke-width="0.65"/>
<line x1="80.72" y1="183.60" x2="80.72" y2="185.70" stroke="#333" stroke-width="0.65"/>
<line x1="81.53" y1="183.60" x2="81.53" y2="185.70" stroke="#333" stroke-width="0.65"/>
<line x1="82.23" y1="183.60" x2="82.23" y2="185.70" stroke="#333" stroke-width="0.65"/>
<line x1="82.85" y1="183.60" x2="82.85" y2="185.70" stroke="#333" stroke-width="0.65"/>
<line x1="83.40" y1="183.60" x2="83.40" y2="187.20" stroke="#222" stroke-width="0.7"/>
<line x1="87.04" y1="183.60" x2="87.04" y2="185.70" stroke="#333" stroke-width="0.65"/>
<line x1="89.17" y1="183.60" x2="89.17" y2="185.70" stroke="#333" stroke-width="0.65"/>
<line x1="90.68" y1="183.60" x2="90.68" y2="185.70" stroke="#333" stroke-width="0.65"/>
<line x1="91.86" y1="183.60" x2="91.86" y2="185.70" stroke="#333" stroke-width="0.65"/>
<line x1="92.82" y1="183.60" x2="92.82" y2="185.70" stroke="#333" stroke-width="0.65"/>
<line x1="93.63" y1="183.60" x2="93.63" y2="185.70" stroke="#333" stroke-width="0.65"/>
<line x1="94.33" y1="183.60" x2="94.33" y2="185.70" stroke="#333" stroke-width="0.65"/>
<line x1="94.95" y1="183.60" x2="94.95" y2="185.70" stroke="#333" stroke-width="0.65"/>
<line x1="95.50" y1="183.60" x2="95.50" y2="187.20" stroke="#222" stroke-width="0.7"/>
<line x1="99.14" y1="183.60" x2="99.14" y2="185.70" stroke="#333" stroke-width="0.65"/>
<line x1="101.27" y1="183.60" x2="101.27" y2="185.70" stroke="#333" stroke-width="0.65"/>
<line x1="102.78" y1="183.60" x2="102.78" y2="185.70" stroke="#333" stroke-width="0.65"/>
<line x1="103.96" y1="183.60" x2="103.96" y2="185.70" stroke="#333" stroke-width="0.65"/>
<line x1="104.92" y1="183.60" x2="104.92" y2="185.70" stroke="#333" stroke-width="0.65"/>
<line x1="105.73" y1="183.60" x2="105.73" y2="185.70" stroke="#333" stroke-width="0.65"/>
<line x1="106.43" y1="183.60" x2="106.43" y2="185.70" stroke="#333" stroke-width="0.65"/>
<line x1="107.05" y1="183.60" x2="107.05" y2="185.70" stroke="#333" stroke-width="0.65"/>
<line x1="107.60" y1="183.60" x2="107.60" y2="187.20" stroke="#222" stroke-width="0.7"/>
<line x1="111.24" y1="183.60" x2="111.24" y2="185.70" stroke="#333" stroke-width="0.65"/>
<text x="57.50" y="195.30" font-size="4.4" text-anchor="middle" fill="#333" textLength="8.8" lengthAdjust="spacingAndGlyphs" >−242</text>
<text x="65.20" y="193.00" font-size="4.6" text-anchor="middle" fill="#333" >0</text>
<text x="67.40" y="193.40" font-size="4.6" fill="#333"><tspan textLength="4.0" lengthAdjust="spacingAndGlyphs">10</tspan><tspan font-size="2.6" dy="-2.4" dx="0.3">2</tspan></text>
<text x="79.50" y="193.40" font-size="4.6" fill="#333"><tspan textLength="4.0" lengthAdjust="spacingAndGlyphs">10</tspan><tspan font-size="2.6" dy="-2.4" dx="0.3">3</tspan></text>
<text x="91.60" y="193.40" font-size="4.6" fill="#333"><tspan textLength="4.0" lengthAdjust="spacingAndGlyphs">10</tspan><tspan font-size="2.6" dy="-2.4" dx="0.3">4</tspan></text>
<text x="103.70" y="193.40" font-size="4.6" fill="#333"><tspan textLength="4.0" lengthAdjust="spacingAndGlyphs">10</tspan><tspan font-size="2.6" dy="-2.4" dx="0.3">5</tspan></text>
<text x="68.60" y="202.10" font-size="7.2" text-anchor="start" fill="#111" textLength="34.4" lengthAdjust="spacingAndGlyphs" >CD45 APC-A</text>
<text transform="translate(42.10,157.30) rotate(-90)" font-size="6.4" text-anchor="middle" fill="#111" textLength="16.3" lengthAdjust="spacingAndGlyphs" >SSC-A</text>
<text transform="translate(42.00,139.00) rotate(-90)" font-size="4.2" text-anchor="middle" fill="#333" textLength="15.7" lengthAdjust="spacingAndGlyphs" >(x 1,000)</text>
<text x="86.10" y="125.70" font-size="7.2" text-anchor="middle" fill="#111" textLength="16.4" lengthAdjust="spacingAndGlyphs" >12.1%</text>
<ellipse cx="154.90" cy="171.60" rx="5" ry="7" fill="url(#hz)" opacity="0.4"/>
<ellipse cx="154.20" cy="172.60" rx="4.5" ry="4" fill="url(#hz)" opacity="0.55"/>
<path d="M157.4 179.3h.8v.8h-.8zM156.3 172.3h.8v.8h-.8zM149.4 163.6h.8v.8h-.8zM154.0 182.7h.8v.8h-.8zM153.6 181.5h.8v.8h-.8zM154.7 167.6h.8v.8h-.8zM158.8 175.2h.8v.8h-.8zM152.7 147.1h.8v.8h-.8zM155.9 170.5h.8v.8h-.8zM154.4 147.0h.8v.8h-.8zM155.7 180.4h.8v.8h-.8zM155.8 173.6h.8v.8h-.8zM153.6 179.1h.8v.8h-.8zM157.0 182.1h.8v.8h-.8zM153.2 181.1h.8v.8h-.8zM157.9 173.8h.8v.8h-.8zM146.6 172.8h.8v.8h-.8zM154.4 182.3h.8v.8h-.8zM159.1 179.2h.8v.8h-.8zM156.1 181.2h.8v.8h-.8zM148.1 180.5h.8v.8h-.8zM157.8 181.5h.8v.8h-.8zM151.7 176.7h.8v.8h-.8zM151.5 181.3h.8v.8h-.8zM156.0 181.4h.8v.8h-.8zM153.8 180.6h.8v.8h-.8zM151.3 175.8h.8v.8h-.8zM154.6 171.4h.8v.8h-.8zM157.7 182.7h.8v.8h-.8zM152.7 167.1h.8v.8h-.8zM157.7 181.7h.8v.8h-.8zM155.2 174.8h.8v.8h-.8zM155.2 180.0h.8v.8h-.8zM153.3 166.0h.8v.8h-.8zM154.3 172.7h.8v.8h-.8zM153.5 168.9h.8v.8h-.8zM153.3 173.4h.8v.8h-.8zM155.9 179.6h.8v.8h-.8zM156.2 178.5h.8v.8h-.8zM156.3 181.9h.8v.8h-.8zM151.9 175.9h.8v.8h-.8zM157.6 178.4h.8v.8h-.8zM155.3 179.5h.8v.8h-.8zM153.6 158.7h.8v.8h-.8zM159.6 170.1h.8v.8h-.8zM149.5 176.2h.8v.8h-.8zM155.9 182.0h.8v.8h-.8zM150.8 180.4h.8v.8h-.8zM160.2 179.6h.8v.8h-.8zM158.7 178.4h.8v.8h-.8zM153.5 172.1h.8v.8h-.8zM154.5 168.8h.8v.8h-.8zM156.8 179.7h.8v.8h-.8zM148.6 181.7h.8v.8h-.8zM155.3 178.9h.8v.8h-.8zM150.0 179.3h.8v.8h-.8zM158.3 177.5h.8v.8h-.8zM159.9 168.1h.8v.8h-.8zM153.4 176.6h.8v.8h-.8zM157.3 170.8h.8v.8h-.8zM157.1 172.5h.8v.8h-.8zM152.9 178.4h.8v.8h-.8zM158.4 175.8h.8v.8h-.8zM150.8 179.0h.8v.8h-.8zM153.9 168.6h.8v.8h-.8zM161.5 179.8h.8v.8h-.8zM156.7 153.1h.8v.8h-.8zM156.0 182.7h.8v.8h-.8zM156.3 175.8h.8v.8h-.8zM151.2 176.1h.8v.8h-.8zM151.4 182.3h.8v.8h-.8zM157.1 160.4h.8v.8h-.8zM156.3 173.1h.8v.8h-.8zM156.0 173.9h.8v.8h-.8zM156.6 159.1h.8v.8h-.8zM150.3 182.6h.8v.8h-.8zM157.2 169.5h.8v.8h-.8zM155.1 181.6h.8v.8h-.8zM149.5 181.6h.8v.8h-.8zM153.8 176.4h.8v.8h-.8zM159.2 178.5h.8v.8h-.8zM151.8 177.2h.8v.8h-.8zM153.5 169.4h.8v.8h-.8zM162.9 172.8h.8v.8h-.8zM153.2 177.1h.8v.8h-.8zM159.8 168.7h.8v.8h-.8zM150.6 172.7h.8v.8h-.8zM159.9 177.7h.8v.8h-.8zM149.6 176.3h.8v.8h-.8zM152.7 154.1h.8v.8h-.8zM161.7 171.8h.8v.8h-.8zM155.2 177.1h.8v.8h-.8zM156.0 179.4h.8v.8h-.8zM153.4 171.8h.8v.8h-.8zM152.1 173.7h.8v.8h-.8zM156.5 182.4h.8v.8h-.8zM155.4 175.5h.8v.8h-.8zM153.8 177.8h.8v.8h-.8zM157.1 182.4h.8v.8h-.8zM160.0 175.7h.8v.8h-.8zM151.6 177.8h.8v.8h-.8zM153.3 179.3h.8v.8h-.8zM159.0 149.7h.8v.8h-.8zM159.9 167.4h.8v.8h-.8zM153.5 182.4h.8v.8h-.8zM157.0 181.9h.8v.8h-.8zM157.0 178.2h.8v.8h-.8zM160.9 154.4h.8v.8h-.8zM154.4 180.8h.8v.8h-.8zM155.0 180.2h.8v.8h-.8zM155.6 182.6h.8v.8h-.8zM152.2 173.0h.8v.8h-.8zM154.4 175.7h.8v.8h-.8zM152.7 171.2h.8v.8h-.8zM153.3 172.6h.8v.8h-.8zM154.1 177.5h.8v.8h-.8zM151.4 180.1h.8v.8h-.8zM158.4 174.5h.8v.8h-.8zM155.8 181.2h.8v.8h-.8zM159.1 165.8h.8v.8h-.8zM149.8 167.9h.8v.8h-.8zM152.9 180.3h.8v.8h-.8zM155.0 171.1h.8v.8h-.8zM154.8 179.2h.8v.8h-.8zM152.4 182.0h.8v.8h-.8zM158.4 166.4h.8v.8h-.8zM151.2 179.5h.8v.8h-.8zM160.9 179.8h.8v.8h-.8zM158.6 175.1h.8v.8h-.8zM162.3 167.4h.8v.8h-.8zM158.6 171.2h.8v.8h-.8zM156.3 178.9h.8v.8h-.8zM147.1 180.5h.8v.8h-.8zM157.3 175.7h.8v.8h-.8zM154.1 179.1h.8v.8h-.8zM148.3 156.7h.8v.8h-.8zM151.4 164.2h.8v.8h-.8zM160.8 178.3h.8v.8h-.8zM157.2 179.0h.8v.8h-.8zM154.1 175.3h.8v.8h-.8zM155.3 173.6h.8v.8h-.8zM159.9 182.2h.8v.8h-.8zM156.0 172.4h.8v.8h-.8zM154.3 179.2h.8v.8h-.8zM155.9 168.6h.8v.8h-.8zM149.4 151.6h.8v.8h-.8zM156.4 159.6h.8v.8h-.8zM152.4 176.5h.8v.8h-.8zM154.4 147.3h.8v.8h-.8zM154.3 166.4h.8v.8h-.8zM150.2 178.4h.8v.8h-.8zM149.1 181.1h.8v.8h-.8zM152.6 165.5h.8v.8h-.8zM158.8 175.4h.8v.8h-.8zM155.5 181.7h.8v.8h-.8zM157.9 181.3h.8v.8h-.8zM153.3 178.3h.8v.8h-.8zM153.1 182.2h.8v.8h-.8zM154.5 180.4h.8v.8h-.8zM153.2 168.3h.8v.8h-.8zM159.2 181.4h.8v.8h-.8zM155.0 179.0h.8v.8h-.8zM152.8 175.1h.8v.8h-.8zM155.9 147.6h.8v.8h-.8zM155.2 172.4h.8v.8h-.8zM156.1 182.1h.8v.8h-.8zM158.3 179.6h.8v.8h-.8zM153.4 181.5h.8v.8h-.8zM158.2 178.5h.8v.8h-.8zM154.0 168.8h.8v.8h-.8zM152.2 181.3h.8v.8h-.8zM158.5 177.7h.8v.8h-.8zM157.6 160.6h.8v.8h-.8zM159.1 173.1h.8v.8h-.8zM158.2 178.9h.8v.8h-.8zM157.9 170.3h.8v.8h-.8zM158.1 177.3h.8v.8h-.8zM150.1 174.6h.8v.8h-.8zM155.7 178.1h.8v.8h-.8zM156.3 175.9h.8v.8h-.8zM158.2 162.7h.8v.8h-.8zM159.0 179.5h.8v.8h-.8zM154.8 180.8h.8v.8h-.8zM151.3 180.5h.8v.8h-.8zM151.1 172.5h.8v.8h-.8zM158.1 158.0h.8v.8h-.8zM154.9 177.9h.8v.8h-.8zM151.2 181.1h.8v.8h-.8zM149.7 179.3h.8v.8h-.8zM156.1 179.8h.8v.8h-.8zM154.8 177.3h.8v.8h-.8zM154.8 159.2h.8v.8h-.8zM150.4 173.1h.8v.8h-.8zM156.1 182.8h.8v.8h-.8zM154.9 178.0h.8v.8h-.8zM158.8 174.1h.8v.8h-.8zM155.6 181.1h.8v.8h-.8zM156.9 154.1h.8v.8h-.8zM152.3 179.1h.8v.8h-.8zM152.0 180.4h.8v.8h-.8zM152.2 169.5h.8v.8h-.8zM157.3 179.6h.8v.8h-.8zM155.0 163.9h.8v.8h-.8zM154.0 179.9h.8v.8h-.8zM154.9 174.6h.8v.8h-.8zM155.5 169.5h.8v.8h-.8zM153.5 178.6h.8v.8h-.8zM151.6 177.9h.8v.8h-.8zM161.1 171.1h.8v.8h-.8zM151.4 172.3h.8v.8h-.8zM155.4 167.1h.8v.8h-.8zM155.6 173.0h.8v.8h-.8zM153.0 180.3h.8v.8h-.8zM152.9 160.3h.8v.8h-.8zM154.3 179.4h.8v.8h-.8zM154.8 179.2h.8v.8h-.8zM163.0 162.1h.8v.8h-.8zM158.5 167.9h.8v.8h-.8zM158.2 182.0h.8v.8h-.8zM155.0 171.5h.8v.8h-.8zM157.0 169.0h.8v.8h-.8zM149.6 181.9h.8v.8h-.8zM156.3 166.5h.8v.8h-.8zM155.0 167.2h.8v.8h-.8zM152.6 165.6h.8v.8h-.8zM154.7 181.9h.8v.8h-.8zM155.1 178.3h.8v.8h-.8zM155.7 175.3h.8v.8h-.8zM156.0 153.3h.8v.8h-.8zM147.7 182.3h.8v.8h-.8zM154.9 179.6h.8v.8h-.8zM152.6 179.3h.8v.8h-.8zM156.0 178.0h.8v.8h-.8zM154.8 181.9h.8v.8h-.8zM158.6 172.2h.8v.8h-.8zM154.8 176.5h.8v.8h-.8zM155.2 178.3h.8v.8h-.8zM152.0 170.8h.8v.8h-.8zM152.9 179.8h.8v.8h-.8zM148.5 166.1h.8v.8h-.8zM154.6 178.4h.8v.8h-.8zM150.7 175.6h.8v.8h-.8zM156.2 179.7h.8v.8h-.8zM155.6 181.9h.8v.8h-.8zM159.7 171.3h.8v.8h-.8zM156.4 174.5h.8v.8h-.8zM156.3 167.4h.8v.8h-.8zM159.8 174.4h.8v.8h-.8zM155.5 178.6h.8v.8h-.8zM159.0 180.3h.8v.8h-.8zM158.7 174.1h.8v.8h-.8zM160.0 158.8h.8v.8h-.8zM156.1 176.7h.8v.8h-.8zM157.1 182.6h.8v.8h-.8zM153.6 177.2h.8v.8h-.8zM158.7 161.5h.8v.8h-.8zM150.9 175.2h.8v.8h-.8zM152.8 169.3h.8v.8h-.8zM154.8 147.7h.8v.8h-.8zM155.0 168.9h.8v.8h-.8zM156.0 180.8h.8v.8h-.8zM156.0 173.4h.8v.8h-.8zM155.3 177.0h.8v.8h-.8zM154.7 181.0h.8v.8h-.8zM154.8 179.6h.8v.8h-.8zM157.3 178.3h.8v.8h-.8zM157.1 166.8h.8v.8h-.8zM151.2 180.7h.8v.8h-.8zM157.8 181.0h.8v.8h-.8zM152.8 167.7h.8v.8h-.8zM156.2 176.8h.8v.8h-.8zM153.9 175.7h.8v.8h-.8zM157.0 174.4h.8v.8h-.8zM156.8 173.0h.8v.8h-.8zM151.8 178.8h.8v.8h-.8zM151.7 182.5h.8v.8h-.8zM161.0 165.1h.8v.8h-.8zM155.5 161.9h.8v.8h-.8zM159.8 181.4h.8v.8h-.8zM157.4 179.3h.8v.8h-.8zM156.8 167.7h.8v.8h-.8zM160.9 167.0h.8v.8h-.8zM149.4 180.4h.8v.8h-.8zM160.0 175.4h.8v.8h-.8zM153.8 178.8h.8v.8h-.8zM152.8 182.1h.8v.8h-.8zM155.5 181.8h.8v.8h-.8zM152.9 180.2h.8v.8h-.8zM152.0 176.4h.8v.8h-.8zM151.4 165.8h.8v.8h-.8zM154.9 176.2h.8v.8h-.8zM152.7 181.4h.8v.8h-.8zM155.0 182.4h.8v.8h-.8zM156.7 179.2h.8v.8h-.8zM158.4 182.3h.8v.8h-.8zM151.8 180.9h.8v.8h-.8zM152.8 182.2h.8v.8h-.8zM150.9 182.3h.8v.8h-.8zM153.2 169.8h.8v.8h-.8zM155.2 176.3h.8v.8h-.8zM159.2 179.4h.8v.8h-.8zM157.9 178.1h.8v.8h-.8zM153.8 176.1h.8v.8h-.8zM160.0 169.9h.8v.8h-.8zM146.9 176.1h.8v.8h-.8zM154.0 154.3h.8v.8h-.8zM150.4 151.4h.8v.8h-.8zM155.0 175.5h.8v.8h-.8zM152.7 177.9h.8v.8h-.8zM155.6 180.9h.8v.8h-.8zM160.4 172.0h.8v.8h-.8zM151.5 172.1h.8v.8h-.8zM155.1 171.5h.8v.8h-.8zM166.7 168.6h.8v.8h-.8zM154.1 180.3h.8v.8h-.8zM153.1 157.7h.8v.8h-.8zM151.6 177.8h.8v.8h-.8zM154.4 177.4h.8v.8h-.8zM155.5 176.3h.8v.8h-.8zM154.4 177.1h.8v.8h-.8zM156.3 182.4h.8v.8h-.8zM156.5 179.2h.8v.8h-.8zM158.0 176.9h.8v.8h-.8zM151.8 181.8h.8v.8h-.8zM147.0 180.1h.8v.8h-.8zM151.8 179.2h.8v.8h-.8zM152.7 177.0h.8v.8h-.8zM159.7 168.8h.8v.8h-.8zM156.6 181.0h.8v.8h-.8zM155.0 179.0h.8v.8h-.8zM152.4 152.7h.8v.8h-.8zM156.8 177.9h.8v.8h-.8zM147.6 173.9h.8v.8h-.8zM151.1 175.0h.8v.8h-.8zM156.3 182.8h.8v.8h-.8zM152.4 154.6h.8v.8h-.8zM150.8 182.5h.8v.8h-.8zM154.0 170.8h.8v.8h-.8zM151.7 180.1h.8v.8h-.8zM158.2 160.6h.8v.8h-.8zM153.2 162.9h.8v.8h-.8zM156.8 180.8h.8v.8h-.8zM154.4 147.5h.8v.8h-.8zM158.6 182.0h.8v.8h-.8zM156.3 182.4h.8v.8h-.8zM160.4 178.3h.8v.8h-.8zM155.9 168.9h.8v.8h-.8zM150.0 182.0h.8v.8h-.8zM157.2 168.0h.8v.8h-.8zM153.0 177.4h.8v.8h-.8zM157.7 180.4h.8v.8h-.8zM152.6 181.6h.8v.8h-.8zM153.9 181.5h.8v.8h-.8zM154.9 164.4h.8v.8h-.8zM149.2 181.6h.8v.8h-.8zM152.0 177.2h.8v.8h-.8zM153.4 180.3h.8v.8h-.8zM155.2 160.2h.8v.8h-.8zM154.3 174.6h.8v.8h-.8zM151.1 165.3h.8v.8h-.8zM159.0 182.6h.8v.8h-.8zM153.7 164.6h.8v.8h-.8zM156.1 181.8h.8v.8h-.8zM156.9 176.6h.8v.8h-.8zM151.8 177.4h.8v.8h-.8zM153.1 181.7h.8v.8h-.8zM154.1 179.8h.8v.8h-.8zM151.0 167.0h.8v.8h-.8zM152.2 182.5h.8v.8h-.8zM152.2 180.4h.8v.8h-.8zM157.2 170.8h.8v.8h-.8zM156.3 176.8h.8v.8h-.8zM153.9 152.3h.8v.8h-.8zM157.6 182.1h.8v.8h-.8zM152.6 177.6h.8v.8h-.8zM149.3 181.2h.8v.8h-.8zM154.3 180.1h.8v.8h-.8zM155.4 174.6h.8v.8h-.8zM154.9 182.2h.8v.8h-.8zM154.9 159.7h.8v.8h-.8zM151.5 180.8h.8v.8h-.8zM156.6 182.7h.8v.8h-.8zM153.3 182.3h.8v.8h-.8zM157.7 150.9h.8v.8h-.8zM156.4 179.2h.8v.8h-.8zM154.7 176.6h.8v.8h-.8zM154.1 176.1h.8v.8h-.8zM158.3 177.8h.8v.8h-.8zM157.3 179.5h.8v.8h-.8zM157.3 181.9h.8v.8h-.8zM150.6 182.1h.8v.8h-.8zM157.3 174.0h.8v.8h-.8zM155.7 152.0h.8v.8h-.8zM161.2 181.9h.8v.8h-.8zM153.7 169.0h.8v.8h-.8zM151.3 174.9h.8v.8h-.8zM156.5 181.9h.8v.8h-.8zM156.4 174.6h.8v.8h-.8zM157.4 180.3h.8v.8h-.8zM154.5 165.0h.8v.8h-.8zM159.2 162.7h.8v.8h-.8zM158.6 175.7h.8v.8h-.8zM154.6 174.7h.8v.8h-.8zM154.7 174.5h.8v.8h-.8zM155.4 182.0h.8v.8h-.8zM151.1 180.8h.8v.8h-.8zM154.2 182.1h.8v.8h-.8zM153.8 180.5h.8v.8h-.8zM156.1 179.1h.8v.8h-.8zM151.0 153.2h.8v.8h-.8zM152.8 175.6h.8v.8h-.8zM153.7 165.7h.8v.8h-.8zM152.6 175.3h.8v.8h-.8zM153.6 175.2h.8v.8h-.8zM153.4 179.6h.8v.8h-.8zM155.7 176.7h.8v.8h-.8zM153.2 167.6h.8v.8h-.8zM158.9 177.4h.8v.8h-.8zM153.1 180.4h.8v.8h-.8zM153.0 176.7h.8v.8h-.8zM152.7 170.1h.8v.8h-.8zM154.4 176.9h.8v.8h-.8zM153.4 166.8h.8v.8h-.8zM156.8 162.2h.8v.8h-.8zM157.1 182.4h.8v.8h-.8zM154.0 174.1h.8v.8h-.8zM161.1 172.9h.8v.8h-.8zM155.9 179.4h.8v.8h-.8zM150.4 181.5h.8v.8h-.8zM156.6 179.0h.8v.8h-.8zM156.0 175.2h.8v.8h-.8zM150.2 182.1h.8v.8h-.8zM157.3 173.9h.8v.8h-.8zM148.4 175.8h.8v.8h-.8zM151.7 160.5h.8v.8h-.8zM151.1 180.1h.8v.8h-.8zM155.7 177.5h.8v.8h-.8zM153.5 179.2h.8v.8h-.8zM156.3 176.7h.8v.8h-.8zM159.1 177.3h.8v.8h-.8zM159.8 182.3h.8v.8h-.8zM153.6 173.6h.8v.8h-.8zM150.8 176.9h.8v.8h-.8zM158.3 166.9h.8v.8h-.8zM155.7 174.8h.8v.8h-.8zM156.5 161.9h.8v.8h-.8zM155.4 176.0h.8v.8h-.8zM157.5 159.8h.8v.8h-.8zM159.2 165.1h.8v.8h-.8zM151.4 182.3h.8v.8h-.8zM156.9 181.2h.8v.8h-.8zM164.9 182.6h.8v.8h-.8zM159.6 177.1h.8v.8h-.8zM162.9 180.7h.8v.8h-.8zM169.4 176.8h.8v.8h-.8zM161.6 182.8h.8v.8h-.8zM160.9 181.9h.8v.8h-.8zM162.1 182.6h.8v.8h-.8zM162.1 179.9h.8v.8h-.8zM163.7 180.0h.8v.8h-.8zM159.1 177.0h.8v.8h-.8zM153.2 181.1h.8v.8h-.8zM162.6 170.7h.8v.8h-.8zM160.7 180.8h.8v.8h-.8zM167.7 181.9h.8v.8h-.8zM160.4 179.8h.8v.8h-.8zM162.2 182.1h.8v.8h-.8zM158.6 181.5h.8v.8h-.8zM162.7 182.6h.8v.8h-.8zM160.2 181.1h.8v.8h-.8zM162.5 182.1h.8v.8h-.8zM162.0 172.4h.8v.8h-.8zM162.6 182.0h.8v.8h-.8zM154.4 178.6h.8v.8h-.8zM161.6 181.1h.8v.8h-.8zM157.4 179.8h.8v.8h-.8zM160.6 179.5h.8v.8h-.8zM163.0 182.7h.8v.8h-.8zM160.2 180.6h.8v.8h-.8zM171.6 181.0h.8v.8h-.8zM162.1 181.6h.8v.8h-.8zM158.3 180.7h.8v.8h-.8zM164.0 166.7h.8v.8h-.8zM168.9 182.6h.8v.8h-.8zM159.8 177.3h.8v.8h-.8zM161.7 179.9h.8v.8h-.8zM171.4 180.3h.8v.8h-.8zM163.2 177.7h.8v.8h-.8zM159.9 180.8h.8v.8h-.8zM163.8 182.2h.8v.8h-.8zM154.8 181.5h.8v.8h-.8zM162.2 176.8h.8v.8h-.8zM164.8 179.6h.8v.8h-.8zM157.8 176.7h.8v.8h-.8zM159.1 180.8h.8v.8h-.8zM168.7 181.0h.8v.8h-.8zM163.2 179.8h.8v.8h-.8zM166.6 181.8h.8v.8h-.8zM172.4 172.6h.8v.8h-.8zM159.7 182.1h.8v.8h-.8zM161.3 181.8h.8v.8h-.8zM152.1 178.8h.8v.8h-.8zM163.3 181.7h.8v.8h-.8zM173.7 177.5h.8v.8h-.8zM164.4 174.0h.8v.8h-.8zM162.1 180.0h.8v.8h-.8zM159.8 180.3h.8v.8h-.8zM166.4 180.9h.8v.8h-.8zM169.8 181.9h.8v.8h-.8zM164.6 179.9h.8v.8h-.8zM146.4 177.9h.8v.8h-.8zM147.8 177.8h.8v.8h-.8zM153.6 171.9h.8v.8h-.8zM159.9 178.8h.8v.8h-.8zM146.6 178.2h.8v.8h-.8zM155.3 173.0h.8v.8h-.8zM159.2 174.4h.8v.8h-.8zM160.6 178.8h.8v.8h-.8zM162.3 178.5h.8v.8h-.8zM160.5 172.0h.8v.8h-.8zM159.7 175.3h.8v.8h-.8zM156.8 173.0h.8v.8h-.8zM150.8 172.9h.8v.8h-.8zM149.8 172.2h.8v.8h-.8zM148.8 172.5h.8v.8h-.8zM159.5 179.1h.8v.8h-.8zM151.1 173.7h.8v.8h-.8zM147.5 177.7h.8v.8h-.8zM152.0 172.9h.8v.8h-.8zM161.7 175.9h.8v.8h-.8zM153.0 172.6h.8v.8h-.8zM153.2 171.5h.8v.8h-.8zM154.7 172.6h.8v.8h-.8zM153.7 172.3h.8v.8h-.8zM154.3 172.1h.8v.8h-.8zM159.2 175.3h.8v.8h-.8zM159.3 177.9h.8v.8h-.8zM149.0 176.6h.8v.8h-.8zM157.0 173.4h.8v.8h-.8zM149.4 176.5h.8v.8h-.8zM160.0 173.8h.8v.8h-.8zM152.6 171.4h.8v.8h-.8zM154.7 172.0h.8v.8h-.8zM149.7 173.6h.8v.8h-.8zM149.1 176.7h.8v.8h-.8zM155.4 171.2h.8v.8h-.8zM146.8 178.8h.8v.8h-.8zM159.1 171.6h.8v.8h-.8zM148.4 171.7h.8v.8h-.8zM152.7 172.2h.8v.8h-.8zM148.9 173.0h.8v.8h-.8zM158.8 171.8h.8v.8h-.8zM149.6 173.2h.8v.8h-.8zM152.9 170.1h.8v.8h-.8zM157.5 172.8h.8v.8h-.8zM152.7 172.4h.8v.8h-.8zM149.0 176.4h.8v.8h-.8zM148.5 175.5h.8v.8h-.8zM149.9 171.6h.8v.8h-.8zM159.2 177.4h.8v.8h-.8zM148.2 175.4h.8v.8h-.8zM148.4 176.3h.8v.8h-.8zM148.3 173.5h.8v.8h-.8zM159.6 175.4h.8v.8h-.8zM156.9 171.6h.8v.8h-.8zM157.4 173.1h.8v.8h-.8zM151.7 173.3h.8v.8h-.8zM161.1 178.3h.8v.8h-.8zM147.2 177.5h.8v.8h-.8zM159.5 174.6h.8v.8h-.8zM151.2 172.2h.8v.8h-.8zM154.4 173.0h.8v.8h-.8zM148.0 176.6h.8v.8h-.8zM160.7 170.3h.8v.8h-.8zM159.3 178.4h.8v.8h-.8zM162.7 176.3h.8v.8h-.8zM148.2 178.9h.8v.8h-.8zM145.3 176.1h.8v.8h-.8zM156.5 172.9h.8v.8h-.8zM157.2 171.7h.8v.8h-.8zM148.7 176.3h.8v.8h-.8zM155.1 172.9h.8v.8h-.8zM160.0 176.6h.8v.8h-.8zM155.9 172.0h.8v.8h-.8zM155.9 172.1h.8v.8h-.8zM150.1 174.1h.8v.8h-.8zM157.4 172.7h.8v.8h-.8zM155.3 172.7h.8v.8h-.8zM153.9 172.3h.8v.8h-.8zM154.7 172.5h.8v.8h-.8zM148.5 175.4h.8v.8h-.8zM150.6 173.8h.8v.8h-.8zM157.2 172.4h.8v.8h-.8zM146.6 179.0h.8v.8h-.8zM154.1 171.5h.8v.8h-.8zM144.5 176.6h.8v.8h-.8zM151.9 172.6h.8v.8h-.8zM155.7 171.1h.8v.8h-.8zM148.2 178.5h.8v.8h-.8zM160.7 176.8h.8v.8h-.8zM150.0 173.8h.8v.8h-.8zM146.3 174.5h.8v.8h-.8zM151.3 172.1h.8v.8h-.8zM156.5 172.2h.8v.8h-.8zM149.0 178.5h.8v.8h-.8zM159.0 173.8h.8v.8h-.8zM147.3 179.3h.8v.8h-.8zM148.0 179.0h.8v.8h-.8zM157.3 171.1h.8v.8h-.8zM160.2 179.2h.8v.8h-.8zM147.5 179.3h.8v.8h-.8zM163.1 178.9h.8v.8h-.8zM149.1 178.4h.8v.8h-.8zM160.2 175.8h.8v.8h-.8zM152.4 173.1h.8v.8h-.8zM148.1 177.8h.8v.8h-.8zM158.0 173.8h.8v.8h-.8zM148.6 175.7h.8v.8h-.8zM159.6 172.6h.8v.8h-.8zM159.9 178.3h.8v.8h-.8zM151.2 170.6h.8v.8h-.8zM160.6 177.1h.8v.8h-.8zM157.1 170.5h.8v.8h-.8zM146.8 172.0h.8v.8h-.8zM162.0 178.5h.8v.8h-.8zM150.6 172.8h.8v.8h-.8zM161.6 175.5h.8v.8h-.8zM160.4 174.9h.8v.8h-.8zM159.1 175.3h.8v.8h-.8zM159.1 170.5h.8v.8h-.8zM148.4 178.7h.8v.8h-.8zM148.6 179.0h.8v.8h-.8zM159.0 176.3h.8v.8h-.8zM148.3 177.5h.8v.8h-.8zM148.5 176.5h.8v.8h-.8zM158.9 174.4h.8v.8h-.8zM156.6 171.6h.8v.8h-.8zM155.6 170.9h.8v.8h-.8zM155.0 172.3h.8v.8h-.8zM153.1 170.5h.8v.8h-.8zM147.7 176.9h.8v.8h-.8zM159.5 171.9h.8v.8h-.8zM155.2 171.6h.8v.8h-.8zM151.3 173.1h.8v.8h-.8zM155.0 172.5h.8v.8h-.8zM159.9 176.9h.8v.8h-.8zM158.9 174.3h.8v.8h-.8zM162.4 174.2h.8v.8h-.8zM149.2 175.7h.8v.8h-.8zM149.4 171.2h.8v.8h-.8zM153.2 172.8h.8v.8h-.8zM150.0 173.2h.8v.8h-.8zM152.3 171.8h.8v.8h-.8zM147.2 173.7h.8v.8h-.8zM151.6 173.3h.8v.8h-.8zM157.2 173.6h.8v.8h-.8zM159.0 178.4h.8v.8h-.8zM147.1 171.0h.8v.8h-.8zM148.5 174.9h.8v.8h-.8zM149.0 178.0h.8v.8h-.8zM160.0 176.2h.8v.8h-.8zM154.6 171.5h.8v.8h-.8zM154.4 172.6h.8v.8h-.8zM148.2 175.5h.8v.8h-.8zM152.3 169.1h.8v.8h-.8zM149.4 174.7h.8v.8h-.8zM154.6 172.5h.8v.8h-.8zM157.9 171.9h.8v.8h-.8zM150.1 173.1h.8v.8h-.8zM160.8 172.8h.8v.8h-.8zM157.3 170.7h.8v.8h-.8zM148.5 175.5h.8v.8h-.8zM161.4 174.7h.8v.8h-.8zM147.9 178.1h.8v.8h-.8zM153.5 172.2h.8v.8h-.8zM162.1 176.3h.8v.8h-.8zM159.3 174.5h.8v.8h-.8zM149.5 173.6h.8v.8h-.8zM153.6 171.7h.8v.8h-.8zM154.8 172.4h.8v.8h-.8zM159.9 176.0h.8v.8h-.8zM148.1 175.8h.8v.8h-.8zM162.5 179.7h.8v.8h-.8zM151.6 173.1h.8v.8h-.8zM159.1 178.3h.8v.8h-.8zM146.7 174.2h.8v.8h-.8zM148.8 176.1h.8v.8h-.8zM159.0 174.3h.8v.8h-.8zM151.7 173.6h.8v.8h-.8zM147.5 177.6h.8v.8h-.8zM158.3 174.5h.8v.8h-.8zM154.0 169.2h.8v.8h-.8zM148.8 175.8h.8v.8h-.8zM161.2 177.6h.8v.8h-.8zM154.9 171.4h.8v.8h-.8zM149.0 175.9h.8v.8h-.8zM148.6 175.2h.8v.8h-.8zM156.9 172.0h.8v.8h-.8zM156.4 170.2h.8v.8h-.8zM162.0 175.0h.8v.8h-.8zM154.4 171.0h.8v.8h-.8zM156.6 173.4h.8v.8h-.8zM151.4 170.4h.8v.8h-.8zM158.5 173.9h.8v.8h-.8zM150.5 173.8h.8v.8h-.8zM160.5 173.3h.8v.8h-.8zM155.1 172.8h.8v.8h-.8zM158.5 173.7h.8v.8h-.8zM153.6 171.0h.8v.8h-.8zM159.9 173.6h.8v.8h-.8zM149.5 174.1h.8v.8h-.8zM155.8 173.2h.8v.8h-.8zM148.9 174.4h.8v.8h-.8zM161.8 177.0h.8v.8h-.8zM160.5 172.7h.8v.8h-.8zM150.3 174.5h.8v.8h-.8zM159.1 177.9h.8v.8h-.8zM157.4 171.9h.8v.8h-.8zM154.1 171.4h.8v.8h-.8zM157.8 173.1h.8v.8h-.8zM158.3 169.7h.8v.8h-.8zM147.5 177.9h.8v.8h-.8zM148.3 171.4h.8v.8h-.8zM159.6 172.5h.8v.8h-.8zM146.0 178.0h.8v.8h-.8zM158.9 176.2h.8v.8h-.8zM159.8 171.3h.8v.8h-.8zM153.2 170.1h.8v.8h-.8zM160.9 179.5h.8v.8h-.8zM162.0 178.8h.8v.8h-.8zM158.0 172.8h.8v.8h-.8zM151.5 171.1h.8v.8h-.8zM149.9 175.4h.8v.8h-.8zM148.6 173.4h.8v.8h-.8zM159.8 171.9h.8v.8h-.8zM159.1 172.1h.8v.8h-.8zM157.1 173.7h.8v.8h-.8zM144.6 180.3h.8v.8h-.8zM148.2 174.7h.8v.8h-.8zM153.4 171.7h.8v.8h-.8zM159.4 175.8h.8v.8h-.8zM148.3 178.7h.8v.8h-.8zM162.5 176.1h.8v.8h-.8zM148.9 173.7h.8v.8h-.8zM153.1 172.3h.8v.8h-.8zM162.0 178.6h.8v.8h-.8zM148.5 177.0h.8v.8h-.8zM149.5 179.0h.8v.8h-.8zM159.7 175.7h.8v.8h-.8zM147.8 173.2h.8v.8h-.8zM149.0 175.5h.8v.8h-.8zM158.4 173.7h.8v.8h-.8zM147.0 177.8h.8v.8h-.8zM159.4 176.0h.8v.8h-.8zM159.2 172.2h.8v.8h-.8zM150.7 172.8h.8v.8h-.8zM159.0 174.0h.8v.8h-.8zM155.6 172.2h.8v.8h-.8zM153.6 171.9h.8v.8h-.8zM147.4 179.3h.8v.8h-.8zM148.8 176.6h.8v.8h-.8zM161.4 176.9h.8v.8h-.8zM160.8 174.5h.8v.8h-.8zM147.1 169.5h.8v.8h-.8zM157.0 172.0h.8v.8h-.8zM151.5 172.0h.8v.8h-.8zM159.2 178.3h.8v.8h-.8zM150.0 173.0h.8v.8h-.8zM157.3 173.0h.8v.8h-.8zM159.5 176.9h.8v.8h-.8zM160.0 179.2h.8v.8h-.8zM160.8 171.9h.8v.8h-.8zM149.2 177.2h.8v.8h-.8zM156.2 172.6h.8v.8h-.8zM159.3 171.3h.8v.8h-.8zM147.7 178.1h.8v.8h-.8zM156.2 173.2h.8v.8h-.8zM151.4 171.1h.8v.8h-.8zM156.0 172.6h.8v.8h-.8zM159.3 177.1h.8v.8h-.8zM148.2 175.3h.8v.8h-.8zM146.7 176.8h.8v.8h-.8zM145.7 176.3h.8v.8h-.8zM150.0 170.8h.8v.8h-.8zM161.2 179.2h.8v.8h-.8zM159.1 179.0h.8v.8h-.8zM149.7 174.5h.8v.8h-.8zM154.3 171.5h.8v.8h-.8zM153.7 172.9h.8v.8h-.8zM157.6 173.6h.8v.8h-.8zM150.8 173.2h.8v.8h-.8zM148.7 177.5h.8v.8h-.8zM159.2 175.4h.8v.8h-.8zM162.6 176.5h.8v.8h-.8zM159.8 176.1h.8v.8h-.8zM157.4 172.8h.8v.8h-.8zM145.7 177.7h.8v.8h-.8zM148.0 178.4h.8v.8h-.8zM159.4 177.6h.8v.8h-.8zM158.9 174.5h.8v.8h-.8zM156.9 173.5h.8v.8h-.8zM148.0 176.2h.8v.8h-.8zM147.8 173.8h.8v.8h-.8zM153.7 172.1h.8v.8h-.8zM158.4 170.1h.8v.8h-.8zM157.7 173.8h.8v.8h-.8zM159.5 177.0h.8v.8h-.8zM160.8 174.0h.8v.8h-.8zM154.1 172.8h.8v.8h-.8zM159.5 174.1h.8v.8h-.8zM154.5 172.7h.8v.8h-.8zM147.7 174.3h.8v.8h-.8zM159.0 176.8h.8v.8h-.8zM158.2 174.1h.8v.8h-.8zM156.4 171.0h.8v.8h-.8zM156.3 171.0h.8v.8h-.8zM157.8 173.7h.8v.8h-.8zM162.6 176.5h.8v.8h-.8zM157.5 173.8h.8v.8h-.8zM149.3 177.0h.8v.8h-.8zM150.7 172.2h.8v.8h-.8zM154.0 171.1h.8v.8h-.8zM163.4 170.4h.8v.8h-.8zM151.3 172.3h.8v.8h-.8zM145.2 175.1h.8v.8h-.8zM157.4 171.9h.8v.8h-.8zM159.5 176.8h.8v.8h-.8zM159.1 175.5h.8v.8h-.8zM159.6 175.3h.8v.8h-.8zM152.3 172.0h.8v.8h-.8zM159.3 173.4h.8v.8h-.8zM162.1 177.0h.8v.8h-.8zM148.0 175.4h.8v.8h-.8zM151.2 172.4h.8v.8h-.8zM151.4 173.8h.8v.8h-.8zM148.6 175.6h.8v.8h-.8zM156.9 173.6h.8v.8h-.8zM152.6 173.2h.8v.8h-.8zM149.4 171.5h.8v.8h-.8zM147.7 179.0h.8v.8h-.8zM161.9 176.5h.8v.8h-.8zM150.6 174.1h.8v.8h-.8zM146.4 175.8h.8v.8h-.8zM160.4 178.7h.8v.8h-.8zM147.2 178.4h.8v.8h-.8zM146.9 171.0h.8v.8h-.8zM146.8 175.9h.8v.8h-.8zM157.5 168.8h.8v.8h-.8zM160.2 173.4h.8v.8h-.8zM158.7 175.8h.8v.8h-.8zM149.1 174.3h.8v.8h-.8zM148.6 178.5h.8v.8h-.8zM149.5 175.7h.8v.8h-.8zM146.6 175.0h.8v.8h-.8zM149.4 173.2h.8v.8h-.8zM159.5 178.7h.8v.8h-.8zM151.7 172.6h.8v.8h-.8zM161.4 174.6h.8v.8h-.8zM155.4 171.0h.8v.8h-.8zM158.8 175.5h.8v.8h-.8zM148.9 177.3h.8v.8h-.8zM160.5 172.3h.8v.8h-.8zM149.7 175.6h.8v.8h-.8zM149.9 173.9h.8v.8h-.8zM160.3 171.6h.8v.8h-.8zM149.5 176.4h.8v.8h-.8zM153.5 172.5h.8v.8h-.8zM150.1 174.6h.8v.8h-.8zM159.4 171.6h.8v.8h-.8zM147.2 174.5h.8v.8h-.8zM158.0 173.6h.8v.8h-.8zM147.3 179.5h.8v.8h-.8zM149.9 170.5h.8v.8h-.8zM154.7 170.4h.8v.8h-.8zM158.9 170.6h.8v.8h-.8zM154.5 172.7h.8v.8h-.8zM147.1 178.9h.8v.8h-.8zM155.3 171.5h.8v.8h-.8zM151.9 172.5h.8v.8h-.8zM148.9 174.7h.8v.8h-.8zM162.2 176.7h.8v.8h-.8zM153.3 172.5h.8v.8h-.8zM154.5 172.2h.8v.8h-.8zM158.4 174.6h.8v.8h-.8zM147.7 175.5h.8v.8h-.8zM161.3 178.7h.8v.8h-.8zM150.5 172.2h.8v.8h-.8zM147.5 176.9h.8v.8h-.8zM159.9 177.1h.8v.8h-.8zM157.0 173.8h.8v.8h-.8zM160.4 173.4h.8v.8h-.8zM146.7 176.2h.8v.8h-.8zM156.0 173.2h.8v.8h-.8zM147.2 174.8h.8v.8h-.8zM159.2 173.5h.8v.8h-.8zM157.1 173.8h.8v.8h-.8zM160.3 173.9h.8v.8h-.8zM157.0 173.0h.8v.8h-.8zM158.8 175.0h.8v.8h-.8zM147.8 179.3h.8v.8h-.8zM147.5 177.8h.8v.8h-.8zM152.1 171.3h.8v.8h-.8zM145.7 177.8h.8v.8h-.8zM154.4 172.7h.8v.8h-.8zM160.0 177.1h.8v.8h-.8zM159.8 178.0h.8v.8h-.8zM148.3 176.3h.8v.8h-.8zM147.5 174.0h.8v.8h-.8zM160.6 178.1h.8v.8h-.8zM155.7 171.1h.8v.8h-.8zM157.3 173.3h.8v.8h-.8zM149.2 179.1h.8v.8h-.8zM149.2 176.7h.8v.8h-.8zM159.9 175.3h.8v.8h-.8zM154.8 171.9h.8v.8h-.8zM154.8 172.1h.8v.8h-.8zM157.3 173.8h.8v.8h-.8zM151.8 171.5h.8v.8h-.8zM151.4 172.4h.8v.8h-.8zM160.0 179.4h.8v.8h-.8zM149.0 177.8h.8v.8h-.8zM155.8 169.8h.8v.8h-.8zM148.5 177.0h.8v.8h-.8zM155.5 169.6h.8v.8h-.8zM160.8 171.3h.8v.8h-.8zM156.1 173.3h.8v.8h-.8zM154.9 170.9h.8v.8h-.8zM151.7 172.8h.8v.8h-.8zM152.7 172.9h.8v.8h-.8zM160.8 179.3h.8v.8h-.8z" fill="#000" fill-opacity="0.42"/>
<ellipse cx="164.40" cy="182.30" rx="7.00" ry="0.80" fill="#444" fill-opacity="0.5" stroke="#111" stroke-width="0.9"/>
<path d="M147.90 175.45A6.70 6.30 0 0 1 160.67 175.97" fill="none" stroke="#111" stroke-width="1.3" stroke-opacity="0.75"/>
<ellipse cx="154.20" cy="177.60" rx="5.6" ry="5.2" fill="#9e9e9e" stroke="#111" stroke-width="1.3"/>
<ellipse cx="154.20" cy="177.90" rx="4.10" ry="3.70" fill="#bdbdbd" stroke="#444" stroke-width="0.6"/>
<ellipse cx="154.20" cy="178.10" rx="2.60" ry="2.20" fill="#d6d6d6" stroke="#777" stroke-width="0.5"/>
<path d="M162.30 183.60V139.50H189.40V183.60" fill="none" stroke="#777" stroke-width="0.9"/>
<text x="188.00" y="138.30" font-size="4.5" text-anchor="end" fill="#333" textLength="7.4" lengthAdjust="spacingAndGlyphs" >P13</text>
<path d="M145.40 183.60V131.70H198.10V183.60Z" fill="none" stroke="#222" stroke-width="1.2"/>
<line x1="142.20" y1="134.35" x2="145.40" y2="134.35" stroke="#333" stroke-width="0.7"/>
<text x="139.10" y="135.95" font-size="4.4" text-anchor="end" fill="#333" textLength="6.1" lengthAdjust="spacingAndGlyphs" >250</text>
<line x1="142.20" y1="144.25" x2="145.40" y2="144.25" stroke="#333" stroke-width="0.7"/>
<text x="139.10" y="145.85" font-size="4.4" text-anchor="end" fill="#333" textLength="6.1" lengthAdjust="spacingAndGlyphs" >200</text>
<line x1="142.20" y1="154.15" x2="145.40" y2="154.15" stroke="#333" stroke-width="0.7"/>
<text x="139.10" y="155.75" font-size="4.4" text-anchor="end" fill="#333" textLength="6.1" lengthAdjust="spacingAndGlyphs" >150</text>
<line x1="142.20" y1="164.05" x2="145.40" y2="164.05" stroke="#333" stroke-width="0.7"/>
<text x="139.10" y="165.65" font-size="4.4" text-anchor="end" fill="#333" textLength="6.1" lengthAdjust="spacingAndGlyphs" >100</text>
<line x1="142.20" y1="173.95" x2="145.40" y2="173.95" stroke="#333" stroke-width="0.7"/>
<text x="139.10" y="175.55" font-size="4.4" text-anchor="end" fill="#333" textLength="4.1" lengthAdjust="spacingAndGlyphs" >50</text>
<line x1="143.70" y1="134.35" x2="145.40" y2="134.35" stroke="#333" stroke-width="0.6"/>
<line x1="143.70" y1="136.33" x2="145.40" y2="136.33" stroke="#333" stroke-width="0.6"/>
<line x1="143.70" y1="138.31" x2="145.40" y2="138.31" stroke="#333" stroke-width="0.6"/>
<line x1="143.70" y1="140.29" x2="145.40" y2="140.29" stroke="#333" stroke-width="0.6"/>
<line x1="143.70" y1="142.27" x2="145.40" y2="142.27" stroke="#333" stroke-width="0.6"/>
<line x1="143.70" y1="144.25" x2="145.40" y2="144.25" stroke="#333" stroke-width="0.6"/>
<line x1="143.70" y1="146.23" x2="145.40" y2="146.23" stroke="#333" stroke-width="0.6"/>
<line x1="143.70" y1="148.21" x2="145.40" y2="148.21" stroke="#333" stroke-width="0.6"/>
<line x1="143.70" y1="150.19" x2="145.40" y2="150.19" stroke="#333" stroke-width="0.6"/>
<line x1="143.70" y1="152.17" x2="145.40" y2="152.17" stroke="#333" stroke-width="0.6"/>
<line x1="143.70" y1="154.15" x2="145.40" y2="154.15" stroke="#333" stroke-width="0.6"/>
<line x1="143.70" y1="156.13" x2="145.40" y2="156.13" stroke="#333" stroke-width="0.6"/>
<line x1="143.70" y1="158.11" x2="145.40" y2="158.11" stroke="#333" stroke-width="0.6"/>
<line x1="143.70" y1="160.09" x2="145.40" y2="160.09" stroke="#333" stroke-width="0.6"/>
<line x1="143.70" y1="162.07" x2="145.40" y2="162.07" stroke="#333" stroke-width="0.6"/>
<line x1="143.70" y1="164.05" x2="145.40" y2="164.05" stroke="#333" stroke-width="0.6"/>
<line x1="143.70" y1="166.03" x2="145.40" y2="166.03" stroke="#333" stroke-width="0.6"/>
<line x1="143.70" y1="168.01" x2="145.40" y2="168.01" stroke="#333" stroke-width="0.6"/>
<line x1="143.70" y1="169.99" x2="145.40" y2="169.99" stroke="#333" stroke-width="0.6"/>
<line x1="143.70" y1="171.97" x2="145.40" y2="171.97" stroke="#333" stroke-width="0.6"/>
<line x1="143.70" y1="173.95" x2="145.40" y2="173.95" stroke="#333" stroke-width="0.6"/>
<line x1="143.70" y1="175.93" x2="145.40" y2="175.93" stroke="#333" stroke-width="0.6"/>
<line x1="143.70" y1="177.91" x2="145.40" y2="177.91" stroke="#333" stroke-width="0.6"/>
<line x1="143.70" y1="179.89" x2="145.40" y2="179.89" stroke="#333" stroke-width="0.6"/>
<line x1="143.70" y1="181.87" x2="145.40" y2="181.87" stroke="#333" stroke-width="0.6"/>
<line x1="145.90" y1="183.60" x2="145.90" y2="186.60" stroke="#333" stroke-width="0.6"/>
<line x1="149.40" y1="183.60" x2="149.40" y2="186.60" stroke="#333" stroke-width="0.6"/>
<line x1="152.00" y1="183.60" x2="152.00" y2="186.60" stroke="#333" stroke-width="0.6"/>
<line x1="153.56" y1="183.60" x2="153.56" y2="185.70" stroke="#333" stroke-width="0.65"/>
<line x1="154.52" y1="183.60" x2="154.52" y2="185.70" stroke="#333" stroke-width="0.65"/>
<line x1="155.33" y1="183.60" x2="155.33" y2="185.70" stroke="#333" stroke-width="0.65"/>
<line x1="156.03" y1="183.60" x2="156.03" y2="185.70" stroke="#333" stroke-width="0.65"/>
<line x1="156.65" y1="183.60" x2="156.65" y2="185.70" stroke="#333" stroke-width="0.65"/>
<line x1="157.20" y1="183.60" x2="157.20" y2="187.20" stroke="#222" stroke-width="0.7"/>
<line x1="160.84" y1="183.60" x2="160.84" y2="185.70" stroke="#333" stroke-width="0.65"/>
<line x1="162.97" y1="183.60" x2="162.97" y2="185.70" stroke="#333" stroke-width="0.65"/>
<line x1="164.48" y1="183.60" x2="164.48" y2="185.70" stroke="#333" stroke-width="0.65"/>
<line x1="165.66" y1="183.60" x2="165.66" y2="185.70" stroke="#333" stroke-width="0.65"/>
<line x1="166.62" y1="183.60" x2="166.62" y2="185.70" stroke="#333" stroke-width="0.65"/>
<line x1="167.43" y1="183.60" x2="167.43" y2="185.70" stroke="#333" stroke-width="0.65"/>
<line x1="168.13" y1="183.60" x2="168.13" y2="185.70" stroke="#333" stroke-width="0.65"/>
<line x1="168.75" y1="183.60" x2="168.75" y2="185.70" stroke="#333" stroke-width="0.65"/>
<line x1="169.30" y1="183.60" x2="169.30" y2="187.20" stroke="#222" stroke-width="0.7"/>
<line x1="172.94" y1="183.60" x2="172.94" y2="185.70" stroke="#333" stroke-width="0.65"/>
<line x1="175.07" y1="183.60" x2="175.07" y2="185.70" stroke="#333" stroke-width="0.65"/>
<line x1="176.58" y1="183.60" x2="176.58" y2="185.70" stroke="#333" stroke-width="0.65"/>
<line x1="177.76" y1="183.60" x2="177.76" y2="185.70" stroke="#333" stroke-width="0.65"/>
<line x1="178.72" y1="183.60" x2="178.72" y2="185.70" stroke="#333" stroke-width="0.65"/>
<line x1="179.53" y1="183.60" x2="179.53" y2="185.70" stroke="#333" stroke-width="0.65"/>
<line x1="180.23" y1="183.60" x2="180.23" y2="185.70" stroke="#333" stroke-width="0.65"/>
<line x1="180.85" y1="183.60" x2="180.85" y2="185.70" stroke="#333" stroke-width="0.65"/>
<line x1="181.40" y1="183.60" x2="181.40" y2="187.20" stroke="#222" stroke-width="0.7"/>
<line x1="185.04" y1="183.60" x2="185.04" y2="185.70" stroke="#333" stroke-width="0.65"/>
<line x1="187.17" y1="183.60" x2="187.17" y2="185.70" stroke="#333" stroke-width="0.65"/>
<line x1="188.68" y1="183.60" x2="188.68" y2="185.70" stroke="#333" stroke-width="0.65"/>
<line x1="189.86" y1="183.60" x2="189.86" y2="185.70" stroke="#333" stroke-width="0.65"/>
<line x1="190.82" y1="183.60" x2="190.82" y2="185.70" stroke="#333" stroke-width="0.65"/>
<line x1="191.63" y1="183.60" x2="191.63" y2="185.70" stroke="#333" stroke-width="0.65"/>
<line x1="192.33" y1="183.60" x2="192.33" y2="185.70" stroke="#333" stroke-width="0.65"/>
<line x1="192.95" y1="183.60" x2="192.95" y2="185.70" stroke="#333" stroke-width="0.65"/>
<line x1="193.50" y1="183.60" x2="193.50" y2="187.20" stroke="#222" stroke-width="0.7"/>
<line x1="197.14" y1="183.60" x2="197.14" y2="185.70" stroke="#333" stroke-width="0.65"/>
<text x="143.40" y="195.30" font-size="4.4" text-anchor="middle" fill="#333" textLength="8.8" lengthAdjust="spacingAndGlyphs" >−233</text>
<text x="151.10" y="193.00" font-size="4.6" text-anchor="middle" fill="#333" >0</text>
<text x="153.30" y="193.40" font-size="4.6" fill="#333"><tspan textLength="4.0" lengthAdjust="spacingAndGlyphs">10</tspan><tspan font-size="2.6" dy="-2.4" dx="0.3">2</tspan></text>
<text x="165.40" y="193.40" font-size="4.6" fill="#333"><tspan textLength="4.0" lengthAdjust="spacingAndGlyphs">10</tspan><tspan font-size="2.6" dy="-2.4" dx="0.3">3</tspan></text>
<text x="177.50" y="193.40" font-size="4.6" fill="#333"><tspan textLength="4.0" lengthAdjust="spacingAndGlyphs">10</tspan><tspan font-size="2.6" dy="-2.4" dx="0.3">4</tspan></text>
<text x="189.60" y="193.40" font-size="4.6" fill="#333"><tspan textLength="4.0" lengthAdjust="spacingAndGlyphs">10</tspan><tspan font-size="2.6" dy="-2.4" dx="0.3">5</tspan></text>
<text x="154.50" y="202.10" font-size="7.2" text-anchor="start" fill="#111" textLength="34.4" lengthAdjust="spacingAndGlyphs" >CD34 APC-A</text>
<text transform="translate(128.00,157.30) rotate(-90)" font-size="6.4" text-anchor="middle" fill="#111" textLength="16.3" lengthAdjust="spacingAndGlyphs" >SSC-A</text>
<text transform="translate(127.90,139.00) rotate(-90)" font-size="4.2" text-anchor="middle" fill="#333" textLength="15.7" lengthAdjust="spacingAndGlyphs" >(x 1,000)</text>
<text x="172.00" y="125.70" font-size="7.2" text-anchor="middle" fill="#111" textLength="13.12" lengthAdjust="spacingAndGlyphs" >1.2%</text>
<ellipse cx="68.50" cy="270.20" rx="5" ry="7" fill="url(#hz)" opacity="0.4"/>
<ellipse cx="68.20" cy="270.70" rx="4.2" ry="4" fill="url(#hz)" opacity="0.6"/>
<path d="M70.6 268.4h.8v.8h-.8zM70.4 277.1h.8v.8h-.8zM64.0 269.9h.8v.8h-.8zM72.5 279.7h.8v.8h-.8zM69.8 269.0h.8v.8h-.8zM69.4 253.2h.8v.8h-.8zM67.6 253.4h.8v.8h-.8zM64.2 254.8h.8v.8h-.8zM64.7 276.1h.8v.8h-.8zM69.0 267.3h.8v.8h-.8zM67.9 271.8h.8v.8h-.8zM68.8 280.9h.8v.8h-.8zM66.8 274.7h.8v.8h-.8zM64.9 279.8h.8v.8h-.8zM65.7 273.7h.8v.8h-.8zM70.7 265.4h.8v.8h-.8zM68.1 250.9h.8v.8h-.8zM67.0 276.6h.8v.8h-.8zM65.6 275.7h.8v.8h-.8zM69.3 278.6h.8v.8h-.8zM69.3 279.9h.8v.8h-.8zM70.8 261.9h.8v.8h-.8zM66.8 273.8h.8v.8h-.8zM73.6 269.9h.8v.8h-.8zM64.7 276.0h.8v.8h-.8zM68.7 278.2h.8v.8h-.8zM72.4 265.0h.8v.8h-.8zM72.6 277.8h.8v.8h-.8zM69.6 276.5h.8v.8h-.8zM66.3 277.5h.8v.8h-.8zM75.7 274.6h.8v.8h-.8zM66.5 273.8h.8v.8h-.8zM70.2 275.4h.8v.8h-.8zM73.5 268.1h.8v.8h-.8zM72.2 270.4h.8v.8h-.8zM66.5 274.1h.8v.8h-.8zM70.8 281.1h.8v.8h-.8zM70.9 279.8h.8v.8h-.8zM71.4 280.3h.8v.8h-.8zM68.1 276.3h.8v.8h-.8zM72.3 279.2h.8v.8h-.8zM70.0 279.4h.8v.8h-.8zM63.3 269.8h.8v.8h-.8zM65.5 276.5h.8v.8h-.8zM66.3 277.8h.8v.8h-.8zM65.4 265.9h.8v.8h-.8zM73.4 266.7h.8v.8h-.8zM65.0 264.1h.8v.8h-.8zM68.7 280.5h.8v.8h-.8zM68.6 275.3h.8v.8h-.8zM69.0 276.0h.8v.8h-.8zM75.2 276.8h.8v.8h-.8zM66.6 275.2h.8v.8h-.8zM72.5 274.7h.8v.8h-.8zM71.6 280.0h.8v.8h-.8zM69.1 279.7h.8v.8h-.8zM67.9 275.5h.8v.8h-.8zM70.1 278.8h.8v.8h-.8zM68.5 266.8h.8v.8h-.8zM74.4 279.1h.8v.8h-.8zM66.4 280.7h.8v.8h-.8zM73.9 271.1h.8v.8h-.8zM74.6 266.1h.8v.8h-.8zM63.2 281.2h.8v.8h-.8zM66.4 280.5h.8v.8h-.8zM68.7 279.1h.8v.8h-.8zM68.1 280.4h.8v.8h-.8zM64.6 278.5h.8v.8h-.8zM74.8 268.4h.8v.8h-.8zM71.3 275.6h.8v.8h-.8zM76.5 279.5h.8v.8h-.8zM66.5 278.9h.8v.8h-.8zM70.0 273.1h.8v.8h-.8zM72.4 274.8h.8v.8h-.8zM69.1 278.1h.8v.8h-.8zM64.9 271.2h.8v.8h-.8zM69.4 275.4h.8v.8h-.8zM68.2 280.3h.8v.8h-.8zM68.4 264.4h.8v.8h-.8zM65.3 271.2h.8v.8h-.8zM72.3 273.1h.8v.8h-.8zM67.5 246.9h.8v.8h-.8zM69.4 280.7h.8v.8h-.8zM65.9 257.5h.8v.8h-.8zM74.8 256.0h.8v.8h-.8zM71.1 271.4h.8v.8h-.8zM72.4 268.7h.8v.8h-.8zM67.2 273.1h.8v.8h-.8zM68.7 268.8h.8v.8h-.8zM69.7 276.0h.8v.8h-.8zM71.2 278.8h.8v.8h-.8zM71.2 278.8h.8v.8h-.8zM71.5 268.6h.8v.8h-.8zM65.6 265.6h.8v.8h-.8zM65.5 276.3h.8v.8h-.8zM69.8 277.5h.8v.8h-.8zM69.6 278.3h.8v.8h-.8zM62.4 269.9h.8v.8h-.8zM68.6 270.7h.8v.8h-.8zM68.9 267.5h.8v.8h-.8zM63.8 269.6h.8v.8h-.8zM77.1 278.0h.8v.8h-.8zM68.9 280.3h.8v.8h-.8zM62.7 258.6h.8v.8h-.8zM66.3 277.2h.8v.8h-.8zM69.5 274.6h.8v.8h-.8zM66.0 281.1h.8v.8h-.8zM68.1 272.2h.8v.8h-.8zM67.6 276.9h.8v.8h-.8zM64.0 263.2h.8v.8h-.8zM68.7 274.0h.8v.8h-.8zM66.4 274.6h.8v.8h-.8zM76.0 261.1h.8v.8h-.8zM70.2 281.0h.8v.8h-.8zM66.5 274.4h.8v.8h-.8zM65.5 264.3h.8v.8h-.8zM64.0 270.8h.8v.8h-.8zM63.0 258.3h.8v.8h-.8zM72.6 278.0h.8v.8h-.8zM72.2 257.6h.8v.8h-.8zM70.5 268.3h.8v.8h-.8zM61.0 277.0h.8v.8h-.8zM63.3 281.1h.8v.8h-.8zM67.7 274.3h.8v.8h-.8zM64.2 277.7h.8v.8h-.8zM66.5 272.8h.8v.8h-.8zM68.2 270.8h.8v.8h-.8zM65.6 259.5h.8v.8h-.8zM66.0 275.4h.8v.8h-.8zM71.2 264.4h.8v.8h-.8zM68.2 277.0h.8v.8h-.8zM70.9 271.7h.8v.8h-.8zM73.2 275.1h.8v.8h-.8zM75.4 269.2h.8v.8h-.8zM67.9 277.1h.8v.8h-.8zM68.9 273.6h.8v.8h-.8zM75.6 273.3h.8v.8h-.8zM73.0 275.9h.8v.8h-.8zM70.7 277.8h.8v.8h-.8zM68.9 271.7h.8v.8h-.8zM70.1 278.7h.8v.8h-.8zM71.6 273.8h.8v.8h-.8zM67.1 268.5h.8v.8h-.8zM65.1 272.4h.8v.8h-.8zM72.3 275.4h.8v.8h-.8zM70.7 268.2h.8v.8h-.8zM71.1 263.7h.8v.8h-.8zM67.4 279.2h.8v.8h-.8zM68.3 265.1h.8v.8h-.8zM68.2 276.1h.8v.8h-.8zM65.1 277.3h.8v.8h-.8zM69.5 279.2h.8v.8h-.8zM67.0 281.2h.8v.8h-.8zM64.6 278.7h.8v.8h-.8zM70.7 278.4h.8v.8h-.8zM67.5 273.5h.8v.8h-.8zM73.7 280.4h.8v.8h-.8zM68.8 276.1h.8v.8h-.8zM70.3 278.5h.8v.8h-.8zM65.6 281.0h.8v.8h-.8zM70.5 280.3h.8v.8h-.8zM70.2 276.3h.8v.8h-.8zM65.3 249.3h.8v.8h-.8zM72.2 245.6h.8v.8h-.8zM64.7 280.4h.8v.8h-.8zM70.6 272.7h.8v.8h-.8zM73.1 280.3h.8v.8h-.8zM64.3 280.0h.8v.8h-.8zM72.3 268.0h.8v.8h-.8zM65.8 281.0h.8v.8h-.8zM68.0 269.0h.8v.8h-.8zM68.1 266.7h.8v.8h-.8zM68.4 269.2h.8v.8h-.8zM66.4 277.9h.8v.8h-.8zM66.5 265.8h.8v.8h-.8zM71.3 279.3h.8v.8h-.8zM65.6 278.2h.8v.8h-.8zM69.9 269.4h.8v.8h-.8zM71.9 263.4h.8v.8h-.8zM68.1 276.8h.8v.8h-.8zM63.7 248.1h.8v.8h-.8zM71.0 268.3h.8v.8h-.8zM66.9 257.8h.8v.8h-.8zM63.1 252.6h.8v.8h-.8zM67.9 274.6h.8v.8h-.8zM68.6 278.2h.8v.8h-.8zM69.0 277.5h.8v.8h-.8zM68.3 267.2h.8v.8h-.8zM66.4 275.3h.8v.8h-.8zM64.5 280.8h.8v.8h-.8zM71.0 275.5h.8v.8h-.8zM64.1 273.9h.8v.8h-.8zM69.7 275.6h.8v.8h-.8zM65.2 275.4h.8v.8h-.8zM68.1 277.8h.8v.8h-.8zM63.6 267.5h.8v.8h-.8zM65.3 277.2h.8v.8h-.8zM71.7 259.9h.8v.8h-.8zM73.3 277.1h.8v.8h-.8zM66.6 277.6h.8v.8h-.8zM64.8 281.4h.8v.8h-.8zM70.2 274.2h.8v.8h-.8zM69.5 260.6h.8v.8h-.8zM68.0 273.6h.8v.8h-.8zM73.3 269.6h.8v.8h-.8zM68.4 268.4h.8v.8h-.8zM67.2 263.4h.8v.8h-.8zM69.2 261.8h.8v.8h-.8zM68.1 275.1h.8v.8h-.8zM66.4 274.8h.8v.8h-.8zM66.2 275.9h.8v.8h-.8zM62.8 259.0h.8v.8h-.8zM62.6 279.8h.8v.8h-.8zM68.9 273.1h.8v.8h-.8zM65.6 273.8h.8v.8h-.8zM68.3 270.9h.8v.8h-.8zM66.0 277.3h.8v.8h-.8zM69.2 271.9h.8v.8h-.8zM68.4 260.2h.8v.8h-.8zM68.8 274.6h.8v.8h-.8zM65.1 260.7h.8v.8h-.8zM64.0 277.1h.8v.8h-.8zM71.5 269.4h.8v.8h-.8zM68.3 264.8h.8v.8h-.8zM66.5 277.4h.8v.8h-.8zM70.9 277.7h.8v.8h-.8zM63.5 281.1h.8v.8h-.8zM69.5 271.9h.8v.8h-.8zM64.8 278.3h.8v.8h-.8zM69.1 277.1h.8v.8h-.8zM62.4 275.1h.8v.8h-.8zM68.9 263.5h.8v.8h-.8zM70.7 271.9h.8v.8h-.8zM64.4 279.8h.8v.8h-.8zM66.1 279.8h.8v.8h-.8zM71.6 274.3h.8v.8h-.8zM67.4 268.9h.8v.8h-.8zM70.6 277.4h.8v.8h-.8zM68.3 277.2h.8v.8h-.8zM63.5 281.4h.8v.8h-.8zM70.6 273.5h.8v.8h-.8zM65.3 270.7h.8v.8h-.8zM66.5 248.8h.8v.8h-.8zM66.2 259.1h.8v.8h-.8zM66.5 260.2h.8v.8h-.8zM68.2 272.4h.8v.8h-.8zM68.3 276.7h.8v.8h-.8zM63.4 280.4h.8v.8h-.8zM66.0 264.0h.8v.8h-.8zM67.7 281.3h.8v.8h-.8zM70.6 280.6h.8v.8h-.8zM68.1 255.0h.8v.8h-.8zM72.2 279.9h.8v.8h-.8zM67.8 272.0h.8v.8h-.8zM71.3 277.6h.8v.8h-.8zM67.7 281.3h.8v.8h-.8zM67.0 273.5h.8v.8h-.8zM68.2 281.2h.8v.8h-.8zM66.9 271.2h.8v.8h-.8zM74.8 270.6h.8v.8h-.8zM71.2 280.0h.8v.8h-.8zM67.6 280.8h.8v.8h-.8zM69.0 277.6h.8v.8h-.8zM73.2 268.4h.8v.8h-.8zM63.9 272.1h.8v.8h-.8zM65.4 271.6h.8v.8h-.8zM66.7 275.2h.8v.8h-.8zM63.9 278.3h.8v.8h-.8zM71.9 276.8h.8v.8h-.8zM65.2 277.7h.8v.8h-.8zM61.5 276.3h.8v.8h-.8zM66.8 277.5h.8v.8h-.8zM69.7 266.9h.8v.8h-.8zM69.8 278.5h.8v.8h-.8zM71.7 273.5h.8v.8h-.8zM68.7 275.4h.8v.8h-.8zM67.0 279.7h.8v.8h-.8zM65.8 279.3h.8v.8h-.8zM64.9 279.2h.8v.8h-.8zM67.6 260.5h.8v.8h-.8zM71.0 262.0h.8v.8h-.8zM69.3 275.9h.8v.8h-.8zM65.6 279.6h.8v.8h-.8zM61.4 280.8h.8v.8h-.8zM70.3 276.9h.8v.8h-.8zM70.4 278.3h.8v.8h-.8zM74.0 275.4h.8v.8h-.8zM72.9 274.8h.8v.8h-.8zM70.0 266.4h.8v.8h-.8zM67.6 278.8h.8v.8h-.8zM63.6 279.0h.8v.8h-.8zM67.7 255.5h.8v.8h-.8zM68.0 269.6h.8v.8h-.8zM65.7 280.9h.8v.8h-.8zM68.6 274.0h.8v.8h-.8zM68.7 280.7h.8v.8h-.8zM67.0 270.7h.8v.8h-.8zM63.3 276.7h.8v.8h-.8zM70.3 274.4h.8v.8h-.8zM66.6 273.3h.8v.8h-.8zM63.2 270.1h.8v.8h-.8zM70.2 265.5h.8v.8h-.8zM68.4 274.3h.8v.8h-.8zM72.1 273.4h.8v.8h-.8zM74.0 276.1h.8v.8h-.8zM69.1 280.1h.8v.8h-.8zM70.8 268.9h.8v.8h-.8zM65.5 268.9h.8v.8h-.8zM63.7 281.2h.8v.8h-.8zM63.9 277.8h.8v.8h-.8zM70.7 279.3h.8v.8h-.8zM69.7 274.3h.8v.8h-.8zM69.9 275.9h.8v.8h-.8zM68.0 274.6h.8v.8h-.8zM68.6 278.9h.8v.8h-.8zM69.4 280.1h.8v.8h-.8zM69.1 276.8h.8v.8h-.8zM70.2 280.0h.8v.8h-.8zM71.4 269.1h.8v.8h-.8zM70.4 281.0h.8v.8h-.8zM66.6 249.8h.8v.8h-.8zM72.3 268.3h.8v.8h-.8zM70.7 275.4h.8v.8h-.8zM69.8 269.6h.8v.8h-.8zM67.4 259.1h.8v.8h-.8zM73.2 276.3h.8v.8h-.8zM65.0 274.9h.8v.8h-.8zM70.2 278.9h.8v.8h-.8zM66.1 281.4h.8v.8h-.8zM69.0 256.5h.8v.8h-.8zM70.1 278.2h.8v.8h-.8zM63.6 270.5h.8v.8h-.8zM75.0 276.3h.8v.8h-.8zM70.8 278.4h.8v.8h-.8zM70.3 253.5h.8v.8h-.8zM61.4 278.7h.8v.8h-.8zM72.3 281.2h.8v.8h-.8zM69.5 267.0h.8v.8h-.8zM67.8 273.1h.8v.8h-.8zM67.3 276.4h.8v.8h-.8zM61.8 256.4h.8v.8h-.8zM65.9 277.2h.8v.8h-.8zM66.8 271.6h.8v.8h-.8zM66.6 279.7h.8v.8h-.8zM63.8 280.7h.8v.8h-.8zM71.9 280.6h.8v.8h-.8zM70.0 263.8h.8v.8h-.8zM73.5 276.4h.8v.8h-.8zM69.8 272.8h.8v.8h-.8zM71.4 262.9h.8v.8h-.8zM66.8 271.3h.8v.8h-.8zM66.8 266.3h.8v.8h-.8zM64.5 265.8h.8v.8h-.8zM64.6 280.4h.8v.8h-.8zM64.5 254.0h.8v.8h-.8zM67.8 279.9h.8v.8h-.8zM67.3 272.0h.8v.8h-.8zM66.1 278.6h.8v.8h-.8zM75.1 275.4h.8v.8h-.8zM61.4 278.3h.8v.8h-.8zM68.3 260.5h.8v.8h-.8zM67.9 253.9h.8v.8h-.8zM64.7 261.3h.8v.8h-.8zM68.5 281.3h.8v.8h-.8zM64.7 279.3h.8v.8h-.8zM67.6 271.9h.8v.8h-.8zM67.3 277.7h.8v.8h-.8zM64.3 264.2h.8v.8h-.8zM72.1 268.6h.8v.8h-.8zM69.7 257.0h.8v.8h-.8zM67.6 259.7h.8v.8h-.8zM67.7 281.3h.8v.8h-.8zM71.8 279.6h.8v.8h-.8zM71.5 268.4h.8v.8h-.8zM67.8 259.0h.8v.8h-.8zM63.8 266.4h.8v.8h-.8zM61.4 275.6h.8v.8h-.8zM71.7 270.4h.8v.8h-.8zM62.2 280.9h.8v.8h-.8zM65.2 277.4h.8v.8h-.8zM90.2 280.1h.8v.8h-.8zM80.3 275.9h.8v.8h-.8zM84.4 280.8h.8v.8h-.8zM82.9 257.0h.8v.8h-.8zM79.4 280.7h.8v.8h-.8zM77.7 279.7h.8v.8h-.8zM77.2 272.8h.8v.8h-.8zM75.6 279.9h.8v.8h-.8zM81.0 275.9h.8v.8h-.8zM87.8 279.2h.8v.8h-.8zM76.4 278.0h.8v.8h-.8zM84.9 275.8h.8v.8h-.8zM82.1 275.2h.8v.8h-.8zM83.1 280.7h.8v.8h-.8zM83.7 265.1h.8v.8h-.8zM78.7 276.3h.8v.8h-.8zM84.9 281.2h.8v.8h-.8zM93.3 268.9h.8v.8h-.8zM89.0 279.7h.8v.8h-.8zM82.5 278.3h.8v.8h-.8zM85.7 275.1h.8v.8h-.8zM83.6 264.8h.8v.8h-.8zM75.2 277.9h.8v.8h-.8zM69.7 270.3h.8v.8h-.8zM71.3 271.9h.8v.8h-.8zM62.9 274.9h.8v.8h-.8zM63.0 276.3h.8v.8h-.8zM74.9 277.8h.8v.8h-.8zM70.4 270.2h.8v.8h-.8zM62.4 275.1h.8v.8h-.8zM73.3 271.9h.8v.8h-.8zM72.8 273.4h.8v.8h-.8zM67.3 270.1h.8v.8h-.8zM73.9 275.8h.8v.8h-.8zM71.0 270.1h.8v.8h-.8zM75.9 278.0h.8v.8h-.8zM67.4 270.8h.8v.8h-.8zM68.8 270.7h.8v.8h-.8zM70.2 270.8h.8v.8h-.8zM65.1 272.2h.8v.8h-.8zM65.7 268.4h.8v.8h-.8zM63.2 274.5h.8v.8h-.8zM70.1 268.3h.8v.8h-.8zM73.3 272.2h.8v.8h-.8zM71.7 272.0h.8v.8h-.8zM73.0 273.8h.8v.8h-.8zM62.2 269.0h.8v.8h-.8zM77.8 277.2h.8v.8h-.8zM75.8 274.9h.8v.8h-.8zM73.8 272.8h.8v.8h-.8zM70.3 269.9h.8v.8h-.8zM76.2 272.4h.8v.8h-.8zM62.0 272.5h.8v.8h-.8zM68.6 270.5h.8v.8h-.8zM64.1 271.9h.8v.8h-.8zM60.8 276.8h.8v.8h-.8zM65.9 270.5h.8v.8h-.8zM75.3 272.5h.8v.8h-.8zM62.5 275.8h.8v.8h-.8zM64.6 271.2h.8v.8h-.8zM73.0 274.6h.8v.8h-.8zM61.8 274.6h.8v.8h-.8zM71.8 271.3h.8v.8h-.8zM75.5 274.6h.8v.8h-.8zM77.6 277.5h.8v.8h-.8zM65.1 268.4h.8v.8h-.8zM64.4 272.5h.8v.8h-.8zM62.9 269.1h.8v.8h-.8zM62.8 275.5h.8v.8h-.8zM74.4 275.2h.8v.8h-.8zM65.7 269.3h.8v.8h-.8zM64.9 269.3h.8v.8h-.8zM66.8 269.6h.8v.8h-.8zM72.1 272.2h.8v.8h-.8zM62.9 277.1h.8v.8h-.8zM74.3 276.3h.8v.8h-.8zM65.2 268.3h.8v.8h-.8zM62.1 272.4h.8v.8h-.8zM70.0 271.4h.8v.8h-.8zM61.7 276.5h.8v.8h-.8zM73.1 275.2h.8v.8h-.8zM72.2 273.0h.8v.8h-.8zM66.0 269.5h.8v.8h-.8zM71.9 272.3h.8v.8h-.8zM68.3 269.4h.8v.8h-.8zM61.5 271.6h.8v.8h-.8zM68.3 269.8h.8v.8h-.8zM61.8 276.4h.8v.8h-.8zM62.2 272.2h.8v.8h-.8zM65.5 270.0h.8v.8h-.8zM63.0 273.9h.8v.8h-.8zM77.1 274.5h.8v.8h-.8zM61.5 275.5h.8v.8h-.8zM69.6 269.4h.8v.8h-.8zM70.7 271.2h.8v.8h-.8zM73.3 275.2h.8v.8h-.8zM63.2 273.6h.8v.8h-.8zM75.8 274.7h.8v.8h-.8zM65.4 269.8h.8v.8h-.8zM64.6 271.4h.8v.8h-.8zM75.6 275.7h.8v.8h-.8zM61.9 274.0h.8v.8h-.8zM75.7 275.5h.8v.8h-.8zM67.6 271.0h.8v.8h-.8zM71.1 271.0h.8v.8h-.8zM64.9 271.7h.8v.8h-.8zM62.2 273.5h.8v.8h-.8zM64.1 272.5h.8v.8h-.8zM76.3 275.7h.8v.8h-.8zM65.5 268.3h.8v.8h-.8zM63.1 272.1h.8v.8h-.8zM73.4 271.2h.8v.8h-.8zM63.3 276.7h.8v.8h-.8zM64.0 273.4h.8v.8h-.8zM75.3 274.9h.8v.8h-.8zM78.0 271.7h.8v.8h-.8zM62.4 277.5h.8v.8h-.8zM66.2 270.9h.8v.8h-.8zM73.1 275.0h.8v.8h-.8zM62.1 274.3h.8v.8h-.8zM65.8 271.0h.8v.8h-.8zM67.5 270.9h.8v.8h-.8zM71.8 271.1h.8v.8h-.8zM72.7 267.5h.8v.8h-.8zM60.7 275.2h.8v.8h-.8zM63.7 273.3h.8v.8h-.8zM68.0 269.3h.8v.8h-.8zM75.2 275.5h.8v.8h-.8zM71.1 270.3h.8v.8h-.8zM63.3 272.2h.8v.8h-.8zM74.8 275.1h.8v.8h-.8zM73.1 273.1h.8v.8h-.8zM65.7 271.8h.8v.8h-.8zM74.5 273.4h.8v.8h-.8zM71.0 271.1h.8v.8h-.8zM61.5 276.8h.8v.8h-.8zM60.9 275.0h.8v.8h-.8zM66.4 270.5h.8v.8h-.8zM68.9 270.0h.8v.8h-.8zM64.5 270.4h.8v.8h-.8zM65.1 271.4h.8v.8h-.8zM75.7 276.0h.8v.8h-.8zM61.2 266.5h.8v.8h-.8zM67.2 268.6h.8v.8h-.8zM64.4 269.1h.8v.8h-.8zM72.0 271.4h.8v.8h-.8zM62.7 271.4h.8v.8h-.8zM76.5 275.7h.8v.8h-.8zM70.4 267.8h.8v.8h-.8zM62.9 268.4h.8v.8h-.8zM72.4 271.3h.8v.8h-.8zM75.2 273.4h.8v.8h-.8zM62.3 274.6h.8v.8h-.8zM74.6 273.8h.8v.8h-.8zM63.4 270.8h.8v.8h-.8zM73.8 272.3h.8v.8h-.8zM73.1 277.2h.8v.8h-.8zM73.8 272.6h.8v.8h-.8zM73.9 269.9h.8v.8h-.8zM64.3 267.8h.8v.8h-.8zM71.9 271.2h.8v.8h-.8zM66.9 270.7h.8v.8h-.8zM73.0 275.3h.8v.8h-.8zM74.6 273.7h.8v.8h-.8zM73.8 273.4h.8v.8h-.8zM62.2 277.2h.8v.8h-.8zM70.5 270.8h.8v.8h-.8zM63.8 269.0h.8v.8h-.8zM65.7 268.9h.8v.8h-.8zM59.5 274.8h.8v.8h-.8zM67.6 270.9h.8v.8h-.8zM66.9 270.4h.8v.8h-.8zM63.4 277.3h.8v.8h-.8zM74.8 275.3h.8v.8h-.8zM67.7 270.7h.8v.8h-.8zM69.7 270.9h.8v.8h-.8zM72.1 269.4h.8v.8h-.8zM74.3 277.3h.8v.8h-.8zM62.4 275.4h.8v.8h-.8zM64.7 272.5h.8v.8h-.8zM73.1 273.8h.8v.8h-.8zM64.5 272.7h.8v.8h-.8zM76.0 272.2h.8v.8h-.8zM60.1 277.5h.8v.8h-.8zM71.5 270.0h.8v.8h-.8zM71.4 268.5h.8v.8h-.8zM69.0 269.6h.8v.8h-.8zM64.4 270.0h.8v.8h-.8zM63.7 274.0h.8v.8h-.8zM72.1 271.0h.8v.8h-.8zM61.0 277.7h.8v.8h-.8zM66.5 271.4h.8v.8h-.8zM68.3 270.1h.8v.8h-.8zM72.4 270.9h.8v.8h-.8zM63.1 277.0h.8v.8h-.8zM72.6 271.5h.8v.8h-.8zM68.9 268.9h.8v.8h-.8zM75.0 270.0h.8v.8h-.8zM75.0 271.0h.8v.8h-.8zM74.3 274.8h.8v.8h-.8zM64.7 269.1h.8v.8h-.8zM72.0 272.0h.8v.8h-.8zM75.0 276.6h.8v.8h-.8zM66.3 268.3h.8v.8h-.8zM62.9 274.5h.8v.8h-.8zM75.2 275.3h.8v.8h-.8zM59.8 273.9h.8v.8h-.8zM62.1 274.9h.8v.8h-.8zM66.9 270.5h.8v.8h-.8zM63.3 273.6h.8v.8h-.8zM73.5 269.8h.8v.8h-.8zM60.9 274.4h.8v.8h-.8zM62.6 275.8h.8v.8h-.8zM75.1 269.6h.8v.8h-.8zM74.0 273.6h.8v.8h-.8zM71.5 271.0h.8v.8h-.8zM63.2 271.1h.8v.8h-.8zM62.5 276.3h.8v.8h-.8zM71.9 269.3h.8v.8h-.8zM68.6 266.9h.8v.8h-.8zM65.4 270.6h.8v.8h-.8zM60.2 274.1h.8v.8h-.8zM74.1 275.4h.8v.8h-.8zM74.0 277.3h.8v.8h-.8zM68.1 270.8h.8v.8h-.8zM67.9 268.5h.8v.8h-.8zM62.4 271.8h.8v.8h-.8zM73.3 276.8h.8v.8h-.8zM74.4 273.8h.8v.8h-.8zM63.9 273.2h.8v.8h-.8zM66.0 270.0h.8v.8h-.8zM67.6 271.1h.8v.8h-.8zM76.9 276.6h.8v.8h-.8zM73.3 275.9h.8v.8h-.8zM67.0 270.9h.8v.8h-.8zM76.0 270.0h.8v.8h-.8zM74.4 277.4h.8v.8h-.8zM71.4 272.1h.8v.8h-.8zM61.3 276.3h.8v.8h-.8zM66.3 271.6h.8v.8h-.8zM62.0 273.4h.8v.8h-.8zM69.3 269.0h.8v.8h-.8zM61.6 275.2h.8v.8h-.8zM66.8 270.9h.8v.8h-.8zM65.6 268.0h.8v.8h-.8zM66.9 270.1h.8v.8h-.8zM67.0 270.1h.8v.8h-.8zM73.8 277.1h.8v.8h-.8zM72.1 269.9h.8v.8h-.8zM64.5 270.9h.8v.8h-.8zM74.3 273.9h.8v.8h-.8zM69.3 270.9h.8v.8h-.8zM73.3 270.5h.8v.8h-.8zM65.8 270.5h.8v.8h-.8zM64.3 271.0h.8v.8h-.8zM63.2 277.1h.8v.8h-.8zM67.6 268.8h.8v.8h-.8zM72.3 271.8h.8v.8h-.8zM72.0 272.4h.8v.8h-.8zM61.8 276.8h.8v.8h-.8zM74.7 277.0h.8v.8h-.8zM74.5 274.5h.8v.8h-.8zM66.8 270.4h.8v.8h-.8zM75.1 271.7h.8v.8h-.8zM73.6 277.3h.8v.8h-.8zM74.9 271.1h.8v.8h-.8zM68.1 270.9h.8v.8h-.8zM70.9 267.5h.8v.8h-.8zM75.1 277.6h.8v.8h-.8zM69.7 270.5h.8v.8h-.8zM69.5 271.0h.8v.8h-.8zM73.2 276.0h.8v.8h-.8zM61.5 271.0h.8v.8h-.8zM72.1 272.2h.8v.8h-.8zM74.7 272.1h.8v.8h-.8zM62.1 276.9h.8v.8h-.8zM62.5 272.0h.8v.8h-.8zM62.8 270.0h.8v.8h-.8zM62.6 273.8h.8v.8h-.8zM63.0 276.0h.8v.8h-.8zM65.4 268.9h.8v.8h-.8zM72.5 273.1h.8v.8h-.8zM70.5 269.7h.8v.8h-.8zM61.2 274.2h.8v.8h-.8zM62.5 272.3h.8v.8h-.8zM73.2 269.3h.8v.8h-.8zM69.8 267.3h.8v.8h-.8zM73.7 275.9h.8v.8h-.8zM72.9 272.1h.8v.8h-.8zM71.2 269.6h.8v.8h-.8zM74.1 272.1h.8v.8h-.8zM71.9 271.4h.8v.8h-.8zM78.4 275.5h.8v.8h-.8zM65.5 265.8h.8v.8h-.8zM63.9 269.6h.8v.8h-.8zM63.7 273.9h.8v.8h-.8zM61.1 274.2h.8v.8h-.8zM64.1 273.3h.8v.8h-.8zM70.3 271.3h.8v.8h-.8zM66.4 271.1h.8v.8h-.8zM67.7 269.7h.8v.8h-.8zM60.2 271.8h.8v.8h-.8zM65.7 271.4h.8v.8h-.8zM63.5 271.2h.8v.8h-.8zM69.1 270.5h.8v.8h-.8zM59.9 274.1h.8v.8h-.8zM74.9 273.5h.8v.8h-.8zM73.9 273.7h.8v.8h-.8zM62.6 276.4h.8v.8h-.8zM61.9 274.7h.8v.8h-.8zM64.9 270.0h.8v.8h-.8zM72.1 272.2h.8v.8h-.8zM65.9 268.9h.8v.8h-.8zM63.3 274.8h.8v.8h-.8zM73.8 273.3h.8v.8h-.8zM74.0 272.1h.8v.8h-.8zM63.1 273.4h.8v.8h-.8zM62.8 274.7h.8v.8h-.8zM69.8 269.6h.8v.8h-.8zM65.8 271.7h.8v.8h-.8zM73.3 272.6h.8v.8h-.8zM66.4 269.1h.8v.8h-.8zM60.2 273.7h.8v.8h-.8zM62.8 272.7h.8v.8h-.8zM74.3 272.4h.8v.8h-.8zM60.6 277.2h.8v.8h-.8zM74.2 273.9h.8v.8h-.8zM66.5 270.6h.8v.8h-.8zM64.1 272.7h.8v.8h-.8zM73.9 274.8h.8v.8h-.8zM77.0 273.1h.8v.8h-.8zM74.4 275.9h.8v.8h-.8zM74.4 273.9h.8v.8h-.8zM65.0 272.3h.8v.8h-.8zM68.9 270.8h.8v.8h-.8zM69.2 270.9h.8v.8h-.8zM71.3 270.4h.8v.8h-.8zM62.7 274.0h.8v.8h-.8zM65.5 267.6h.8v.8h-.8zM61.9 274.7h.8v.8h-.8zM62.6 275.4h.8v.8h-.8zM72.7 271.5h.8v.8h-.8zM63.8 272.8h.8v.8h-.8zM73.1 271.7h.8v.8h-.8zM70.0 270.6h.8v.8h-.8zM61.7 272.2h.8v.8h-.8zM64.6 272.0h.8v.8h-.8zM70.3 271.0h.8v.8h-.8zM63.3 275.2h.8v.8h-.8zM66.2 270.0h.8v.8h-.8zM70.6 269.6h.8v.8h-.8zM71.4 269.9h.8v.8h-.8zM73.9 272.5h.8v.8h-.8zM60.1 274.9h.8v.8h-.8zM71.0 268.4h.8v.8h-.8zM74.8 273.6h.8v.8h-.8zM62.9 274.3h.8v.8h-.8zM67.8 270.4h.8v.8h-.8zM76.6 275.1h.8v.8h-.8zM68.7 269.4h.8v.8h-.8zM62.8 277.1h.8v.8h-.8zM65.9 268.2h.8v.8h-.8zM63.3 272.9h.8v.8h-.8zM63.3 276.8h.8v.8h-.8zM74.2 274.4h.8v.8h-.8zM69.8 269.8h.8v.8h-.8zM74.0 272.5h.8v.8h-.8zM63.4 273.1h.8v.8h-.8zM63.3 274.6h.8v.8h-.8zM70.3 270.4h.8v.8h-.8zM75.6 276.0h.8v.8h-.8zM61.6 272.8h.8v.8h-.8zM65.2 271.3h.8v.8h-.8zM65.0 268.5h.8v.8h-.8zM62.8 270.9h.8v.8h-.8zM72.4 271.2h.8v.8h-.8zM73.7 275.7h.8v.8h-.8zM64.0 272.8h.8v.8h-.8zM72.4 271.6h.8v.8h-.8zM71.9 271.9h.8v.8h-.8zM70.2 270.8h.8v.8h-.8zM63.7 269.8h.8v.8h-.8zM62.7 277.5h.8v.8h-.8zM61.7 276.7h.8v.8h-.8zM59.5 275.7h.8v.8h-.8zM61.0 271.8h.8v.8h-.8zM63.8 271.1h.8v.8h-.8zM76.8 277.0h.8v.8h-.8zM60.9 276.5h.8v.8h-.8zM71.2 268.6h.8v.8h-.8zM73.6 275.7h.8v.8h-.8zM63.3 268.4h.8v.8h-.8zM63.6 272.0h.8v.8h-.8zM73.4 272.8h.8v.8h-.8zM66.0 270.9h.8v.8h-.8zM75.9 271.3h.8v.8h-.8zM66.5 269.4h.8v.8h-.8zM67.1 270.5h.8v.8h-.8zM74.4 274.9h.8v.8h-.8zM62.1 271.2h.8v.8h-.8zM70.1 269.3h.8v.8h-.8zM64.2 271.7h.8v.8h-.8zM72.8 274.3h.8v.8h-.8zM74.6 276.8h.8v.8h-.8zM73.4 276.2h.8v.8h-.8zM66.4 268.4h.8v.8h-.8zM75.9 273.0h.8v.8h-.8zM71.4 272.0h.8v.8h-.8zM62.8 273.8h.8v.8h-.8zM63.7 272.3h.8v.8h-.8zM63.5 270.4h.8v.8h-.8zM62.7 272.9h.8v.8h-.8zM62.2 277.6h.8v.8h-.8zM63.1 277.2h.8v.8h-.8zM69.3 271.2h.8v.8h-.8zM60.7 277.4h.8v.8h-.8zM69.0 270.7h.8v.8h-.8zM61.4 272.2h.8v.8h-.8zM77.1 272.3h.8v.8h-.8zM75.0 276.2h.8v.8h-.8zM69.0 270.9h.8v.8h-.8zM66.6 271.2h.8v.8h-.8zM63.0 272.8h.8v.8h-.8zM66.2 265.5h.8v.8h-.8zM64.4 270.7h.8v.8h-.8zM60.5 278.1h.8v.8h-.8zM60.6 275.5h.8v.8h-.8zM68.8 268.1h.8v.8h-.8zM63.8 270.4h.8v.8h-.8zM72.2 266.9h.8v.8h-.8zM69.8 269.8h.8v.8h-.8zM64.3 270.5h.8v.8h-.8zM73.0 270.2h.8v.8h-.8zM72.7 270.3h.8v.8h-.8zM64.5 270.1h.8v.8h-.8zM62.3 272.2h.8v.8h-.8zM62.1 273.8h.8v.8h-.8zM64.2 272.3h.8v.8h-.8zM66.1 269.7h.8v.8h-.8zM75.5 277.3h.8v.8h-.8zM66.3 271.1h.8v.8h-.8zM69.2 270.3h.8v.8h-.8z" fill="#000" fill-opacity="0.42"/>
<ellipse cx="78.50" cy="280.70" rx="6.00" ry="0.90" fill="#444" fill-opacity="0.65" stroke="#111" stroke-width="0.9"/>
<path d="M61.90 273.68A6.70 6.20 0 0 1 74.67 274.20" fill="none" stroke="#111" stroke-width="1.3" stroke-opacity="0.75"/>
<ellipse cx="68.20" cy="275.80" rx="5.6" ry="5.1" fill="#9e9e9e" stroke="#111" stroke-width="1.3"/>
<ellipse cx="68.20" cy="276.10" rx="4.10" ry="3.60" fill="#bdbdbd" stroke="#444" stroke-width="0.6"/>
<ellipse cx="68.20" cy="276.30" rx="2.60" ry="2.10" fill="#d6d6d6" stroke="#777" stroke-width="0.5"/>
<path d="M76.40 282.20V237.70H103.50V282.20" fill="none" stroke="#777" stroke-width="0.9"/>
<text x="102.10" y="236.50" font-size="4.5" text-anchor="end" fill="#333" textLength="7.4" lengthAdjust="spacingAndGlyphs" >P13</text>
<path d="M59.50 282.20V229.90H112.20V282.20Z" fill="none" stroke="#222" stroke-width="1.2"/>
<line x1="56.30" y1="232.55" x2="59.50" y2="232.55" stroke="#333" stroke-width="0.7"/>
<text x="53.20" y="234.15" font-size="4.4" text-anchor="end" fill="#333" textLength="6.1" lengthAdjust="spacingAndGlyphs" >250</text>
<line x1="56.30" y1="242.45" x2="59.50" y2="242.45" stroke="#333" stroke-width="0.7"/>
<text x="53.20" y="244.05" font-size="4.4" text-anchor="end" fill="#333" textLength="6.1" lengthAdjust="spacingAndGlyphs" >200</text>
<line x1="56.30" y1="252.35" x2="59.50" y2="252.35" stroke="#333" stroke-width="0.7"/>
<text x="53.20" y="253.95" font-size="4.4" text-anchor="end" fill="#333" textLength="6.1" lengthAdjust="spacingAndGlyphs" >150</text>
<line x1="56.30" y1="262.25" x2="59.50" y2="262.25" stroke="#333" stroke-width="0.7"/>
<text x="53.20" y="263.85" font-size="4.4" text-anchor="end" fill="#333" textLength="6.1" lengthAdjust="spacingAndGlyphs" >100</text>
<line x1="56.30" y1="272.15" x2="59.50" y2="272.15" stroke="#333" stroke-width="0.7"/>
<text x="53.20" y="273.75" font-size="4.4" text-anchor="end" fill="#333" textLength="4.1" lengthAdjust="spacingAndGlyphs" >50</text>
<line x1="57.80" y1="232.55" x2="59.50" y2="232.55" stroke="#333" stroke-width="0.6"/>
<line x1="57.80" y1="234.53" x2="59.50" y2="234.53" stroke="#333" stroke-width="0.6"/>
<line x1="57.80" y1="236.51" x2="59.50" y2="236.51" stroke="#333" stroke-width="0.6"/>
<line x1="57.80" y1="238.49" x2="59.50" y2="238.49" stroke="#333" stroke-width="0.6"/>
<line x1="57.80" y1="240.47" x2="59.50" y2="240.47" stroke="#333" stroke-width="0.6"/>
<line x1="57.80" y1="242.45" x2="59.50" y2="242.45" stroke="#333" stroke-width="0.6"/>
<line x1="57.80" y1="244.43" x2="59.50" y2="244.43" stroke="#333" stroke-width="0.6"/>
<line x1="57.80" y1="246.41" x2="59.50" y2="246.41" stroke="#333" stroke-width="0.6"/>
<line x1="57.80" y1="248.39" x2="59.50" y2="248.39" stroke="#333" stroke-width="0.6"/>
<line x1="57.80" y1="250.37" x2="59.50" y2="250.37" stroke="#333" stroke-width="0.6"/>
<line x1="57.80" y1="252.35" x2="59.50" y2="252.35" stroke="#333" stroke-width="0.6"/>
<line x1="57.80" y1="254.33" x2="59.50" y2="254.33" stroke="#333" stroke-width="0.6"/>
<line x1="57.80" y1="256.31" x2="59.50" y2="256.31" stroke="#333" stroke-width="0.6"/>
<line x1="57.80" y1="258.29" x2="59.50" y2="258.29" stroke="#333" stroke-width="0.6"/>
<line x1="57.80" y1="260.27" x2="59.50" y2="260.27" stroke="#333" stroke-width="0.6"/>
<line x1="57.80" y1="262.25" x2="59.50" y2="262.25" stroke="#333" stroke-width="0.6"/>
<line x1="57.80" y1="264.23" x2="59.50" y2="264.23" stroke="#333" stroke-width="0.6"/>
<line x1="57.80" y1="266.21" x2="59.50" y2="266.21" stroke="#333" stroke-width="0.6"/>
<line x1="57.80" y1="268.19" x2="59.50" y2="268.19" stroke="#333" stroke-width="0.6"/>
<line x1="57.80" y1="270.17" x2="59.50" y2="270.17" stroke="#333" stroke-width="0.6"/>
<line x1="57.80" y1="272.15" x2="59.50" y2="272.15" stroke="#333" stroke-width="0.6"/>
<line x1="57.80" y1="274.13" x2="59.50" y2="274.13" stroke="#333" stroke-width="0.6"/>
<line x1="57.80" y1="276.11" x2="59.50" y2="276.11" stroke="#333" stroke-width="0.6"/>
<line x1="57.80" y1="278.09" x2="59.50" y2="278.09" stroke="#333" stroke-width="0.6"/>
<line x1="57.80" y1="280.07" x2="59.50" y2="280.07" stroke="#333" stroke-width="0.6"/>
<line x1="60.00" y1="282.20" x2="60.00" y2="285.20" stroke="#333" stroke-width="0.6"/>
<line x1="63.50" y1="282.20" x2="63.50" y2="285.20" stroke="#333" stroke-width="0.6"/>
<line x1="66.10" y1="282.20" x2="66.10" y2="285.20" stroke="#333" stroke-width="0.6"/>
<line x1="67.66" y1="282.20" x2="67.66" y2="284.30" stroke="#333" stroke-width="0.65"/>
<line x1="68.62" y1="282.20" x2="68.62" y2="284.30" stroke="#333" stroke-width="0.65"/>
<line x1="69.43" y1="282.20" x2="69.43" y2="284.30" stroke="#333" stroke-width="0.65"/>
<line x1="70.13" y1="282.20" x2="70.13" y2="284.30" stroke="#333" stroke-width="0.65"/>
<line x1="70.75" y1="282.20" x2="70.75" y2="284.30" stroke="#333" stroke-width="0.65"/>
<line x1="71.30" y1="282.20" x2="71.30" y2="285.80" stroke="#222" stroke-width="0.7"/>
<line x1="74.94" y1="282.20" x2="74.94" y2="284.30" stroke="#333" stroke-width="0.65"/>
<line x1="77.07" y1="282.20" x2="77.07" y2="284.30" stroke="#333" stroke-width="0.65"/>
<line x1="78.58" y1="282.20" x2="78.58" y2="284.30" stroke="#333" stroke-width="0.65"/>
<line x1="79.76" y1="282.20" x2="79.76" y2="284.30" stroke="#333" stroke-width="0.65"/>
<line x1="80.72" y1="282.20" x2="80.72" y2="284.30" stroke="#333" stroke-width="0.65"/>
<line x1="81.53" y1="282.20" x2="81.53" y2="284.30" stroke="#333" stroke-width="0.65"/>
<line x1="82.23" y1="282.20" x2="82.23" y2="284.30" stroke="#333" stroke-width="0.65"/>
<line x1="82.85" y1="282.20" x2="82.85" y2="284.30" stroke="#333" stroke-width="0.65"/>
<line x1="83.40" y1="282.20" x2="83.40" y2="285.80" stroke="#222" stroke-width="0.7"/>
<line x1="87.04" y1="282.20" x2="87.04" y2="284.30" stroke="#333" stroke-width="0.65"/>
<line x1="89.17" y1="282.20" x2="89.17" y2="284.30" stroke="#333" stroke-width="0.65"/>
<line x1="90.68" y1="282.20" x2="90.68" y2="284.30" stroke="#333" stroke-width="0.65"/>
<line x1="91.86" y1="282.20" x2="91.86" y2="284.30" stroke="#333" stroke-width="0.65"/>
<line x1="92.82" y1="282.20" x2="92.82" y2="284.30" stroke="#333" stroke-width="0.65"/>
<line x1="93.63" y1="282.20" x2="93.63" y2="284.30" stroke="#333" stroke-width="0.65"/>
<line x1="94.33" y1="282.20" x2="94.33" y2="284.30" stroke="#333" stroke-width="0.65"/>
<line x1="94.95" y1="282.20" x2="94.95" y2="284.30" stroke="#333" stroke-width="0.65"/>
<line x1="95.50" y1="282.20" x2="95.50" y2="285.80" stroke="#222" stroke-width="0.7"/>
<line x1="99.14" y1="282.20" x2="99.14" y2="284.30" stroke="#333" stroke-width="0.65"/>
<line x1="101.27" y1="282.20" x2="101.27" y2="284.30" stroke="#333" stroke-width="0.65"/>
<line x1="102.78" y1="282.20" x2="102.78" y2="284.30" stroke="#333" stroke-width="0.65"/>
<line x1="103.96" y1="282.20" x2="103.96" y2="284.30" stroke="#333" stroke-width="0.65"/>
<line x1="104.92" y1="282.20" x2="104.92" y2="284.30" stroke="#333" stroke-width="0.65"/>
<line x1="105.73" y1="282.20" x2="105.73" y2="284.30" stroke="#333" stroke-width="0.65"/>
<line x1="106.43" y1="282.20" x2="106.43" y2="284.30" stroke="#333" stroke-width="0.65"/>
<line x1="107.05" y1="282.20" x2="107.05" y2="284.30" stroke="#333" stroke-width="0.65"/>
<line x1="107.60" y1="282.20" x2="107.60" y2="285.80" stroke="#222" stroke-width="0.7"/>
<line x1="111.24" y1="282.20" x2="111.24" y2="284.30" stroke="#333" stroke-width="0.65"/>
<text x="57.50" y="293.90" font-size="4.4" text-anchor="middle" fill="#333" textLength="8.8" lengthAdjust="spacingAndGlyphs" >−256</text>
<text x="65.20" y="291.60" font-size="4.6" text-anchor="middle" fill="#333" >0</text>
<text x="67.40" y="292.00" font-size="4.6" fill="#333"><tspan textLength="4.0" lengthAdjust="spacingAndGlyphs">10</tspan><tspan font-size="2.6" dy="-2.4" dx="0.3">2</tspan></text>
<text x="79.50" y="292.00" font-size="4.6" fill="#333"><tspan textLength="4.0" lengthAdjust="spacingAndGlyphs">10</tspan><tspan font-size="2.6" dy="-2.4" dx="0.3">3</tspan></text>
<text x="91.60" y="292.00" font-size="4.6" fill="#333"><tspan textLength="4.0" lengthAdjust="spacingAndGlyphs">10</tspan><tspan font-size="2.6" dy="-2.4" dx="0.3">4</tspan></text>
<text x="103.70" y="292.00" font-size="4.6" fill="#333"><tspan textLength="4.0" lengthAdjust="spacingAndGlyphs">10</tspan><tspan font-size="2.6" dy="-2.4" dx="0.3">5</tspan></text>
<text x="68.60" y="300.70" font-size="7.2" text-anchor="start" fill="#111" textLength="34.4" lengthAdjust="spacingAndGlyphs" >CD45 APC-A</text>
<text transform="translate(42.10,255.50) rotate(-90)" font-size="6.4" text-anchor="middle" fill="#111" textLength="16.3" lengthAdjust="spacingAndGlyphs" >SSC-A</text>
<text transform="translate(42.00,237.20) rotate(-90)" font-size="4.2" text-anchor="middle" fill="#333" textLength="15.7" lengthAdjust="spacingAndGlyphs" >(x 1,000)</text>
<text x="86.10" y="223.90" font-size="7.2" text-anchor="middle" fill="#111" textLength="13.12" lengthAdjust="spacingAndGlyphs" >1.6%</text>
<ellipse cx="154.90" cy="270.20" rx="5" ry="7" fill="url(#hz)" opacity="0.4"/>
<ellipse cx="154.20" cy="271.00" rx="4.2" ry="4" fill="url(#hz)" opacity="0.6"/>
<path d="M151.5 274.9h.8v.8h-.8zM153.8 279.4h.8v.8h-.8zM156.4 280.8h.8v.8h-.8zM154.7 276.6h.8v.8h-.8zM155.7 273.6h.8v.8h-.8zM158.7 276.0h.8v.8h-.8zM158.2 272.4h.8v.8h-.8zM150.1 270.9h.8v.8h-.8zM157.2 280.5h.8v.8h-.8zM152.7 268.7h.8v.8h-.8zM154.2 277.3h.8v.8h-.8zM155.7 280.5h.8v.8h-.8zM154.8 281.2h.8v.8h-.8zM161.8 276.7h.8v.8h-.8zM150.8 267.2h.8v.8h-.8zM156.8 246.8h.8v.8h-.8zM154.4 279.4h.8v.8h-.8zM154.4 260.4h.8v.8h-.8zM159.0 280.7h.8v.8h-.8zM154.2 273.3h.8v.8h-.8zM161.2 276.9h.8v.8h-.8zM155.8 279.4h.8v.8h-.8zM155.3 272.6h.8v.8h-.8zM158.2 265.5h.8v.8h-.8zM154.2 272.8h.8v.8h-.8zM157.9 269.1h.8v.8h-.8zM153.5 277.8h.8v.8h-.8zM152.0 272.3h.8v.8h-.8zM148.2 274.5h.8v.8h-.8zM156.6 273.3h.8v.8h-.8zM153.2 275.3h.8v.8h-.8zM151.9 271.3h.8v.8h-.8zM148.5 275.2h.8v.8h-.8zM160.3 274.0h.8v.8h-.8zM154.0 278.3h.8v.8h-.8zM156.2 276.4h.8v.8h-.8zM157.7 276.3h.8v.8h-.8zM154.8 273.6h.8v.8h-.8zM158.3 280.7h.8v.8h-.8zM152.3 279.6h.8v.8h-.8zM150.9 279.0h.8v.8h-.8zM158.2 271.0h.8v.8h-.8zM155.7 276.7h.8v.8h-.8zM151.4 281.3h.8v.8h-.8zM152.7 281.2h.8v.8h-.8zM148.1 270.1h.8v.8h-.8zM154.6 276.1h.8v.8h-.8zM154.8 271.8h.8v.8h-.8zM156.5 268.0h.8v.8h-.8zM153.9 278.6h.8v.8h-.8zM155.7 270.0h.8v.8h-.8zM155.3 261.0h.8v.8h-.8zM151.9 277.0h.8v.8h-.8zM156.9 260.7h.8v.8h-.8zM155.2 270.1h.8v.8h-.8zM157.0 276.9h.8v.8h-.8zM156.2 275.5h.8v.8h-.8zM161.6 274.5h.8v.8h-.8zM156.0 278.8h.8v.8h-.8zM158.7 256.0h.8v.8h-.8zM155.7 269.7h.8v.8h-.8zM158.8 271.3h.8v.8h-.8zM150.2 281.1h.8v.8h-.8zM153.4 276.6h.8v.8h-.8zM158.6 279.4h.8v.8h-.8zM160.4 271.3h.8v.8h-.8zM157.4 278.3h.8v.8h-.8zM148.9 280.2h.8v.8h-.8zM156.0 272.3h.8v.8h-.8zM155.6 266.4h.8v.8h-.8zM161.4 253.6h.8v.8h-.8zM152.3 278.0h.8v.8h-.8zM157.3 277.6h.8v.8h-.8zM152.6 259.0h.8v.8h-.8zM150.5 259.0h.8v.8h-.8zM155.2 276.3h.8v.8h-.8zM159.6 278.5h.8v.8h-.8zM152.3 277.5h.8v.8h-.8zM154.2 278.9h.8v.8h-.8zM153.2 279.7h.8v.8h-.8zM159.0 265.4h.8v.8h-.8zM149.9 270.7h.8v.8h-.8zM154.8 276.2h.8v.8h-.8zM153.3 279.1h.8v.8h-.8zM154.7 277.7h.8v.8h-.8zM152.2 279.1h.8v.8h-.8zM158.3 279.1h.8v.8h-.8zM158.6 256.1h.8v.8h-.8zM151.2 267.4h.8v.8h-.8zM156.1 264.6h.8v.8h-.8zM158.2 266.1h.8v.8h-.8zM155.4 273.2h.8v.8h-.8zM155.1 271.3h.8v.8h-.8zM159.8 276.1h.8v.8h-.8zM151.6 277.7h.8v.8h-.8zM153.3 280.9h.8v.8h-.8zM154.6 276.3h.8v.8h-.8zM149.7 267.8h.8v.8h-.8zM157.1 266.0h.8v.8h-.8zM150.8 249.5h.8v.8h-.8zM161.8 276.0h.8v.8h-.8zM156.7 267.4h.8v.8h-.8zM154.8 273.3h.8v.8h-.8zM153.5 280.8h.8v.8h-.8zM154.6 277.2h.8v.8h-.8zM152.2 278.7h.8v.8h-.8zM156.5 278.3h.8v.8h-.8zM150.9 268.9h.8v.8h-.8zM157.0 272.9h.8v.8h-.8zM159.9 267.9h.8v.8h-.8zM148.4 270.4h.8v.8h-.8zM149.1 275.8h.8v.8h-.8zM151.6 278.5h.8v.8h-.8zM152.8 278.2h.8v.8h-.8zM156.6 249.8h.8v.8h-.8zM149.6 270.7h.8v.8h-.8zM151.9 270.1h.8v.8h-.8zM154.8 271.8h.8v.8h-.8zM159.6 277.1h.8v.8h-.8zM153.2 278.6h.8v.8h-.8zM159.9 276.4h.8v.8h-.8zM156.4 276.9h.8v.8h-.8zM158.2 260.0h.8v.8h-.8zM156.0 278.6h.8v.8h-.8zM154.7 271.4h.8v.8h-.8zM149.8 273.1h.8v.8h-.8zM154.9 273.4h.8v.8h-.8zM159.4 249.3h.8v.8h-.8zM152.1 259.2h.8v.8h-.8zM154.6 272.4h.8v.8h-.8zM152.5 280.1h.8v.8h-.8zM158.5 279.7h.8v.8h-.8zM157.4 266.3h.8v.8h-.8zM152.7 279.4h.8v.8h-.8zM152.7 266.3h.8v.8h-.8zM155.3 273.1h.8v.8h-.8zM152.6 279.4h.8v.8h-.8zM156.7 279.5h.8v.8h-.8zM154.0 280.7h.8v.8h-.8zM152.5 277.1h.8v.8h-.8zM157.5 276.8h.8v.8h-.8zM159.6 275.9h.8v.8h-.8zM154.1 276.9h.8v.8h-.8zM155.2 275.6h.8v.8h-.8zM156.6 272.0h.8v.8h-.8zM157.6 279.9h.8v.8h-.8zM157.0 273.0h.8v.8h-.8zM152.4 267.2h.8v.8h-.8zM158.6 276.8h.8v.8h-.8zM154.0 279.4h.8v.8h-.8zM155.7 272.5h.8v.8h-.8zM155.5 246.2h.8v.8h-.8zM153.4 258.4h.8v.8h-.8zM152.4 271.1h.8v.8h-.8zM157.7 277.9h.8v.8h-.8zM151.7 275.4h.8v.8h-.8zM158.5 276.2h.8v.8h-.8zM153.5 275.7h.8v.8h-.8zM154.3 278.4h.8v.8h-.8zM156.7 270.2h.8v.8h-.8zM158.1 274.6h.8v.8h-.8zM150.4 276.5h.8v.8h-.8zM155.0 273.7h.8v.8h-.8zM155.3 270.4h.8v.8h-.8zM152.7 277.7h.8v.8h-.8zM156.9 279.1h.8v.8h-.8zM156.4 278.6h.8v.8h-.8zM149.1 273.8h.8v.8h-.8zM153.4 269.1h.8v.8h-.8zM155.3 274.5h.8v.8h-.8zM161.5 259.5h.8v.8h-.8zM154.5 278.8h.8v.8h-.8zM159.1 280.6h.8v.8h-.8zM158.4 270.7h.8v.8h-.8zM157.0 281.2h.8v.8h-.8zM159.1 280.8h.8v.8h-.8zM157.3 276.0h.8v.8h-.8zM152.2 247.7h.8v.8h-.8zM155.4 270.1h.8v.8h-.8zM152.8 277.1h.8v.8h-.8zM152.4 279.3h.8v.8h-.8zM155.5 278.3h.8v.8h-.8zM154.6 262.0h.8v.8h-.8zM156.8 277.2h.8v.8h-.8zM149.8 270.9h.8v.8h-.8zM152.9 280.1h.8v.8h-.8zM161.6 264.3h.8v.8h-.8zM152.9 277.9h.8v.8h-.8zM157.0 281.4h.8v.8h-.8zM151.1 277.2h.8v.8h-.8zM153.7 253.7h.8v.8h-.8zM151.3 266.8h.8v.8h-.8zM159.2 277.7h.8v.8h-.8zM147.7 259.0h.8v.8h-.8zM160.3 280.8h.8v.8h-.8zM155.0 275.1h.8v.8h-.8zM153.8 272.1h.8v.8h-.8zM155.3 267.0h.8v.8h-.8zM155.3 267.7h.8v.8h-.8zM157.1 274.6h.8v.8h-.8zM157.5 254.4h.8v.8h-.8zM155.2 278.6h.8v.8h-.8zM154.1 261.0h.8v.8h-.8zM158.1 266.0h.8v.8h-.8zM157.8 281.1h.8v.8h-.8zM152.0 280.3h.8v.8h-.8zM158.0 281.3h.8v.8h-.8zM156.1 281.2h.8v.8h-.8zM153.4 280.8h.8v.8h-.8zM157.1 273.5h.8v.8h-.8zM156.1 271.5h.8v.8h-.8zM154.1 277.9h.8v.8h-.8zM158.4 273.5h.8v.8h-.8zM157.6 257.4h.8v.8h-.8zM155.9 279.7h.8v.8h-.8zM158.6 276.1h.8v.8h-.8zM154.5 267.3h.8v.8h-.8zM159.2 264.0h.8v.8h-.8zM158.2 274.1h.8v.8h-.8zM154.4 277.6h.8v.8h-.8zM154.1 247.3h.8v.8h-.8zM158.4 281.2h.8v.8h-.8zM154.9 273.1h.8v.8h-.8zM152.3 278.8h.8v.8h-.8zM154.2 278.2h.8v.8h-.8zM151.5 276.1h.8v.8h-.8zM156.3 259.1h.8v.8h-.8zM154.9 280.9h.8v.8h-.8zM151.3 281.3h.8v.8h-.8zM157.6 256.3h.8v.8h-.8zM157.0 276.3h.8v.8h-.8zM162.3 273.3h.8v.8h-.8zM153.9 275.0h.8v.8h-.8zM154.1 268.6h.8v.8h-.8zM156.1 270.9h.8v.8h-.8zM150.2 280.4h.8v.8h-.8zM151.9 281.3h.8v.8h-.8zM156.8 267.9h.8v.8h-.8zM158.0 278.7h.8v.8h-.8zM157.2 280.0h.8v.8h-.8zM158.9 269.2h.8v.8h-.8zM153.7 272.8h.8v.8h-.8zM149.3 281.1h.8v.8h-.8zM152.5 277.2h.8v.8h-.8zM155.7 276.9h.8v.8h-.8zM158.9 257.6h.8v.8h-.8zM155.2 258.0h.8v.8h-.8zM157.3 269.6h.8v.8h-.8zM152.3 269.1h.8v.8h-.8zM156.1 280.2h.8v.8h-.8zM154.5 266.1h.8v.8h-.8zM152.8 281.0h.8v.8h-.8zM151.8 280.0h.8v.8h-.8zM159.7 278.4h.8v.8h-.8zM152.1 266.4h.8v.8h-.8zM152.9 270.6h.8v.8h-.8zM153.8 276.6h.8v.8h-.8zM158.6 269.7h.8v.8h-.8zM159.5 279.0h.8v.8h-.8zM150.8 277.3h.8v.8h-.8zM156.9 278.9h.8v.8h-.8zM147.6 280.8h.8v.8h-.8zM153.7 278.9h.8v.8h-.8zM153.9 279.5h.8v.8h-.8zM153.6 280.3h.8v.8h-.8zM154.9 277.4h.8v.8h-.8zM158.6 281.0h.8v.8h-.8zM152.2 259.7h.8v.8h-.8zM153.7 280.4h.8v.8h-.8zM163.1 259.8h.8v.8h-.8zM151.3 279.8h.8v.8h-.8zM154.6 275.3h.8v.8h-.8zM151.1 274.4h.8v.8h-.8zM156.2 269.0h.8v.8h-.8zM154.0 273.0h.8v.8h-.8zM156.9 275.8h.8v.8h-.8zM153.1 265.8h.8v.8h-.8zM154.8 263.9h.8v.8h-.8zM157.8 271.8h.8v.8h-.8zM154.4 268.0h.8v.8h-.8zM154.9 276.6h.8v.8h-.8zM155.1 280.3h.8v.8h-.8zM157.9 264.2h.8v.8h-.8zM157.2 271.0h.8v.8h-.8zM147.4 280.0h.8v.8h-.8zM159.5 277.7h.8v.8h-.8zM156.0 278.6h.8v.8h-.8zM156.4 272.5h.8v.8h-.8zM160.4 276.4h.8v.8h-.8zM157.4 279.9h.8v.8h-.8zM157.8 277.6h.8v.8h-.8zM157.1 275.1h.8v.8h-.8zM157.1 275.0h.8v.8h-.8zM156.7 280.9h.8v.8h-.8zM149.2 273.2h.8v.8h-.8zM154.8 280.4h.8v.8h-.8zM154.1 280.2h.8v.8h-.8zM153.1 278.6h.8v.8h-.8zM154.5 280.5h.8v.8h-.8zM156.2 271.0h.8v.8h-.8zM153.9 266.1h.8v.8h-.8zM151.1 277.8h.8v.8h-.8zM156.1 265.5h.8v.8h-.8zM154.4 270.1h.8v.8h-.8zM153.8 280.3h.8v.8h-.8zM153.0 275.4h.8v.8h-.8zM155.1 271.6h.8v.8h-.8zM154.6 281.2h.8v.8h-.8zM152.3 276.0h.8v.8h-.8zM158.2 272.5h.8v.8h-.8zM153.0 267.9h.8v.8h-.8zM150.2 252.3h.8v.8h-.8zM149.3 269.0h.8v.8h-.8zM155.5 278.8h.8v.8h-.8zM153.3 269.9h.8v.8h-.8zM149.7 267.6h.8v.8h-.8zM152.0 277.9h.8v.8h-.8zM157.0 280.6h.8v.8h-.8zM158.8 275.2h.8v.8h-.8zM154.4 271.6h.8v.8h-.8zM157.9 272.2h.8v.8h-.8zM154.1 260.4h.8v.8h-.8zM154.2 270.1h.8v.8h-.8zM158.3 271.8h.8v.8h-.8zM152.6 260.9h.8v.8h-.8zM154.8 281.3h.8v.8h-.8zM153.7 277.1h.8v.8h-.8zM149.2 279.5h.8v.8h-.8zM149.5 268.3h.8v.8h-.8zM157.0 280.4h.8v.8h-.8zM155.5 268.7h.8v.8h-.8zM156.9 279.0h.8v.8h-.8zM157.3 279.7h.8v.8h-.8zM152.9 276.6h.8v.8h-.8zM159.6 276.6h.8v.8h-.8zM154.3 279.3h.8v.8h-.8zM156.9 262.1h.8v.8h-.8zM152.5 259.0h.8v.8h-.8zM157.9 273.7h.8v.8h-.8zM151.1 274.9h.8v.8h-.8zM154.0 247.3h.8v.8h-.8zM150.9 279.8h.8v.8h-.8zM158.9 276.1h.8v.8h-.8zM151.9 263.8h.8v.8h-.8zM154.2 273.5h.8v.8h-.8zM157.8 248.4h.8v.8h-.8zM155.2 271.5h.8v.8h-.8zM160.7 257.7h.8v.8h-.8zM153.5 260.9h.8v.8h-.8zM159.1 261.2h.8v.8h-.8zM153.1 272.2h.8v.8h-.8zM149.5 274.1h.8v.8h-.8zM156.2 245.9h.8v.8h-.8zM158.3 254.0h.8v.8h-.8zM157.4 279.1h.8v.8h-.8zM155.6 264.2h.8v.8h-.8zM157.0 279.6h.8v.8h-.8zM159.6 277.8h.8v.8h-.8zM156.4 273.4h.8v.8h-.8zM154.6 278.6h.8v.8h-.8zM154.9 271.0h.8v.8h-.8zM153.8 278.9h.8v.8h-.8zM157.5 271.2h.8v.8h-.8zM158.8 258.4h.8v.8h-.8zM153.3 268.8h.8v.8h-.8zM159.5 277.1h.8v.8h-.8zM156.7 279.6h.8v.8h-.8zM158.3 277.6h.8v.8h-.8zM152.1 281.0h.8v.8h-.8zM154.3 279.1h.8v.8h-.8zM154.1 281.2h.8v.8h-.8zM157.2 278.7h.8v.8h-.8zM153.9 269.0h.8v.8h-.8zM160.2 271.9h.8v.8h-.8zM153.6 264.9h.8v.8h-.8zM153.9 257.4h.8v.8h-.8zM153.0 280.8h.8v.8h-.8zM154.5 278.9h.8v.8h-.8zM157.5 278.6h.8v.8h-.8zM154.4 274.6h.8v.8h-.8zM160.1 267.3h.8v.8h-.8zM156.0 278.2h.8v.8h-.8zM161.2 265.9h.8v.8h-.8zM156.1 268.0h.8v.8h-.8zM156.7 272.0h.8v.8h-.8zM162.1 281.4h.8v.8h-.8zM159.5 279.8h.8v.8h-.8zM154.4 260.7h.8v.8h-.8zM152.5 279.4h.8v.8h-.8zM155.0 279.7h.8v.8h-.8zM154.4 281.0h.8v.8h-.8zM153.5 267.1h.8v.8h-.8zM154.1 276.0h.8v.8h-.8zM156.2 247.8h.8v.8h-.8zM148.4 279.7h.8v.8h-.8zM151.4 277.9h.8v.8h-.8zM158.9 255.3h.8v.8h-.8zM152.7 278.9h.8v.8h-.8zM158.5 269.5h.8v.8h-.8zM154.2 269.5h.8v.8h-.8zM158.0 265.0h.8v.8h-.8zM156.1 279.4h.8v.8h-.8zM156.3 267.8h.8v.8h-.8zM152.7 266.0h.8v.8h-.8zM150.7 279.2h.8v.8h-.8zM154.6 277.6h.8v.8h-.8zM154.9 273.0h.8v.8h-.8zM154.6 279.4h.8v.8h-.8zM160.2 276.2h.8v.8h-.8zM154.0 271.3h.8v.8h-.8zM153.0 276.8h.8v.8h-.8zM156.3 271.7h.8v.8h-.8zM155.3 265.3h.8v.8h-.8zM152.3 271.3h.8v.8h-.8zM149.5 267.4h.8v.8h-.8zM157.0 274.5h.8v.8h-.8zM151.5 280.0h.8v.8h-.8zM155.0 280.6h.8v.8h-.8zM156.2 277.0h.8v.8h-.8zM153.9 265.0h.8v.8h-.8zM168.4 280.8h.8v.8h-.8zM169.4 281.1h.8v.8h-.8zM158.7 279.0h.8v.8h-.8zM163.9 281.0h.8v.8h-.8zM164.8 281.0h.8v.8h-.8zM164.3 276.8h.8v.8h-.8zM163.4 275.7h.8v.8h-.8zM162.2 275.9h.8v.8h-.8zM160.8 278.1h.8v.8h-.8zM166.0 279.4h.8v.8h-.8zM162.3 281.3h.8v.8h-.8zM165.4 278.0h.8v.8h-.8zM164.3 280.9h.8v.8h-.8zM162.8 279.5h.8v.8h-.8zM162.9 279.6h.8v.8h-.8zM168.0 280.8h.8v.8h-.8zM166.5 276.7h.8v.8h-.8zM166.2 281.3h.8v.8h-.8zM156.3 279.2h.8v.8h-.8zM161.7 280.4h.8v.8h-.8zM160.4 276.4h.8v.8h-.8zM146.1 267.9h.8v.8h-.8zM153.7 267.9h.8v.8h-.8zM156.8 270.9h.8v.8h-.8zM155.9 267.5h.8v.8h-.8zM151.4 271.9h.8v.8h-.8zM148.8 275.2h.8v.8h-.8zM148.0 275.8h.8v.8h-.8zM162.3 277.9h.8v.8h-.8zM153.2 270.4h.8v.8h-.8zM154.6 270.9h.8v.8h-.8zM151.5 267.7h.8v.8h-.8zM152.5 271.6h.8v.8h-.8zM162.8 278.7h.8v.8h-.8zM153.6 268.2h.8v.8h-.8zM152.3 270.0h.8v.8h-.8zM148.2 273.4h.8v.8h-.8zM150.2 273.1h.8v.8h-.8zM159.8 272.9h.8v.8h-.8zM149.3 271.0h.8v.8h-.8zM148.7 275.5h.8v.8h-.8zM160.1 270.4h.8v.8h-.8zM156.6 270.9h.8v.8h-.8zM160.9 274.0h.8v.8h-.8zM160.6 272.8h.8v.8h-.8zM148.1 274.1h.8v.8h-.8zM149.2 276.6h.8v.8h-.8zM150.1 273.2h.8v.8h-.8zM152.0 270.9h.8v.8h-.8zM162.0 274.7h.8v.8h-.8zM159.2 276.3h.8v.8h-.8zM147.9 275.2h.8v.8h-.8zM148.8 269.2h.8v.8h-.8zM156.4 268.7h.8v.8h-.8zM153.9 267.4h.8v.8h-.8zM148.9 272.6h.8v.8h-.8zM158.7 273.4h.8v.8h-.8zM147.9 274.9h.8v.8h-.8zM154.9 271.0h.8v.8h-.8zM159.6 271.2h.8v.8h-.8zM148.6 272.9h.8v.8h-.8zM151.7 270.2h.8v.8h-.8zM153.1 270.8h.8v.8h-.8zM148.5 275.3h.8v.8h-.8zM159.5 271.8h.8v.8h-.8zM157.8 270.1h.8v.8h-.8zM154.5 270.0h.8v.8h-.8zM155.3 267.4h.8v.8h-.8zM153.4 271.4h.8v.8h-.8zM160.9 277.7h.8v.8h-.8zM152.4 271.5h.8v.8h-.8zM156.3 270.9h.8v.8h-.8zM150.4 273.0h.8v.8h-.8zM151.7 270.3h.8v.8h-.8zM158.5 269.3h.8v.8h-.8zM147.3 274.3h.8v.8h-.8zM162.2 274.3h.8v.8h-.8zM151.8 270.6h.8v.8h-.8zM148.5 271.9h.8v.8h-.8zM159.2 271.9h.8v.8h-.8zM154.7 270.3h.8v.8h-.8zM162.0 270.3h.8v.8h-.8zM159.9 277.2h.8v.8h-.8zM160.4 275.4h.8v.8h-.8zM160.4 274.2h.8v.8h-.8zM152.2 270.4h.8v.8h-.8zM159.4 276.7h.8v.8h-.8zM148.5 274.2h.8v.8h-.8zM149.7 271.5h.8v.8h-.8zM153.3 270.6h.8v.8h-.8zM148.1 277.2h.8v.8h-.8zM147.3 276.8h.8v.8h-.8zM153.7 269.1h.8v.8h-.8zM160.7 276.8h.8v.8h-.8zM159.3 275.0h.8v.8h-.8zM149.4 276.5h.8v.8h-.8zM155.9 270.7h.8v.8h-.8zM147.9 275.0h.8v.8h-.8zM160.1 272.3h.8v.8h-.8zM148.9 275.2h.8v.8h-.8zM155.8 268.8h.8v.8h-.8zM160.5 275.8h.8v.8h-.8zM148.5 276.3h.8v.8h-.8zM152.2 270.3h.8v.8h-.8zM151.1 271.6h.8v.8h-.8zM147.3 276.4h.8v.8h-.8zM153.7 271.3h.8v.8h-.8zM149.1 276.7h.8v.8h-.8zM152.1 271.9h.8v.8h-.8zM149.4 275.2h.8v.8h-.8zM164.7 275.5h.8v.8h-.8zM155.2 270.1h.8v.8h-.8zM159.7 276.9h.8v.8h-.8zM147.5 276.9h.8v.8h-.8zM148.7 274.8h.8v.8h-.8zM148.8 270.7h.8v.8h-.8zM146.6 273.9h.8v.8h-.8zM147.2 271.3h.8v.8h-.8zM160.1 277.9h.8v.8h-.8zM149.4 274.3h.8v.8h-.8zM158.6 272.0h.8v.8h-.8zM149.7 273.2h.8v.8h-.8zM149.1 275.0h.8v.8h-.8zM152.3 270.4h.8v.8h-.8zM149.5 273.1h.8v.8h-.8zM149.4 272.4h.8v.8h-.8zM152.6 271.4h.8v.8h-.8zM148.8 276.0h.8v.8h-.8zM149.3 277.5h.8v.8h-.8zM153.8 271.0h.8v.8h-.8zM160.3 275.5h.8v.8h-.8zM152.0 270.8h.8v.8h-.8zM152.8 271.4h.8v.8h-.8zM148.9 274.7h.8v.8h-.8zM149.0 275.0h.8v.8h-.8zM147.6 275.6h.8v.8h-.8zM156.6 271.3h.8v.8h-.8zM159.0 271.0h.8v.8h-.8zM154.1 271.3h.8v.8h-.8zM152.5 268.2h.8v.8h-.8zM147.2 272.6h.8v.8h-.8zM151.5 271.3h.8v.8h-.8zM150.0 272.1h.8v.8h-.8zM159.7 275.6h.8v.8h-.8zM153.4 269.3h.8v.8h-.8zM147.6 271.6h.8v.8h-.8zM149.0 273.2h.8v.8h-.8zM156.3 270.9h.8v.8h-.8zM161.2 276.6h.8v.8h-.8zM159.4 276.9h.8v.8h-.8zM161.8 274.6h.8v.8h-.8zM148.8 273.1h.8v.8h-.8zM144.7 277.3h.8v.8h-.8zM155.1 271.0h.8v.8h-.8zM160.5 275.3h.8v.8h-.8zM159.3 277.1h.8v.8h-.8zM150.0 272.6h.8v.8h-.8zM160.3 277.9h.8v.8h-.8zM160.5 276.6h.8v.8h-.8zM160.5 273.9h.8v.8h-.8zM160.1 273.6h.8v.8h-.8zM149.1 273.0h.8v.8h-.8zM154.6 269.0h.8v.8h-.8zM160.1 275.1h.8v.8h-.8zM145.5 272.4h.8v.8h-.8zM155.5 271.5h.8v.8h-.8zM159.2 273.7h.8v.8h-.8zM158.8 271.1h.8v.8h-.8zM159.0 271.0h.8v.8h-.8zM159.5 273.9h.8v.8h-.8zM161.0 275.2h.8v.8h-.8zM157.3 272.4h.8v.8h-.8zM155.3 270.7h.8v.8h-.8zM153.4 270.4h.8v.8h-.8zM149.5 272.7h.8v.8h-.8zM146.6 278.3h.8v.8h-.8zM147.6 275.5h.8v.8h-.8zM160.2 272.7h.8v.8h-.8zM150.2 270.3h.8v.8h-.8zM156.8 270.8h.8v.8h-.8zM152.9 271.4h.8v.8h-.8zM148.5 272.7h.8v.8h-.8zM160.9 273.5h.8v.8h-.8zM155.5 269.5h.8v.8h-.8zM149.6 273.4h.8v.8h-.8zM161.9 274.6h.8v.8h-.8zM160.0 276.1h.8v.8h-.8zM148.0 275.7h.8v.8h-.8zM147.4 273.4h.8v.8h-.8zM161.2 276.1h.8v.8h-.8zM156.2 270.6h.8v.8h-.8zM147.9 274.7h.8v.8h-.8zM149.0 271.6h.8v.8h-.8zM148.6 274.2h.8v.8h-.8zM148.8 271.6h.8v.8h-.8zM156.7 270.2h.8v.8h-.8zM150.5 271.7h.8v.8h-.8zM146.3 278.1h.8v.8h-.8zM158.4 270.0h.8v.8h-.8zM148.6 276.8h.8v.8h-.8zM149.2 277.0h.8v.8h-.8zM152.4 270.5h.8v.8h-.8zM157.2 271.6h.8v.8h-.8zM158.2 271.4h.8v.8h-.8zM161.1 276.0h.8v.8h-.8zM157.6 272.3h.8v.8h-.8zM160.8 275.1h.8v.8h-.8zM162.3 271.8h.8v.8h-.8zM159.0 276.8h.8v.8h-.8zM147.1 272.6h.8v.8h-.8zM146.7 275.2h.8v.8h-.8zM147.8 269.9h.8v.8h-.8zM147.5 268.8h.8v.8h-.8zM160.4 272.1h.8v.8h-.8zM151.5 271.9h.8v.8h-.8zM148.9 277.5h.8v.8h-.8zM148.6 276.5h.8v.8h-.8zM160.2 274.8h.8v.8h-.8zM152.9 270.2h.8v.8h-.8zM151.1 270.4h.8v.8h-.8zM150.2 270.6h.8v.8h-.8zM159.7 276.8h.8v.8h-.8zM159.8 277.2h.8v.8h-.8zM153.1 271.2h.8v.8h-.8zM159.2 274.6h.8v.8h-.8zM149.3 273.8h.8v.8h-.8zM149.2 276.1h.8v.8h-.8zM162.0 278.2h.8v.8h-.8zM148.3 276.8h.8v.8h-.8zM146.3 273.3h.8v.8h-.8zM145.7 276.2h.8v.8h-.8zM148.9 276.4h.8v.8h-.8zM149.1 274.1h.8v.8h-.8zM152.8 270.6h.8v.8h-.8zM147.6 274.5h.8v.8h-.8zM155.2 270.3h.8v.8h-.8zM160.8 274.4h.8v.8h-.8zM149.3 276.3h.8v.8h-.8zM155.3 270.7h.8v.8h-.8zM160.5 277.3h.8v.8h-.8zM157.5 271.1h.8v.8h-.8zM147.6 273.1h.8v.8h-.8zM157.9 271.9h.8v.8h-.8zM159.0 274.7h.8v.8h-.8zM151.0 271.5h.8v.8h-.8zM161.7 274.3h.8v.8h-.8zM148.8 274.4h.8v.8h-.8zM147.8 273.1h.8v.8h-.8zM154.3 271.0h.8v.8h-.8zM152.9 271.6h.8v.8h-.8zM148.6 273.5h.8v.8h-.8zM161.4 276.9h.8v.8h-.8zM153.3 268.7h.8v.8h-.8zM160.1 274.9h.8v.8h-.8zM159.6 277.1h.8v.8h-.8zM160.2 276.1h.8v.8h-.8zM156.4 271.1h.8v.8h-.8zM159.2 273.6h.8v.8h-.8zM148.7 275.4h.8v.8h-.8zM151.4 271.5h.8v.8h-.8zM151.8 269.3h.8v.8h-.8zM151.8 267.9h.8v.8h-.8zM156.1 270.1h.8v.8h-.8zM149.6 272.5h.8v.8h-.8zM149.5 277.5h.8v.8h-.8zM161.6 272.8h.8v.8h-.8zM158.6 271.1h.8v.8h-.8zM149.0 274.0h.8v.8h-.8zM147.9 272.0h.8v.8h-.8zM152.5 271.8h.8v.8h-.8zM155.1 269.9h.8v.8h-.8zM152.7 271.6h.8v.8h-.8zM152.0 268.4h.8v.8h-.8zM148.9 271.1h.8v.8h-.8zM153.2 270.7h.8v.8h-.8zM144.5 274.2h.8v.8h-.8zM153.7 269.3h.8v.8h-.8zM153.4 271.4h.8v.8h-.8zM148.1 277.6h.8v.8h-.8zM153.5 269.6h.8v.8h-.8zM149.8 271.5h.8v.8h-.8zM151.2 271.7h.8v.8h-.8zM148.2 275.7h.8v.8h-.8zM154.9 270.7h.8v.8h-.8zM159.4 271.2h.8v.8h-.8zM156.7 271.9h.8v.8h-.8zM160.5 275.6h.8v.8h-.8zM159.1 269.4h.8v.8h-.8zM148.9 273.1h.8v.8h-.8zM153.8 268.4h.8v.8h-.8zM163.4 276.4h.8v.8h-.8zM151.0 271.0h.8v.8h-.8zM155.0 271.2h.8v.8h-.8zM154.1 270.3h.8v.8h-.8zM144.6 278.5h.8v.8h-.8zM149.0 273.3h.8v.8h-.8zM151.9 268.4h.8v.8h-.8zM154.4 268.3h.8v.8h-.8zM159.2 275.0h.8v.8h-.8zM148.4 272.2h.8v.8h-.8zM156.0 271.1h.8v.8h-.8zM156.5 269.3h.8v.8h-.8zM150.8 272.3h.8v.8h-.8zM149.5 274.6h.8v.8h-.8zM159.4 269.3h.8v.8h-.8zM149.7 273.1h.8v.8h-.8zM161.6 276.8h.8v.8h-.8zM157.1 271.6h.8v.8h-.8zM157.7 269.1h.8v.8h-.8zM149.1 270.3h.8v.8h-.8zM160.3 275.6h.8v.8h-.8zM146.8 274.1h.8v.8h-.8zM157.6 270.4h.8v.8h-.8zM160.8 267.4h.8v.8h-.8zM151.8 271.0h.8v.8h-.8zM158.3 273.2h.8v.8h-.8zM158.0 270.3h.8v.8h-.8zM149.2 275.5h.8v.8h-.8zM161.1 278.2h.8v.8h-.8zM155.3 269.9h.8v.8h-.8zM146.9 275.0h.8v.8h-.8zM156.8 271.0h.8v.8h-.8zM149.6 272.6h.8v.8h-.8zM147.9 277.2h.8v.8h-.8zM148.0 273.3h.8v.8h-.8zM158.3 273.5h.8v.8h-.8zM148.8 275.0h.8v.8h-.8zM158.9 270.8h.8v.8h-.8zM150.9 272.4h.8v.8h-.8zM151.3 271.2h.8v.8h-.8zM151.9 271.6h.8v.8h-.8zM150.6 271.1h.8v.8h-.8zM158.2 273.2h.8v.8h-.8zM159.5 277.2h.8v.8h-.8zM159.7 276.1h.8v.8h-.8zM153.2 270.1h.8v.8h-.8zM149.0 273.5h.8v.8h-.8zM160.7 270.1h.8v.8h-.8zM151.4 269.5h.8v.8h-.8zM145.8 272.9h.8v.8h-.8zM158.8 270.2h.8v.8h-.8zM163.4 271.8h.8v.8h-.8zM152.6 271.7h.8v.8h-.8zM147.6 276.6h.8v.8h-.8zM154.6 269.5h.8v.8h-.8zM159.9 274.8h.8v.8h-.8zM155.6 271.6h.8v.8h-.8zM155.6 270.3h.8v.8h-.8zM154.4 270.5h.8v.8h-.8zM153.5 270.8h.8v.8h-.8zM153.1 270.7h.8v.8h-.8zM151.7 271.1h.8v.8h-.8zM155.1 271.0h.8v.8h-.8zM154.9 269.9h.8v.8h-.8zM160.9 276.7h.8v.8h-.8zM149.2 277.0h.8v.8h-.8zM154.6 271.0h.8v.8h-.8zM153.6 270.7h.8v.8h-.8zM157.1 270.2h.8v.8h-.8zM157.8 269.8h.8v.8h-.8zM146.9 276.6h.8v.8h-.8zM156.4 271.2h.8v.8h-.8zM155.3 271.4h.8v.8h-.8zM159.1 271.7h.8v.8h-.8zM151.8 270.5h.8v.8h-.8zM156.6 271.8h.8v.8h-.8zM153.6 268.2h.8v.8h-.8zM158.7 274.2h.8v.8h-.8zM161.8 278.1h.8v.8h-.8zM153.5 270.4h.8v.8h-.8zM150.0 272.8h.8v.8h-.8zM149.9 270.9h.8v.8h-.8zM146.8 275.2h.8v.8h-.8zM160.0 272.7h.8v.8h-.8zM148.7 274.7h.8v.8h-.8zM146.6 274.8h.8v.8h-.8zM161.6 275.3h.8v.8h-.8zM149.4 272.5h.8v.8h-.8zM155.4 271.4h.8v.8h-.8zM157.8 270.7h.8v.8h-.8zM157.1 269.1h.8v.8h-.8zM158.2 270.9h.8v.8h-.8zM155.4 269.5h.8v.8h-.8zM158.5 271.3h.8v.8h-.8zM149.7 271.1h.8v.8h-.8zM148.6 273.0h.8v.8h-.8zM159.7 277.2h.8v.8h-.8zM148.8 269.0h.8v.8h-.8zM148.3 273.7h.8v.8h-.8zM159.7 277.7h.8v.8h-.8zM156.9 270.7h.8v.8h-.8zM148.3 275.5h.8v.8h-.8zM154.0 269.8h.8v.8h-.8zM157.3 272.2h.8v.8h-.8zM152.9 270.3h.8v.8h-.8zM148.1 271.6h.8v.8h-.8zM160.2 274.2h.8v.8h-.8zM149.2 277.1h.8v.8h-.8zM162.9 277.2h.8v.8h-.8zM159.7 277.6h.8v.8h-.8zM149.0 275.9h.8v.8h-.8zM157.7 272.6h.8v.8h-.8zM161.5 272.6h.8v.8h-.8zM160.7 272.1h.8v.8h-.8zM154.2 271.3h.8v.8h-.8zM148.2 276.3h.8v.8h-.8zM155.2 270.3h.8v.8h-.8zM154.8 271.3h.8v.8h-.8zM148.4 276.2h.8v.8h-.8zM146.7 274.2h.8v.8h-.8zM154.9 268.8h.8v.8h-.8zM147.1 272.5h.8v.8h-.8zM163.7 276.6h.8v.8h-.8zM148.7 271.2h.8v.8h-.8zM160.5 268.8h.8v.8h-.8zM159.0 271.0h.8v.8h-.8zM148.8 277.0h.8v.8h-.8zM151.2 271.6h.8v.8h-.8zM159.5 276.5h.8v.8h-.8zM160.3 273.6h.8v.8h-.8zM147.6 277.9h.8v.8h-.8zM148.8 276.3h.8v.8h-.8zM162.8 276.2h.8v.8h-.8zM159.6 267.4h.8v.8h-.8zM157.1 270.5h.8v.8h-.8zM160.7 275.6h.8v.8h-.8zM155.6 270.2h.8v.8h-.8zM150.8 270.7h.8v.8h-.8zM149.3 277.4h.8v.8h-.8zM148.1 275.9h.8v.8h-.8zM149.2 276.6h.8v.8h-.8zM162.1 267.9h.8v.8h-.8zM159.8 274.3h.8v.8h-.8zM150.4 268.6h.8v.8h-.8zM159.0 275.0h.8v.8h-.8zM154.9 269.9h.8v.8h-.8zM149.9 273.7h.8v.8h-.8zM161.5 272.5h.8v.8h-.8zM159.9 277.5h.8v.8h-.8zM153.5 270.0h.8v.8h-.8z" fill="#000" fill-opacity="0.42"/>
<ellipse cx="161.40" cy="281.10" rx="3.00" ry="0.60" fill="#444" fill-opacity="0.4" stroke="#111" stroke-width="0.9"/>
<path d="M147.90 273.95A6.70 6.30 0 0 1 160.67 274.47" fill="none" stroke="#111" stroke-width="1.3" stroke-opacity="0.75"/>
<ellipse cx="154.20" cy="276.10" rx="5.6" ry="5.2" fill="#9e9e9e" stroke="#111" stroke-width="1.3"/>
<ellipse cx="154.20" cy="276.40" rx="4.10" ry="3.70" fill="#bdbdbd" stroke="#444" stroke-width="0.6"/>
<ellipse cx="154.20" cy="276.60" rx="2.60" ry="2.20" fill="#d6d6d6" stroke="#777" stroke-width="0.5"/>
<path d="M162.30 282.20V237.70H189.40V282.20" fill="none" stroke="#777" stroke-width="0.9"/>
<text x="188.00" y="236.50" font-size="4.5" text-anchor="end" fill="#333" textLength="7.4" lengthAdjust="spacingAndGlyphs" >P13</text>
<path d="M145.40 282.20V229.90H198.10V282.20Z" fill="none" stroke="#222" stroke-width="1.2"/>
<line x1="142.20" y1="232.55" x2="145.40" y2="232.55" stroke="#333" stroke-width="0.7"/>
<text x="139.10" y="234.15" font-size="4.4" text-anchor="end" fill="#333" textLength="6.1" lengthAdjust="spacingAndGlyphs" >250</text>
<line x1="142.20" y1="242.45" x2="145.40" y2="242.45" stroke="#333" stroke-width="0.7"/>
<text x="139.10" y="244.05" font-size="4.4" text-anchor="end" fill="#333" textLength="6.1" lengthAdjust="spacingAndGlyphs" >200</text>
<line x1="142.20" y1="252.35" x2="145.40" y2="252.35" stroke="#333" stroke-width="0.7"/>
<text x="139.10" y="253.95" font-size="4.4" text-anchor="end" fill="#333" textLength="6.1" lengthAdjust="spacingAndGlyphs" >150</text>
<line x1="142.20" y1="262.25" x2="145.40" y2="262.25" stroke="#333" stroke-width="0.7"/>
<text x="139.10" y="263.85" font-size="4.4" text-anchor="end" fill="#333" textLength="6.1" lengthAdjust="spacingAndGlyphs" >100</text>
<line x1="142.20" y1="272.15" x2="145.40" y2="272.15" stroke="#333" stroke-width="0.7"/>
<text x="139.10" y="273.75" font-size="4.4" text-anchor="end" fill="#333" textLength="4.1" lengthAdjust="spacingAndGlyphs" >50</text>
<line x1="143.70" y1="232.55" x2="145.40" y2="232.55" stroke="#333" stroke-width="0.6"/>
<line x1="143.70" y1="234.53" x2="145.40" y2="234.53" stroke="#333" stroke-width="0.6"/>
<line x1="143.70" y1="236.51" x2="145.40" y2="236.51" stroke="#333" stroke-width="0.6"/>
<line x1="143.70" y1="238.49" x2="145.40" y2="238.49" stroke="#333" stroke-width="0.6"/>
<line x1="143.70" y1="240.47" x2="145.40" y2="240.47" stroke="#333" stroke-width="0.6"/>
<line x1="143.70" y1="242.45" x2="145.40" y2="242.45" stroke="#333" stroke-width="0.6"/>
<line x1="143.70" y1="244.43" x2="145.40" y2="244.43" stroke="#333" stroke-width="0.6"/>
<line x1="143.70" y1="246.41" x2="145.40" y2="246.41" stroke="#333" stroke-width="0.6"/>
<line x1="143.70" y1="248.39" x2="145.40" y2="248.39" stroke="#333" stroke-width="0.6"/>
<line x1="143.70" y1="250.37" x2="145.40" y2="250.37" stroke="#333" stroke-width="0.6"/>
<line x1="143.70" y1="252.35" x2="145.40" y2="252.35" stroke="#333" stroke-width="0.6"/>
<line x1="143.70" y1="254.33" x2="145.40" y2="254.33" stroke="#333" stroke-width="0.6"/>
<line x1="143.70" y1="256.31" x2="145.40" y2="256.31" stroke="#333" stroke-width="0.6"/>
<line x1="143.70" y1="258.29" x2="145.40" y2="258.29" stroke="#333" stroke-width="0.6"/>
<line x1="143.70" y1="260.27" x2="145.40" y2="260.27" stroke="#333" stroke-width="0.6"/>
<line x1="143.70" y1="262.25" x2="145.40" y2="262.25" stroke="#333" stroke-width="0.6"/>
<line x1="143.70" y1="264.23" x2="145.40" y2="264.23" stroke="#333" stroke-width="0.6"/>
<line x1="143.70" y1="266.21" x2="145.40" y2="266.21" stroke="#333" stroke-width="0.6"/>
<line x1="143.70" y1="268.19" x2="145.40" y2="268.19" stroke="#333" stroke-width="0.6"/>
<line x1="143.70" y1="270.17" x2="145.40" y2="270.17" stroke="#333" stroke-width="0.6"/>
<line x1="143.70" y1="272.15" x2="145.40" y2="272.15" stroke="#333" stroke-width="0.6"/>
<line x1="143.70" y1="274.13" x2="145.40" y2="274.13" stroke="#333" stroke-width="0.6"/>
<line x1="143.70" y1="276.11" x2="145.40" y2="276.11" stroke="#333" stroke-width="0.6"/>
<line x1="143.70" y1="278.09" x2="145.40" y2="278.09" stroke="#333" stroke-width="0.6"/>
<line x1="143.70" y1="280.07" x2="145.40" y2="280.07" stroke="#333" stroke-width="0.6"/>
<line x1="145.90" y1="282.20" x2="145.90" y2="285.20" stroke="#333" stroke-width="0.6"/>
<line x1="149.40" y1="282.20" x2="149.40" y2="285.20" stroke="#333" stroke-width="0.6"/>
<line x1="152.00" y1="282.20" x2="152.00" y2="285.20" stroke="#333" stroke-width="0.6"/>
<line x1="153.56" y1="282.20" x2="153.56" y2="284.30" stroke="#333" stroke-width="0.65"/>
<line x1="154.52" y1="282.20" x2="154.52" y2="284.30" stroke="#333" stroke-width="0.65"/>
<line x1="155.33" y1="282.20" x2="155.33" y2="284.30" stroke="#333" stroke-width="0.65"/>
<line x1="156.03" y1="282.20" x2="156.03" y2="284.30" stroke="#333" stroke-width="0.65"/>
<line x1="156.65" y1="282.20" x2="156.65" y2="284.30" stroke="#333" stroke-width="0.65"/>
<line x1="157.20" y1="282.20" x2="157.20" y2="285.80" stroke="#222" stroke-width="0.7"/>
<line x1="160.84" y1="282.20" x2="160.84" y2="284.30" stroke="#333" stroke-width="0.65"/>
<line x1="162.97" y1="282.20" x2="162.97" y2="284.30" stroke="#333" stroke-width="0.65"/>
<line x1="164.48" y1="282.20" x2="164.48" y2="284.30" stroke="#333" stroke-width="0.65"/>
<line x1="165.66" y1="282.20" x2="165.66" y2="284.30" stroke="#333" stroke-width="0.65"/>
<line x1="166.62" y1="282.20" x2="166.62" y2="284.30" stroke="#333" stroke-width="0.65"/>
<line x1="167.43" y1="282.20" x2="167.43" y2="284.30" stroke="#333" stroke-width="0.65"/>
<line x1="168.13" y1="282.20" x2="168.13" y2="284.30" stroke="#333" stroke-width="0.65"/>
<line x1="168.75" y1="282.20" x2="168.75" y2="284.30" stroke="#333" stroke-width="0.65"/>
<line x1="169.30" y1="282.20" x2="169.30" y2="285.80" stroke="#222" stroke-width="0.7"/>
<line x1="172.94" y1="282.20" x2="172.94" y2="284.30" stroke="#333" stroke-width="0.65"/>
<line x1="175.07" y1="282.20" x2="175.07" y2="284.30" stroke="#333" stroke-width="0.65"/>
<line x1="176.58" y1="282.20" x2="176.58" y2="284.30" stroke="#333" stroke-width="0.65"/>
<line x1="177.76" y1="282.20" x2="177.76" y2="284.30" stroke="#333" stroke-width="0.65"/>
<line x1="178.72" y1="282.20" x2="178.72" y2="284.30" stroke="#333" stroke-width="0.65"/>
<line x1="179.53" y1="282.20" x2="179.53" y2="284.30" stroke="#333" stroke-width="0.65"/>
<line x1="180.23" y1="282.20" x2="180.23" y2="284.30" stroke="#333" stroke-width="0.65"/>
<line x1="180.85" y1="282.20" x2="180.85" y2="284.30" stroke="#333" stroke-width="0.65"/>
<line x1="181.40" y1="282.20" x2="181.40" y2="285.80" stroke="#222" stroke-width="0.7"/>
<line x1="185.04" y1="282.20" x2="185.04" y2="284.30" stroke="#333" stroke-width="0.65"/>
<line x1="187.17" y1="282.20" x2="187.17" y2="284.30" stroke="#333" stroke-width="0.65"/>
<line x1="188.68" y1="282.20" x2="188.68" y2="284.30" stroke="#333" stroke-width="0.65"/>
<line x1="189.86" y1="282.20" x2="189.86" y2="284.30" stroke="#333" stroke-width="0.65"/>
<line x1="190.82" y1="282.20" x2="190.82" y2="284.30" stroke="#333" stroke-width="0.65"/>
<line x1="191.63" y1="282.20" x2="191.63" y2="284.30" stroke="#333" stroke-width="0.65"/>
<line x1="192.33" y1="282.20" x2="192.33" y2="284.30" stroke="#333" stroke-width="0.65"/>
<line x1="192.95" y1="282.20" x2="192.95" y2="284.30" stroke="#333" stroke-width="0.65"/>
<line x1="193.50" y1="282.20" x2="193.50" y2="285.80" stroke="#222" stroke-width="0.7"/>
<line x1="197.14" y1="282.20" x2="197.14" y2="284.30" stroke="#333" stroke-width="0.65"/>
<text x="143.40" y="293.90" font-size="4.4" text-anchor="middle" fill="#333" textLength="8.8" lengthAdjust="spacingAndGlyphs" >−243</text>
<text x="151.10" y="291.60" font-size="4.6" text-anchor="middle" fill="#333" >0</text>
<text x="153.30" y="292.00" font-size="4.6" fill="#333"><tspan textLength="4.0" lengthAdjust="spacingAndGlyphs">10</tspan><tspan font-size="2.6" dy="-2.4" dx="0.3">2</tspan></text>
<text x="165.40" y="292.00" font-size="4.6" fill="#333"><tspan textLength="4.0" lengthAdjust="spacingAndGlyphs">10</tspan><tspan font-size="2.6" dy="-2.4" dx="0.3">3</tspan></text>
<text x="177.50" y="292.00" font-size="4.6" fill="#333"><tspan textLength="4.0" lengthAdjust="spacingAndGlyphs">10</tspan><tspan font-size="2.6" dy="-2.4" dx="0.3">4</tspan></text>
<text x="189.60" y="292.00" font-size="4.6" fill="#333"><tspan textLength="4.0" lengthAdjust="spacingAndGlyphs">10</tspan><tspan font-size="2.6" dy="-2.4" dx="0.3">5</tspan></text>
<text x="154.50" y="300.70" font-size="7.2" text-anchor="start" fill="#111" textLength="34.4" lengthAdjust="spacingAndGlyphs" >CD34 APC-A</text>
<text transform="translate(128.00,255.50) rotate(-90)" font-size="6.4" text-anchor="middle" fill="#111" textLength="16.3" lengthAdjust="spacingAndGlyphs" >SSC-A</text>
<text transform="translate(127.90,237.20) rotate(-90)" font-size="4.2" text-anchor="middle" fill="#333" textLength="15.7" lengthAdjust="spacingAndGlyphs" >(x 1,000)</text>
<text x="172.00" y="223.90" font-size="7.2" text-anchor="middle" fill="#111" textLength="13.12" lengthAdjust="spacingAndGlyphs" >0.3%</text>
<line x1="270.50" y1="26.40" x2="270.50" y2="142.50" stroke="#111" stroke-width="1.2"/>
<line x1="267.20" y1="141.90" x2="270.50" y2="141.90" stroke="#111" stroke-width="1.0"/>
<text x="263.90" y="144.45" font-size="7.3" text-anchor="end" fill="#111" >0</text>
<line x1="267.20" y1="127.85" x2="270.50" y2="127.85" stroke="#111" stroke-width="1.0"/>
<text x="263.90" y="130.40" font-size="7.3" text-anchor="end" fill="#111" >20</text>
<line x1="267.20" y1="113.80" x2="270.50" y2="113.80" stroke="#111" stroke-width="1.0"/>
<text x="263.90" y="116.35" font-size="7.3" text-anchor="end" fill="#111" >40</text>
<line x1="267.20" y1="99.75" x2="270.50" y2="99.75" stroke="#111" stroke-width="1.0"/>
<text x="263.90" y="102.30" font-size="7.3" text-anchor="end" fill="#111" >60</text>
<line x1="267.20" y1="85.70" x2="270.50" y2="85.70" stroke="#111" stroke-width="1.0"/>
<text x="263.90" y="88.25" font-size="7.3" text-anchor="end" fill="#111" >80</text>
<line x1="267.20" y1="71.65" x2="270.50" y2="71.65" stroke="#111" stroke-width="1.0"/>
<text x="263.90" y="74.20" font-size="7.3" text-anchor="end" fill="#111" >100</text>
<line x1="267.20" y1="57.60" x2="270.50" y2="57.60" stroke="#111" stroke-width="1.0"/>
<text x="263.90" y="60.15" font-size="7.3" text-anchor="end" fill="#111" >120</text>
<line x1="267.20" y1="43.55" x2="270.50" y2="43.55" stroke="#111" stroke-width="1.0"/>
<text x="263.90" y="46.10" font-size="7.3" text-anchor="end" fill="#111" >140</text>
<line x1="267.20" y1="29.50" x2="270.50" y2="29.50" stroke="#111" stroke-width="1.0"/>
<text x="263.90" y="32.05" font-size="7.3" text-anchor="end" fill="#111" >160</text>
<line x1="269.90" y1="141.90" x2="352.50" y2="141.90" stroke="#111" stroke-width="1.2"/>
<line x1="270.50" y1="141.90" x2="270.50" y2="145.10" stroke="#111" stroke-width="1.0"/>
<line x1="298.25" y1="141.90" x2="298.25" y2="145.10" stroke="#111" stroke-width="1.0"/>
<line x1="326.20" y1="141.90" x2="326.20" y2="145.10" stroke="#111" stroke-width="1.0"/>
<rect x="276.65" y="103.97" width="7.75" height="37.94" fill="#a3002a" />
<rect x="284.40" y="130.66" width="7.75" height="11.24" fill="#2e4f84" />
<line x1="280.52" y1="87.11" x2="280.52" y2="103.97" stroke="#222" stroke-width="0.9"/>
<line x1="278.88" y1="87.11" x2="282.17" y2="87.11" stroke="#111" stroke-width="1.1"/>
<line x1="288.27" y1="122.93" x2="288.27" y2="130.66" stroke="#222" stroke-width="0.9"/>
<line x1="286.62" y1="122.93" x2="289.92" y2="122.93" stroke="#111" stroke-width="1.1"/>
<rect x="304.55" y="68.84" width="7.75" height="73.06" fill="#a3002a" />
<rect x="312.30" y="77.97" width="7.75" height="63.93" fill="#2e4f84" />
<line x1="308.43" y1="59.71" x2="308.43" y2="68.84" stroke="#222" stroke-width="0.9"/>
<line x1="306.78" y1="59.71" x2="310.07" y2="59.71" stroke="#111" stroke-width="1.1"/>
<line x1="316.18" y1="47.77" x2="316.18" y2="77.97" stroke="#222" stroke-width="0.9"/>
<line x1="314.53" y1="47.77" x2="317.82" y2="47.77" stroke="#111" stroke-width="1.1"/>
<rect x="332.45" y="109.59" width="7.75" height="32.31" fill="#a3002a" />
<rect x="340.20" y="136.98" width="7.75" height="4.92" fill="#2e4f84" />
<line x1="336.32" y1="77.62" x2="336.32" y2="109.59" stroke="#222" stroke-width="0.9"/>
<line x1="334.68" y1="77.62" x2="337.97" y2="77.62" stroke="#111" stroke-width="1.1"/>
<line x1="344.07" y1="133.47" x2="344.07" y2="136.98" stroke="#222" stroke-width="0.9"/>
<line x1="342.43" y1="133.47" x2="345.72" y2="133.47" stroke="#111" stroke-width="1.1"/>
<rect x="327.00" y="27.00" width="6.00" height="6.30" fill="#a3002a" />
<text x="335.80" y="32.60" font-size="7.3" text-anchor="start" fill="#111" >MM</text>
<rect x="327.00" y="40.50" width="6.00" height="6.30" fill="#2e4f84" />
<text x="335.80" y="46.10" font-size="7.3" text-anchor="start" fill="#111" >Ime</text>
<text x="284.60" y="155.20" font-size="8.0" text-anchor="middle" fill="#111" textLength="11.2" lengthAdjust="spacingAndGlyphs" >Pt5</text>
<text x="312.40" y="155.20" font-size="8.0" text-anchor="middle" fill="#111" textLength="11.4" lengthAdjust="spacingAndGlyphs" >Pt8</text>
<text x="340.20" y="155.20" font-size="8.0" text-anchor="middle" fill="#111" textLength="15.9" lengthAdjust="spacingAndGlyphs" >Pt10</text>
<text transform="translate(223.00,84.00) rotate(-90)" font-size="9.2" text-anchor="middle" fill="#111" textLength="128.3" lengthAdjust="spacingAndGlyphs" >Absolute No. of hCD45+ cells in</text>
<text transform="translate(234.10,84.00) rotate(-90)" font-size="9.2" text-anchor="middle" fill="#111" textLength="146.9" lengthAdjust="spacingAndGlyphs" >marrow of primary recipient mouse</text>
<text transform="translate(244.60,84.00) rotate(-90)" font-size="9.2" text-anchor="middle" fill="#111" textLength="81" lengthAdjust="spacingAndGlyphs" >(% of vehicle alone)</text>
<line x1="270.20" y1="188.30" x2="270.20" y2="304.10" stroke="#111" stroke-width="1.2"/>
<line x1="266.90" y1="303.50" x2="270.20" y2="303.50" stroke="#111" stroke-width="1.0"/>
<text x="263.90" y="306.05" font-size="7.3" text-anchor="end" fill="#111" >0</text>
<line x1="266.90" y1="287.25" x2="270.20" y2="287.25" stroke="#111" stroke-width="1.0"/>
<text x="263.90" y="289.80" font-size="7.3" text-anchor="end" fill="#111" >10</text>
<line x1="266.90" y1="271.00" x2="270.20" y2="271.00" stroke="#111" stroke-width="1.0"/>
<text x="263.90" y="273.55" font-size="7.3" text-anchor="end" fill="#111" >20</text>
<line x1="266.90" y1="254.75" x2="270.20" y2="254.75" stroke="#111" stroke-width="1.0"/>
<text x="263.90" y="257.30" font-size="7.3" text-anchor="end" fill="#111" >30</text>
<line x1="266.90" y1="238.50" x2="270.20" y2="238.50" stroke="#111" stroke-width="1.0"/>
<text x="263.90" y="241.05" font-size="7.3" text-anchor="end" fill="#111" >40</text>
<line x1="266.90" y1="222.25" x2="270.20" y2="222.25" stroke="#111" stroke-width="1.0"/>
<text x="263.90" y="224.80" font-size="7.3" text-anchor="end" fill="#111" >50</text>
<line x1="266.90" y1="206.00" x2="270.20" y2="206.00" stroke="#111" stroke-width="1.0"/>
<text x="263.90" y="208.55" font-size="7.3" text-anchor="end" fill="#111" >60</text>
<line x1="266.90" y1="189.75" x2="270.20" y2="189.75" stroke="#111" stroke-width="1.0"/>
<text x="263.90" y="192.30" font-size="7.3" text-anchor="end" fill="#111" >70</text>
<line x1="269.60" y1="303.50" x2="348.70" y2="303.50" stroke="#111" stroke-width="1.2"/>
<line x1="270.20" y1="303.50" x2="270.20" y2="306.70" stroke="#111" stroke-width="1.0"/>
<line x1="308.80" y1="303.50" x2="308.80" y2="306.70" stroke="#111" stroke-width="1.0"/>
<line x1="348.50" y1="303.50" x2="348.50" y2="306.70" stroke="#111" stroke-width="1.0"/>
<rect x="279.00" y="231.19" width="10.50" height="72.31" fill="#a3002a" />
<rect x="289.50" y="267.75" width="10.50" height="35.75" fill="#2e4f84" />
<line x1="284.25" y1="197.88" x2="284.25" y2="231.19" stroke="#222" stroke-width="0.9"/>
<line x1="282.60" y1="197.88" x2="285.90" y2="197.88" stroke="#111" stroke-width="1.1"/>
<line x1="294.75" y1="247.44" x2="294.75" y2="267.75" stroke="#222" stroke-width="0.9"/>
<line x1="293.10" y1="247.44" x2="296.40" y2="247.44" stroke="#111" stroke-width="1.1"/>
<rect x="316.50" y="280.75" width="10.50" height="22.75" fill="#a3002a" />
<rect x="327.00" y="290.01" width="10.50" height="13.49" fill="#2e4f84" />
<rect x="326.75" y="185.30" width="6.00" height="6.30" fill="#a3002a" />
<text x="335.55" y="190.90" font-size="7.3" text-anchor="start" fill="#111" >MM</text>
<rect x="326.75" y="198.30" width="6.00" height="6.30" fill="#2e4f84" />
<text x="335.55" y="203.90" font-size="7.3" text-anchor="start" fill="#111" >Ime</text>
<text x="289.70" y="316.50" font-size="8.0" text-anchor="middle" fill="#111" textLength="11.2" lengthAdjust="spacingAndGlyphs" >Pt5</text>
<text x="327.30" y="316.50" font-size="8.0" text-anchor="middle" fill="#111" textLength="15.9" lengthAdjust="spacingAndGlyphs" >Pt10</text>
<text transform="translate(227.20,245.40) rotate(-90)" font-size="9.2" text-anchor="middle" fill="#111" textLength="129.5" lengthAdjust="spacingAndGlyphs" >Absolute No. of hCD34+ cells in</text>
<text transform="translate(237.70,245.40) rotate(-90)" font-size="9.2" text-anchor="middle" fill="#111" textLength="145.8" lengthAdjust="spacingAndGlyphs" >marrow of primary recipient mouse</text>
<text transform="translate(248.60,245.40) rotate(-90)" font-size="9.2" text-anchor="middle" fill="#111" textLength="81.7" lengthAdjust="spacingAndGlyphs" >(% of vehicle alone)</text>
<line x1="420.20" y1="35.20" x2="420.20" y2="142.20" stroke="#111" stroke-width="1.2"/>
<line x1="416.90" y1="141.60" x2="420.20" y2="141.60" stroke="#111" stroke-width="1.0"/>
<text x="414.20" y="144.15" font-size="7.3" text-anchor="end" fill="#111" >0</text>
<line x1="416.90" y1="128.65" x2="420.20" y2="128.65" stroke="#111" stroke-width="1.0"/>
<text x="414.20" y="131.20" font-size="7.3" text-anchor="end" fill="#111" >10</text>
<line x1="416.90" y1="115.70" x2="420.20" y2="115.70" stroke="#111" stroke-width="1.0"/>
<text x="414.20" y="118.25" font-size="7.3" text-anchor="end" fill="#111" >20</text>
<line x1="416.90" y1="102.75" x2="420.20" y2="102.75" stroke="#111" stroke-width="1.0"/>
<text x="414.20" y="105.30" font-size="7.3" text-anchor="end" fill="#111" >30</text>
<line x1="416.90" y1="89.80" x2="420.20" y2="89.80" stroke="#111" stroke-width="1.0"/>
<text x="414.20" y="92.35" font-size="7.3" text-anchor="end" fill="#111" >40</text>
<line x1="416.90" y1="76.85" x2="420.20" y2="76.85" stroke="#111" stroke-width="1.0"/>
<text x="414.20" y="79.40" font-size="7.3" text-anchor="end" fill="#111" >50</text>
<line x1="416.90" y1="63.90" x2="420.20" y2="63.90" stroke="#111" stroke-width="1.0"/>
<text x="414.20" y="66.45" font-size="7.3" text-anchor="end" fill="#111" >60</text>
<line x1="416.90" y1="50.95" x2="420.20" y2="50.95" stroke="#111" stroke-width="1.0"/>
<text x="414.20" y="53.50" font-size="7.3" text-anchor="end" fill="#111" >70</text>
<line x1="416.90" y1="38.00" x2="420.20" y2="38.00" stroke="#111" stroke-width="1.0"/>
<text x="414.20" y="40.55" font-size="7.3" text-anchor="end" fill="#111" >80</text>
<line x1="419.60" y1="141.60" x2="499.00" y2="141.60" stroke="#111" stroke-width="1.2"/>
<line x1="420.20" y1="141.60" x2="420.20" y2="144.80" stroke="#111" stroke-width="1.0"/>
<line x1="457.60" y1="141.60" x2="457.60" y2="144.80" stroke="#111" stroke-width="1.0"/>
<line x1="495.30" y1="141.60" x2="495.30" y2="144.80" stroke="#111" stroke-width="1.0"/>
<rect x="428.50" y="52.25" width="10.50" height="89.35" fill="#a3002a" />
<rect x="439.00" y="140.31" width="10.50" height="1.29" fill="#2e4f84" />
<rect x="466.00" y="52.25" width="10.50" height="89.35" fill="#a3002a" />
<rect x="476.50" y="113.11" width="10.50" height="28.49" fill="#2e4f84" />
<rect x="490.50" y="27.00" width="6.00" height="6.30" fill="#a3002a" />
<text x="499.30" y="32.60" font-size="7.3" text-anchor="start" fill="#111" >MM</text>
<rect x="490.50" y="40.50" width="6.00" height="6.30" fill="#2e4f84" />
<text x="499.30" y="46.10" font-size="7.3" text-anchor="start" fill="#111" >Ime</text>
<text x="439.00" y="155.00" font-size="8.1" text-anchor="middle" fill="#111" textLength="27.9" lengthAdjust="spacingAndGlyphs" >hCD45+</text>
<text x="476.80" y="155.00" font-size="8.1" text-anchor="middle" fill="#111" textLength="27.9" lengthAdjust="spacingAndGlyphs" >hCD34+</text>
<text transform="translate(377.10,84.50) rotate(-90)" font-size="9.2" text-anchor="middle" fill="#111" textLength="121.8" lengthAdjust="spacingAndGlyphs" >% of human cells in marrow of</text>
<text transform="translate(387.60,84.50) rotate(-90)" font-size="9.2" text-anchor="middle" fill="#111" textLength="111.2" lengthAdjust="spacingAndGlyphs" >secondary recipient mouse</text>
<text transform="translate(398.00,84.50) rotate(-90)" font-size="9.2" text-anchor="middle" fill="#111" textLength="103.9" lengthAdjust="spacingAndGlyphs" >(relative to vehicle alone)</text>
<line x1="422.40" y1="217.20" x2="422.40" y2="303.80" stroke="#111" stroke-width="1.2"/>
<line x1="419.10" y1="303.20" x2="422.40" y2="303.20" stroke="#111" stroke-width="1.0"/>
<text x="416.40" y="305.75" font-size="7.3" text-anchor="end" fill="#111" >0</text>
<line x1="419.10" y1="292.87" x2="422.40" y2="292.87" stroke="#111" stroke-width="1.0"/>
<text x="416.40" y="295.42" font-size="7.3" text-anchor="end" fill="#111" >0.2</text>
<line x1="419.10" y1="282.54" x2="422.40" y2="282.54" stroke="#111" stroke-width="1.0"/>
<text x="416.40" y="285.09" font-size="7.3" text-anchor="end" fill="#111" >0.4</text>
<line x1="419.10" y1="272.21" x2="422.40" y2="272.21" stroke="#111" stroke-width="1.0"/>
<text x="416.40" y="274.76" font-size="7.3" text-anchor="end" fill="#111" >0.6</text>
<line x1="419.10" y1="261.88" x2="422.40" y2="261.88" stroke="#111" stroke-width="1.0"/>
<text x="416.40" y="264.43" font-size="7.3" text-anchor="end" fill="#111" >0.8</text>
<line x1="419.10" y1="251.55" x2="422.40" y2="251.55" stroke="#111" stroke-width="1.0"/>
<text x="416.40" y="254.10" font-size="7.3" text-anchor="end" fill="#111" >1</text>
<line x1="419.10" y1="241.22" x2="422.40" y2="241.22" stroke="#111" stroke-width="1.0"/>
<text x="416.40" y="243.77" font-size="7.3" text-anchor="end" fill="#111" >1.2</text>
<line x1="419.10" y1="230.89" x2="422.40" y2="230.89" stroke="#111" stroke-width="1.0"/>
<text x="416.40" y="233.44" font-size="7.3" text-anchor="end" fill="#111" >1.4</text>
<line x1="419.10" y1="220.56" x2="422.40" y2="220.56" stroke="#111" stroke-width="1.0"/>
<text x="416.40" y="223.11" font-size="7.3" text-anchor="end" fill="#111" >1.6</text>
<line x1="421.80" y1="303.20" x2="484.80" y2="303.20" stroke="#111" stroke-width="1.2"/>
<line x1="422.40" y1="303.20" x2="422.40" y2="306.40" stroke="#111" stroke-width="1.0"/>
<line x1="452.30" y1="303.20" x2="452.30" y2="306.40" stroke="#111" stroke-width="1.0"/>
<line x1="481.90" y1="303.20" x2="481.90" y2="306.40" stroke="#111" stroke-width="1.0"/>
<rect x="427.35" y="224.95" width="6.90" height="78.25" fill="#6ba445" />
<rect x="434.25" y="250.00" width="6.90" height="53.20" fill="#a3002a" />
<rect x="441.15" y="301.65" width="6.90" height="1.55" fill="#2e4f84" />
<rect x="456.85" y="224.69" width="6.90" height="78.51" fill="#6ba445" />
<rect x="463.75" y="251.03" width="6.90" height="52.17" fill="#a3002a" />
<rect x="470.65" y="286.16" width="6.90" height="17.04" fill="#2e4f84" />
<rect x="470.75" y="185.75" width="5.80" height="6.10" fill="#6ba445" />
<text x="479.50" y="191.25" font-size="7.3" text-anchor="start" fill="#111" >Vehicle</text>
<rect x="470.75" y="196.25" width="5.80" height="6.10" fill="#a3002a" />
<text x="479.50" y="201.75" font-size="7.3" text-anchor="start" fill="#111" >MM</text>
<rect x="470.75" y="206.75" width="5.80" height="6.10" fill="#2e4f84" />
<text x="479.50" y="212.25" font-size="7.3" text-anchor="start" fill="#111" >Ime</text>
<text transform="translate(441.30,313.20) rotate(-45)" font-size="8.0" text-anchor="end" fill="#111" textLength="28.5" lengthAdjust="spacingAndGlyphs" >hCD45+</text>
<text transform="translate(470.30,313.20) rotate(-45)" font-size="8.0" text-anchor="end" fill="#111" textLength="28.5" lengthAdjust="spacingAndGlyphs" >hCD34+</text>
<text transform="translate(389.3,259.5) rotate(-90)" font-size="9.2" text-anchor="middle" fill="#111" textLength="157.3" lengthAdjust="spacingAndGlyphs">Absolute No. of human cells in marrow</text>
<text transform="translate(398.7,334.9) rotate(-90)" font-size="9.2" fill="#111" textLength="142.6" lengthAdjust="spacingAndGlyphs">of secondary recipient mouse (×10</text>
<text transform="translate(395.6,192.2) rotate(-90)" font-size="6.0" fill="#111">4</text>
<text transform="translate(398.7,188.8) rotate(-90)" font-size="9.2" fill="#111">)</text>
<rect x="0.00" y="0.00" width="520.00" height="1.00" fill="#1c1c1c" />
<rect x="0.00" y="1.00" width="520.00" height="0.60" fill="#777" />
<rect x="0.00" y="0.00" width="1.20" height="344.00" fill="#3c3c3c" />
<rect x="1.20" y="0.00" width="0.80" height="344.00" fill="#777" />
<rect x="518.90" y="0.00" width="1.10" height="344.00" fill="#111" />
<rect x="0.00" y="342.70" width="520.00" height="1.30" fill="#0c0c0c" /></svg>
</body></html>
